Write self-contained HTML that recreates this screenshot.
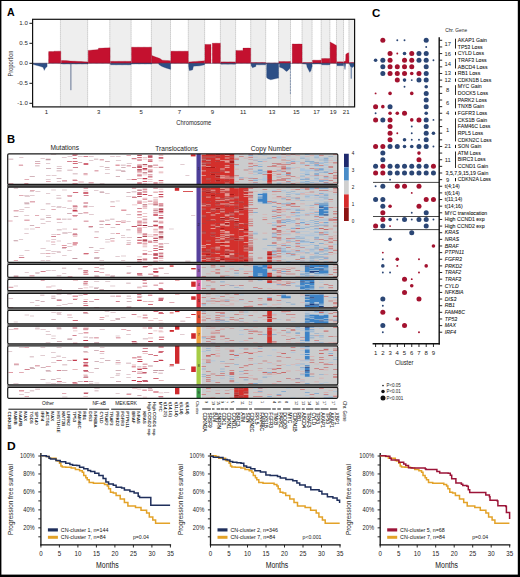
<!DOCTYPE html>
<html><head><meta charset="utf-8"><title>Figure</title>
<style>html,body{margin:0;padding:0;background:#fff;width:520px;height:577px;overflow:hidden}
svg{display:block;font-family:"Liberation Sans", sans-serif}</style></head>
<body><svg width="520" height="577" viewBox="0 0 520 577">
<rect width="520" height="577" fill="#fff"/>
<text x="7.0" y="16.2" font-size="10.6" font-weight="bold" font-family='"Liberation Sans", sans-serif'>A</text>
<rect x="60.45" y="19.3" width="27.18" height="87.7" fill="#eeeeee"/>
<rect x="109.77" y="19.3" width="21.36" height="87.7" fill="#eeeeee"/>
<rect x="151.38" y="19.3" width="19.13" height="87.7" fill="#eeeeee"/>
<rect x="188.29" y="19.3" width="16.33" height="87.7" fill="#eeeeee"/>
<rect x="220.39" y="19.3" width="15.21" height="87.7" fill="#eeeeee"/>
<rect x="250.70" y="19.3" width="14.99" height="87.7" fill="#eeeeee"/>
<rect x="278.55" y="19.3" width="11.97" height="87.7" fill="#eeeeee"/>
<rect x="302.03" y="19.3" width="10.07" height="87.7" fill="#eeeeee"/>
<rect x="321.16" y="19.3" width="8.72" height="87.7" fill="#eeeeee"/>
<rect x="336.48" y="19.3" width="7.05" height="87.7" fill="#eeeeee"/>
<rect x="348.90" y="19.3" width="5.70" height="87.7" fill="#eeeeee"/>
<line x1="60.45" y1="19.6" x2="60.45" y2="106.6" stroke="#8c8c8c" stroke-width="0.6" stroke-dasharray="1 1"/>
<line x1="87.63" y1="19.6" x2="87.63" y2="106.6" stroke="#8c8c8c" stroke-width="0.6" stroke-dasharray="1 1"/>
<line x1="109.77" y1="19.6" x2="109.77" y2="106.6" stroke="#8c8c8c" stroke-width="0.6" stroke-dasharray="1 1"/>
<line x1="131.13" y1="19.6" x2="131.13" y2="106.6" stroke="#8c8c8c" stroke-width="0.6" stroke-dasharray="1 1"/>
<line x1="151.38" y1="19.6" x2="151.38" y2="106.6" stroke="#8c8c8c" stroke-width="0.6" stroke-dasharray="1 1"/>
<line x1="170.50" y1="19.6" x2="170.50" y2="106.6" stroke="#8c8c8c" stroke-width="0.6" stroke-dasharray="1 1"/>
<line x1="188.29" y1="19.6" x2="188.29" y2="106.6" stroke="#8c8c8c" stroke-width="0.6" stroke-dasharray="1 1"/>
<line x1="204.62" y1="19.6" x2="204.62" y2="106.6" stroke="#8c8c8c" stroke-width="0.6" stroke-dasharray="1 1"/>
<line x1="220.39" y1="19.6" x2="220.39" y2="106.6" stroke="#8c8c8c" stroke-width="0.6" stroke-dasharray="1 1"/>
<line x1="235.60" y1="19.6" x2="235.60" y2="106.6" stroke="#8c8c8c" stroke-width="0.6" stroke-dasharray="1 1"/>
<line x1="250.70" y1="19.6" x2="250.70" y2="106.6" stroke="#8c8c8c" stroke-width="0.6" stroke-dasharray="1 1"/>
<line x1="265.68" y1="19.6" x2="265.68" y2="106.6" stroke="#8c8c8c" stroke-width="0.6" stroke-dasharray="1 1"/>
<line x1="278.55" y1="19.6" x2="278.55" y2="106.6" stroke="#8c8c8c" stroke-width="0.6" stroke-dasharray="1 1"/>
<line x1="290.51" y1="19.6" x2="290.51" y2="106.6" stroke="#8c8c8c" stroke-width="0.6" stroke-dasharray="1 1"/>
<line x1="302.03" y1="19.6" x2="302.03" y2="106.6" stroke="#8c8c8c" stroke-width="0.6" stroke-dasharray="1 1"/>
<line x1="312.10" y1="19.6" x2="312.10" y2="106.6" stroke="#8c8c8c" stroke-width="0.6" stroke-dasharray="1 1"/>
<line x1="321.16" y1="19.6" x2="321.16" y2="106.6" stroke="#8c8c8c" stroke-width="0.6" stroke-dasharray="1 1"/>
<line x1="329.88" y1="19.6" x2="329.88" y2="106.6" stroke="#8c8c8c" stroke-width="0.6" stroke-dasharray="1 1"/>
<line x1="336.48" y1="19.6" x2="336.48" y2="106.6" stroke="#8c8c8c" stroke-width="0.6" stroke-dasharray="1 1"/>
<line x1="343.53" y1="19.6" x2="343.53" y2="106.6" stroke="#8c8c8c" stroke-width="0.6" stroke-dasharray="1 1"/>
<line x1="348.90" y1="19.6" x2="348.90" y2="106.6" stroke="#8c8c8c" stroke-width="0.6" stroke-dasharray="1 1"/>
<path d="M48.60,63.30 L48.60,51.60 L54.00,51.60 L54.00,51.20 L60.80,51.20 L60.80,63.30 Z" fill="#c4112f" stroke="#8e0c26" stroke-width="0.45" stroke-dasharray="0.7 0.5"/>
<path d="M61.30,63.30 L61.30,60.50 L66.00,60.60 L70.00,61.00 L76.00,61.30 L82.00,61.60 L88.00,61.90 L88.00,63.30 Z" fill="#c4112f" stroke="#8e0c26" stroke-width="0.45" stroke-dasharray="0.7 0.5"/>
<path d="M88.20,63.30 L88.20,50.40 L93.00,50.00 L98.30,49.60 L98.40,48.30 L104.00,48.00 L110.10,47.80 L110.10,63.30 Z" fill="#c4112f" stroke="#8e0c26" stroke-width="0.45" stroke-dasharray="0.7 0.5"/>
<path d="M110.50,63.30 L110.50,61.30 L131.20,61.30 L131.20,63.30 Z" fill="#c4112f" stroke="#8e0c26" stroke-width="0.45" stroke-dasharray="0.7 0.5"/>
<path d="M131.50,63.30 L131.50,47.20 L151.60,47.20 L151.60,63.30 Z" fill="#c4112f" stroke="#8e0c26" stroke-width="0.45" stroke-dasharray="0.7 0.5"/>
<path d="M151.80,63.30 L151.80,55.60 L156.50,57.30 L160.00,58.60 L162.30,60.20 L170.60,60.80 L170.60,63.30 Z" fill="#c4112f" stroke="#8e0c26" stroke-width="0.45" stroke-dasharray="0.7 0.5"/>
<path d="M170.90,63.30 L170.90,51.20 L188.30,51.20 L188.30,63.30 Z" fill="#c4112f" stroke="#8e0c26" stroke-width="0.45" stroke-dasharray="0.7 0.5"/>
<path d="M188.60,63.30 L188.60,61.90 L196.00,61.40 L204.60,60.80 L204.60,63.30 Z" fill="#c4112f" stroke="#8e0c26" stroke-width="0.45" stroke-dasharray="0.7 0.5"/>
<path d="M204.90,63.30 L204.90,44.40 L211.00,44.40 L211.00,63.30 Z" fill="#c4112f" stroke="#8e0c26" stroke-width="0.45" stroke-dasharray="0.7 0.5"/>
<path d="M212.30,63.30 L212.30,43.20 L220.40,43.20 L220.40,63.30 Z" fill="#c4112f" stroke="#8e0c26" stroke-width="0.45" stroke-dasharray="0.7 0.5"/>
<path d="M220.80,63.30 L220.80,61.90 L235.60,61.90 L235.60,63.30 Z" fill="#c4112f" stroke="#8e0c26" stroke-width="0.45" stroke-dasharray="0.7 0.5"/>
<path d="M235.90,63.30 L235.90,50.40 L243.00,50.40 L243.00,48.10 L250.70,48.10 L250.70,63.30 Z" fill="#c4112f" stroke="#8e0c26" stroke-width="0.45" stroke-dasharray="0.7 0.5"/>
<path d="M251.10,63.30 L251.10,62.50 L265.70,62.50 L265.70,63.30 Z" fill="#c4112f" stroke="#8e0c26" stroke-width="0.45" stroke-dasharray="0.7 0.5"/>
<path d="M266.00,63.30 L266.00,63.00 L278.60,63.00 L278.60,63.30 Z" fill="#c4112f" stroke="#8e0c26" stroke-width="0.45" stroke-dasharray="0.7 0.5"/>
<path d="M278.90,63.30 L278.90,61.50 L290.50,61.50 L290.50,63.30 Z" fill="#c4112f" stroke="#8e0c26" stroke-width="0.45" stroke-dasharray="0.7 0.5"/>
<path d="M292.20,63.30 L292.20,44.00 L302.10,44.00 L302.10,63.30 Z" fill="#c4112f" stroke="#8e0c26" stroke-width="0.45" stroke-dasharray="0.7 0.5"/>
<path d="M302.50,63.30 L302.50,62.50 L312.10,62.50 L312.10,63.30 Z" fill="#c4112f" stroke="#8e0c26" stroke-width="0.45" stroke-dasharray="0.7 0.5"/>
<path d="M312.50,63.30 L312.50,60.20 L321.20,60.20 L321.20,63.30 Z" fill="#c4112f" stroke="#8e0c26" stroke-width="0.45" stroke-dasharray="0.7 0.5"/>
<path d="M321.60,63.30 L321.60,58.50 L329.90,58.50 L329.90,63.30 Z" fill="#c4112f" stroke="#8e0c26" stroke-width="0.45" stroke-dasharray="0.7 0.5"/>
<path d="M330.10,63.30 L330.10,42.00 L333.00,43.50 L336.50,45.60 L336.50,63.30 Z" fill="#c4112f" stroke="#8e0c26" stroke-width="0.45" stroke-dasharray="0.7 0.5"/>
<path d="M336.90,63.30 L336.90,61.80 L343.50,61.80 L343.50,63.30 Z" fill="#c4112f" stroke="#8e0c26" stroke-width="0.45" stroke-dasharray="0.7 0.5"/>
<path d="M344.00,63.30 L344.00,61.50 L345.60,61.00 L345.80,54.50 L347.00,53.30 L348.80,52.80 L349.00,62.00 L349.00,63.30 Z" fill="#c4112f" stroke="#8e0c26" stroke-width="0.45" stroke-dasharray="0.7 0.5"/>
<path d="M349.40,63.30 L349.40,62.50 L354.30,62.50 L354.30,63.30 Z" fill="#c4112f" stroke="#8e0c26" stroke-width="0.45" stroke-dasharray="0.7 0.5"/>
<path d="M33.00,63.30 L33.00,64.30 L36.00,65.30 L40.00,66.30 L43.00,67.30 L44.30,70.30 L45.50,68.00 L47.10,66.50 L47.10,63.30 Z" fill="#2d4f86" stroke="#1f3866" stroke-width="0.45" stroke-dasharray="0.7 0.5"/>
<path d="M61.30,63.30 L61.30,64.00 L88.00,64.00 L88.00,63.30 Z" fill="#2d4f86" stroke="#1f3866" stroke-width="0.45" stroke-dasharray="0.7 0.5"/>
<path d="M110.50,63.30 L110.50,64.80 L131.20,64.80 L131.20,63.30 Z" fill="#2d4f86" stroke="#1f3866" stroke-width="0.45" stroke-dasharray="0.7 0.5"/>
<path d="M131.50,63.30 L131.50,64.00 L151.60,64.00 L151.60,63.30 Z" fill="#2d4f86" stroke="#1f3866" stroke-width="0.45" stroke-dasharray="0.7 0.5"/>
<path d="M158.80,63.30 L158.80,64.50 L162.00,66.50 L166.00,68.00 L170.60,69.40 L170.60,63.30 Z" fill="#2d4f86" stroke="#1f3866" stroke-width="0.45" stroke-dasharray="0.7 0.5"/>
<path d="M188.60,63.30 L188.60,66.00 L189.30,70.60 L192.50,70.00 L193.50,66.20 L200.00,65.80 L204.60,64.80 L204.60,63.30 Z" fill="#2d4f86" stroke="#1f3866" stroke-width="0.45" stroke-dasharray="0.7 0.5"/>
<path d="M220.80,63.30 L220.80,64.20 L235.60,64.20 L235.60,63.30 Z" fill="#2d4f86" stroke="#1f3866" stroke-width="0.45" stroke-dasharray="0.7 0.5"/>
<path d="M251.10,63.30 L251.10,65.50 L252.50,67.70 L255.80,66.50 L256.00,64.80 L265.70,64.80 L265.70,63.30 Z" fill="#2d4f86" stroke="#1f3866" stroke-width="0.45" stroke-dasharray="0.7 0.5"/>
<path d="M266.60,63.30 L266.60,77.50 L268.00,78.80 L270.70,79.80 L274.00,79.00 L278.60,78.00 L278.60,63.30 Z" fill="#2d4f86" stroke="#1f3866" stroke-width="0.45" stroke-dasharray="0.7 0.5"/>
<path d="M279.50,63.30 L279.50,67.10 L283.00,68.50 L286.40,71.40 L288.00,70.50 L290.20,68.00 L290.20,63.30 Z" fill="#2d4f86" stroke="#1f3866" stroke-width="0.45" stroke-dasharray="0.7 0.5"/>
<path d="M302.50,63.30 L302.50,63.80 L306.50,64.20 L307.00,67.00 L309.80,72.30 L311.00,70.50 L312.10,66.50 L312.10,63.30 Z" fill="#2d4f86" stroke="#1f3866" stroke-width="0.45" stroke-dasharray="0.7 0.5"/>
<path d="M312.50,63.30 L312.50,64.00 L321.20,64.00 L321.20,63.30 Z" fill="#2d4f86" stroke="#1f3866" stroke-width="0.45" stroke-dasharray="0.7 0.5"/>
<path d="M321.60,63.30 L321.60,64.80 L329.90,64.80 L329.90,63.30 Z" fill="#2d4f86" stroke="#1f3866" stroke-width="0.45" stroke-dasharray="0.7 0.5"/>
<path d="M336.90,63.30 L336.90,65.70 L343.50,65.70 L343.50,63.30 Z" fill="#2d4f86" stroke="#1f3866" stroke-width="0.45" stroke-dasharray="0.7 0.5"/>
<path d="M344.20,63.30 L344.20,64.50 L345.00,69.50 L345.60,64.50 L345.60,63.30 Z" fill="#2d4f86" stroke="#1f3866" stroke-width="0.45" stroke-dasharray="0.7 0.5"/>
<path d="M349.60,63.30 L349.60,64.50 L350.50,66.50 L352.50,67.50 L354.30,66.00 L354.30,63.30 Z" fill="#2d4f86" stroke="#1f3866" stroke-width="0.45" stroke-dasharray="0.7 0.5"/>
<line x1="70.9" y1="63.3" x2="70.9" y2="90.2" stroke="#56678a" stroke-width="0.9"/>
<line x1="290.4" y1="63.3" x2="290.4" y2="94" stroke="#2d4f86" stroke-width="0.7" stroke-dasharray="0.8 0.7"/>
<line x1="351.2" y1="63.3" x2="351.2" y2="78.7" stroke="#2d4f86" stroke-width="0.8"/>
<line x1="32.6" y1="63.3" x2="354.6" y2="63.3" stroke="#3a3050" stroke-width="0.5"/>
<rect x="32.6" y="19.3" width="322.0" height="87.60000000000001" fill="none" stroke="#111" stroke-width="1.2"/>
<line x1="29.4" y1="23.30" x2="32.6" y2="23.30" stroke="#111" stroke-width="1"/>
<text x="27.8" y="25.40" font-size="6.1" text-anchor="end" fill="#262626" font-family='"Liberation Sans", sans-serif'>1.0</text>
<line x1="29.4" y1="43.30" x2="32.6" y2="43.30" stroke="#111" stroke-width="1"/>
<text x="27.8" y="45.40" font-size="6.1" text-anchor="end" fill="#262626" font-family='"Liberation Sans", sans-serif'>0.5</text>
<line x1="29.4" y1="63.30" x2="32.6" y2="63.30" stroke="#111" stroke-width="1"/>
<text x="27.8" y="65.40" font-size="6.1" text-anchor="end" fill="#262626" font-family='"Liberation Sans", sans-serif'>0.0</text>
<line x1="29.4" y1="83.30" x2="32.6" y2="83.30" stroke="#111" stroke-width="1"/>
<text x="27.8" y="85.40" font-size="6.1" text-anchor="end" fill="#262626" font-family='"Liberation Sans", sans-serif'>-0.5</text>
<line x1="29.4" y1="103.30" x2="32.6" y2="103.30" stroke="#111" stroke-width="1"/>
<text x="27.8" y="105.40" font-size="6.1" text-anchor="end" fill="#262626" font-family='"Liberation Sans", sans-serif'>-1.0</text>
<text transform="translate(12.7,63.5) rotate(-90)" font-size="6.8" text-anchor="middle" fill="#262626" font-family='"Liberation Sans", sans-serif' textLength="26" lengthAdjust="spacingAndGlyphs">Proportion</text>
<text x="46.52" y="114.1" font-size="6.0" text-anchor="middle" fill="#1e1e1e" font-family='"Liberation Sans", sans-serif'>1</text>
<text x="98.70" y="114.1" font-size="6.0" text-anchor="middle" fill="#1e1e1e" font-family='"Liberation Sans", sans-serif'>3</text>
<text x="141.26" y="114.1" font-size="6.0" text-anchor="middle" fill="#1e1e1e" font-family='"Liberation Sans", sans-serif'>5</text>
<text x="179.40" y="114.1" font-size="6.0" text-anchor="middle" fill="#1e1e1e" font-family='"Liberation Sans", sans-serif'>7</text>
<text x="212.50" y="114.1" font-size="6.0" text-anchor="middle" fill="#1e1e1e" font-family='"Liberation Sans", sans-serif'>9</text>
<text x="243.15" y="114.1" font-size="6.0" text-anchor="middle" fill="#1e1e1e" font-family='"Liberation Sans", sans-serif'>11</text>
<text x="272.11" y="114.1" font-size="6.0" text-anchor="middle" fill="#1e1e1e" font-family='"Liberation Sans", sans-serif'>13</text>
<text x="296.27" y="114.1" font-size="6.0" text-anchor="middle" fill="#1e1e1e" font-family='"Liberation Sans", sans-serif'>15</text>
<text x="316.63" y="114.1" font-size="6.0" text-anchor="middle" fill="#1e1e1e" font-family='"Liberation Sans", sans-serif'>17</text>
<text x="333.18" y="114.1" font-size="6.0" text-anchor="middle" fill="#1e1e1e" font-family='"Liberation Sans", sans-serif'>19</text>
<text x="346.21" y="114.1" font-size="6.0" text-anchor="middle" fill="#1e1e1e" font-family='"Liberation Sans", sans-serif'>21</text>
<text x="193.8" y="125.1" font-size="7.6" text-anchor="middle" fill="#1e1e1e" font-family='"Liberation Sans", sans-serif' textLength="35" lengthAdjust="spacingAndGlyphs">Chromosome</text>
<text transform="translate(6.9,142.6) scale(1.06,1)" font-size="10.6" font-weight="bold" font-family='"Liberation Sans", sans-serif'>B</text>
<text x="64.7" y="150.2" font-size="6.6" text-anchor="middle" fill="#222" font-family='"Liberation Sans", sans-serif'>Mutations</text>
<text x="176.6" y="150.6" font-size="6.6" text-anchor="middle" fill="#222" font-family='"Liberation Sans", sans-serif'>Translocations</text>
<text x="271.2" y="150.6" font-size="6.6" text-anchor="middle" fill="#222" font-family='"Liberation Sans", sans-serif'>Copy Number</text>
<rect x="7.1" y="184.40" width="331.29999999999995" height="2.80" fill="#555555"/>
<rect x="7.1" y="262.30" width="331.29999999999995" height="2.10" fill="#8a8a8a"/>
<rect x="7.1" y="277.30" width="331.29999999999995" height="2.10" fill="#8a8a8a"/>
<rect x="7.1" y="290.60" width="331.29999999999995" height="2.80" fill="#8a8a8a"/>
<rect x="7.1" y="307.80" width="331.29999999999995" height="2.60" fill="#8a8a8a"/>
<rect x="7.1" y="323.80" width="331.29999999999995" height="2.30" fill="#8a8a8a"/>
<rect x="7.1" y="343.80" width="331.29999999999995" height="2.20" fill="#8a8a8a"/>
<rect x="7.1" y="384.80" width="331.29999999999995" height="2.50" fill="#8a8a8a"/>
<rect x="7.699999999999999" y="153.79999999999998" width="330.10" height="30.60" fill="#ffffff"/>
<rect x="201.3" y="153.79999999999998" width="136.50" height="30.60" fill="#cbcccd"/>
<rect x="7.699999999999999" y="187.2" width="330.10" height="75.10" fill="#ffffff"/>
<rect x="201.3" y="187.2" width="136.50" height="75.10" fill="#cbcccd"/>
<rect x="7.699999999999999" y="264.40000000000003" width="330.10" height="12.90" fill="#ffffff"/>
<rect x="201.3" y="264.40000000000003" width="136.50" height="12.90" fill="#cbcccd"/>
<rect x="7.699999999999999" y="279.40000000000003" width="330.10" height="11.20" fill="#ffffff"/>
<rect x="201.3" y="279.40000000000003" width="136.50" height="11.20" fill="#cbcccd"/>
<rect x="7.699999999999999" y="293.40000000000003" width="330.10" height="14.40" fill="#ffffff"/>
<rect x="201.3" y="293.40000000000003" width="136.50" height="14.40" fill="#cbcccd"/>
<rect x="7.699999999999999" y="310.40000000000003" width="330.10" height="13.40" fill="#ffffff"/>
<rect x="201.3" y="310.40000000000003" width="136.50" height="13.40" fill="#cbcccd"/>
<rect x="7.699999999999999" y="326.1" width="330.10" height="17.70" fill="#ffffff"/>
<rect x="201.3" y="326.1" width="136.50" height="17.70" fill="#cbcccd"/>
<rect x="7.699999999999999" y="346.0" width="330.10" height="38.80" fill="#ffffff"/>
<rect x="201.3" y="346.0" width="136.50" height="38.80" fill="#cbcccd"/>
<rect x="7.699999999999999" y="387.3" width="330.10" height="11.00" fill="#ffffff"/>
<rect x="201.3" y="387.3" width="136.50" height="11.00" fill="#cbcccd"/>
<path fill="#e59a94" d="M201.3 154.1h4.7v0.9h-4.7zM224.8 155.0h4.7v0.8h-4.7zM224.8 157.6h4.7v1.0h-4.7zM215.4 158.6h4.7v1.0h-4.7zM201.3 159.6h4.7v0.7h-4.7zM206.0 160.3h4.7v0.7h-4.7zM220.1 160.3h4.7v0.7h-4.7zM224.8 160.3h4.7v0.7h-4.7zM224.8 161.0h4.7v0.8h-4.7zM224.8 161.8h4.7v0.7h-4.7zM201.3 163.4h4.7v0.8h-4.7zM201.3 165.2h4.7v1.0h-4.7zM224.8 165.2h4.7v1.0h-4.7zM206.0 166.2h4.7v0.9h-4.7zM224.8 167.1h4.7v0.8h-4.7zM220.1 168.6h4.7v0.9h-4.7zM201.3 170.5h4.7v0.8h-4.7zM224.8 171.3h4.7v1.0h-4.7zM224.8 172.3h4.7v0.8h-4.7zM267.2 173.1h4.7v1.0h-4.7zM201.3 175.0h4.7v0.7h-4.7zM220.1 175.0h4.7v0.7h-4.7zM224.8 175.7h4.7v0.8h-4.7zM220.1 176.5h4.7v0.9h-4.7zM220.1 177.4h4.7v1.0h-4.7zM224.8 177.4h4.7v1.0h-4.7zM229.5 177.4h4.7v1.0h-4.7zM224.8 182.7h4.7v0.9h-4.7zM267.2 182.7h4.7v0.9h-4.7zM220.1 187.5h4.7v0.7h-4.7zM234.2 187.5h4.7v0.7h-4.7zM220.1 188.2h4.7v0.8h-4.7zM224.8 188.2h4.7v0.8h-4.7zM224.8 189.0h4.7v0.8h-4.7zM210.7 189.8h4.7v1.0h-4.7zM220.1 189.8h4.7v1.0h-4.7zM224.8 189.8h4.7v1.0h-4.7zM243.7 190.8h4.7v0.9h-4.7zM220.1 191.7h4.7v0.7h-4.7zM224.8 193.2h4.7v0.9h-4.7zM224.8 194.1h4.7v0.8h-4.7zM243.7 194.1h4.7v0.8h-4.7zM224.8 194.9h4.7v1.0h-4.7zM243.7 195.9h4.7v0.8h-4.7zM206.0 196.7h4.7v0.9h-4.7zM224.8 196.7h4.7v0.9h-4.7zM234.2 196.7h4.7v0.9h-4.7zM215.4 197.6h4.7v0.8h-4.7zM229.5 198.4h4.7v0.9h-4.7zM224.8 199.3h4.7v0.9h-4.7zM215.4 200.2h4.7v0.7h-4.7zM220.1 200.2h4.7v0.7h-4.7zM229.5 201.7h4.7v1.0h-4.7zM220.1 203.5h4.7v0.9h-4.7zM224.8 203.5h4.7v0.9h-4.7zM206.0 204.4h4.7v0.9h-4.7zM229.5 204.4h4.7v0.9h-4.7zM201.3 205.3h4.7v0.9h-4.7zM243.7 207.0h4.7v0.8h-4.7zM210.7 208.7h4.7v0.8h-4.7zM220.1 208.7h4.7v0.8h-4.7zM220.1 211.2h4.7v1.0h-4.7zM234.2 211.2h4.7v1.0h-4.7zM206.0 212.2h4.7v0.8h-4.7zM215.4 213.0h4.7v0.8h-4.7zM229.5 213.8h4.7v0.7h-4.7zM239.0 213.8h4.7v0.7h-4.7zM210.7 214.5h4.7v0.9h-4.7zM224.8 214.5h4.7v0.9h-4.7zM224.8 215.4h4.7v0.8h-4.7zM220.1 217.2h4.7v0.9h-4.7zM229.5 217.2h4.7v0.9h-4.7zM234.2 218.1h4.7v0.7h-4.7zM229.5 218.8h4.7v0.8h-4.7zM210.7 219.6h4.7v0.7h-4.7zM224.8 220.3h4.7v0.8h-4.7zM234.2 220.3h4.7v0.8h-4.7zM224.8 222.0h4.7v1.0h-4.7zM239.0 223.0h4.7v0.8h-4.7zM220.1 223.8h4.7v0.9h-4.7zM210.7 224.7h4.7v0.8h-4.7zM220.1 224.7h4.7v0.8h-4.7zM224.8 224.7h4.7v0.8h-4.7zM224.8 225.5h4.7v0.8h-4.7zM215.4 226.3h4.7v0.9h-4.7zM210.7 227.9h4.7v1.0h-4.7zM239.0 228.9h4.7v1.0h-4.7zM220.1 229.9h4.7v1.0h-4.7zM224.8 230.9h4.7v0.8h-4.7zM220.1 231.7h4.7v0.9h-4.7zM224.8 231.7h4.7v0.9h-4.7zM243.7 231.7h4.7v0.9h-4.7zM224.8 232.6h4.7v0.9h-4.7zM220.1 234.3h4.7v1.0h-4.7zM224.8 234.3h4.7v1.0h-4.7zM229.5 234.3h4.7v1.0h-4.7zM224.8 235.3h4.7v1.0h-4.7zM243.7 235.3h4.7v1.0h-4.7zM220.1 236.3h4.7v0.7h-4.7zM239.0 236.3h4.7v0.7h-4.7zM215.4 237.0h4.7v0.7h-4.7zM224.8 237.0h4.7v0.7h-4.7zM220.1 237.7h4.7v1.0h-4.7zM239.0 237.7h4.7v1.0h-4.7zM220.1 238.7h4.7v0.8h-4.7zM215.4 239.5h4.7v0.9h-4.7zM224.8 241.3h4.7v0.7h-4.7zM215.4 242.0h4.7v1.0h-4.7zM220.1 242.0h4.7v1.0h-4.7zM224.8 242.0h4.7v1.0h-4.7zM243.7 242.0h4.7v1.0h-4.7zM206.0 243.9h4.7v1.0h-4.7zM201.3 244.9h4.7v0.9h-4.7zM220.1 244.9h4.7v0.9h-4.7zM224.8 244.9h4.7v0.9h-4.7zM224.8 245.8h4.7v0.9h-4.7zM201.3 246.7h4.7v1.0h-4.7zM215.4 246.7h4.7v1.0h-4.7zM243.7 247.7h4.7v0.7h-4.7zM215.4 248.4h4.7v1.0h-4.7zM224.8 249.4h4.7v1.0h-4.7zM229.5 250.4h4.7v0.9h-4.7zM243.7 250.4h4.7v0.9h-4.7zM215.4 253.3h4.7v0.8h-4.7zM229.5 253.3h4.7v0.8h-4.7zM229.5 254.1h4.7v0.8h-4.7zM201.3 254.9h4.7v0.7h-4.7zM220.1 254.9h4.7v0.7h-4.7zM224.8 254.9h4.7v0.7h-4.7zM224.8 255.6h4.7v0.9h-4.7zM267.2 255.6h4.7v0.9h-4.7zM224.8 256.5h4.7v1.0h-4.7zM215.4 257.5h4.7v0.8h-4.7zM206.0 258.3h4.7v0.9h-4.7zM201.3 259.2h4.7v0.7h-4.7zM215.4 259.2h4.7v0.7h-4.7zM267.2 259.2h4.7v0.7h-4.7zM206.0 259.9h4.7v0.7h-4.7zM220.1 259.9h4.7v0.7h-4.7zM220.1 261.3h4.7v0.7h-4.7zM267.2 265.4h4.7v1.0h-4.7zM267.2 318.2h4.7v0.7h-4.7zM267.2 327.3h4.7v0.8h-4.7zM243.7 393.8h4.7v1.0h-4.7z"/>
<path fill="#d3302c" d="M206.0 154.1h4.7v0.9h-4.7zM210.7 154.1h4.7v0.9h-4.7zM220.1 154.1h4.7v0.9h-4.7zM201.3 155.0h4.7v0.8h-4.7zM206.0 155.0h4.7v0.8h-4.7zM210.7 155.0h4.7v0.8h-4.7zM215.4 155.0h4.7v0.8h-4.7zM220.1 155.0h4.7v0.8h-4.7zM229.5 155.0h4.7v0.8h-4.7zM201.3 155.8h4.7v0.9h-4.7zM206.0 155.8h4.7v0.9h-4.7zM210.7 155.8h4.7v0.9h-4.7zM220.1 155.8h4.7v0.9h-4.7zM224.8 155.8h4.7v0.9h-4.7zM229.5 155.8h4.7v0.9h-4.7zM215.4 156.7h4.7v0.9h-4.7zM220.1 156.7h4.7v0.9h-4.7zM224.8 156.7h4.7v0.9h-4.7zM201.3 157.6h4.7v1.0h-4.7zM206.0 157.6h4.7v1.0h-4.7zM210.7 157.6h4.7v1.0h-4.7zM215.4 157.6h4.7v1.0h-4.7zM220.1 157.6h4.7v1.0h-4.7zM229.5 157.6h4.7v1.0h-4.7zM206.0 158.6h4.7v1.0h-4.7zM210.7 158.6h4.7v1.0h-4.7zM220.1 158.6h4.7v1.0h-4.7zM224.8 158.6h4.7v1.0h-4.7zM229.5 158.6h4.7v1.0h-4.7zM210.7 159.6h4.7v0.7h-4.7zM215.4 159.6h4.7v0.7h-4.7zM220.1 159.6h4.7v0.7h-4.7zM224.8 159.6h4.7v0.7h-4.7zM210.7 160.3h4.7v0.7h-4.7zM215.4 160.3h4.7v0.7h-4.7zM229.5 160.3h4.7v0.7h-4.7zM201.3 161.0h4.7v0.8h-4.7zM206.0 161.0h4.7v0.8h-4.7zM210.7 161.0h4.7v0.8h-4.7zM220.1 161.0h4.7v0.8h-4.7zM201.3 161.8h4.7v0.7h-4.7zM206.0 161.8h4.7v0.7h-4.7zM210.7 161.8h4.7v0.7h-4.7zM215.4 161.8h4.7v0.7h-4.7zM220.1 161.8h4.7v0.7h-4.7zM210.7 162.5h4.7v0.9h-4.7zM215.4 162.5h4.7v0.9h-4.7zM220.1 162.5h4.7v0.9h-4.7zM224.8 162.5h4.7v0.9h-4.7zM206.0 163.4h4.7v0.8h-4.7zM210.7 163.4h4.7v0.8h-4.7zM215.4 163.4h4.7v0.8h-4.7zM220.1 163.4h4.7v0.8h-4.7zM224.8 163.4h4.7v0.8h-4.7zM229.5 163.4h4.7v0.8h-4.7zM206.0 164.2h4.7v1.0h-4.7zM210.7 164.2h4.7v1.0h-4.7zM215.4 164.2h4.7v1.0h-4.7zM220.1 164.2h4.7v1.0h-4.7zM224.8 164.2h4.7v1.0h-4.7zM229.5 164.2h4.7v1.0h-4.7zM206.0 165.2h4.7v1.0h-4.7zM210.7 165.2h4.7v1.0h-4.7zM215.4 165.2h4.7v1.0h-4.7zM220.1 165.2h4.7v1.0h-4.7zM229.5 165.2h4.7v1.0h-4.7zM201.3 166.2h4.7v0.9h-4.7zM210.7 166.2h4.7v0.9h-4.7zM215.4 166.2h4.7v0.9h-4.7zM220.1 166.2h4.7v0.9h-4.7zM224.8 166.2h4.7v0.9h-4.7zM229.5 166.2h4.7v0.9h-4.7zM201.3 167.1h4.7v0.8h-4.7zM215.4 167.1h4.7v0.8h-4.7zM220.1 167.1h4.7v0.8h-4.7zM229.5 167.1h4.7v0.8h-4.7zM201.3 167.9h4.7v0.7h-4.7zM206.0 167.9h4.7v0.7h-4.7zM210.7 167.9h4.7v0.7h-4.7zM215.4 167.9h4.7v0.7h-4.7zM220.1 167.9h4.7v0.7h-4.7zM224.8 167.9h4.7v0.7h-4.7zM229.5 167.9h4.7v0.7h-4.7zM201.3 168.6h4.7v0.9h-4.7zM206.0 168.6h4.7v0.9h-4.7zM210.7 168.6h4.7v0.9h-4.7zM215.4 168.6h4.7v0.9h-4.7zM224.8 168.6h4.7v0.9h-4.7zM229.5 168.6h4.7v0.9h-4.7zM201.3 169.5h4.7v1.0h-4.7zM206.0 169.5h4.7v1.0h-4.7zM210.7 169.5h4.7v1.0h-4.7zM215.4 169.5h4.7v1.0h-4.7zM220.1 169.5h4.7v1.0h-4.7zM224.8 169.5h4.7v1.0h-4.7zM229.5 169.5h4.7v1.0h-4.7zM206.0 170.5h4.7v0.8h-4.7zM210.7 170.5h4.7v0.8h-4.7zM215.4 170.5h4.7v0.8h-4.7zM224.8 170.5h4.7v0.8h-4.7zM229.5 170.5h4.7v0.8h-4.7zM267.2 170.5h4.7v0.8h-4.7zM201.3 171.3h4.7v1.0h-4.7zM206.0 171.3h4.7v1.0h-4.7zM210.7 171.3h4.7v1.0h-4.7zM215.4 171.3h4.7v1.0h-4.7zM220.1 171.3h4.7v1.0h-4.7zM229.5 171.3h4.7v1.0h-4.7zM267.2 171.3h4.7v1.0h-4.7zM201.3 172.3h4.7v0.8h-4.7zM206.0 172.3h4.7v0.8h-4.7zM220.1 172.3h4.7v0.8h-4.7zM229.5 172.3h4.7v0.8h-4.7zM267.2 172.3h4.7v0.8h-4.7zM201.3 173.1h4.7v1.0h-4.7zM206.0 173.1h4.7v1.0h-4.7zM210.7 173.1h4.7v1.0h-4.7zM215.4 173.1h4.7v1.0h-4.7zM220.1 173.1h4.7v1.0h-4.7zM224.8 173.1h4.7v1.0h-4.7zM229.5 173.1h4.7v1.0h-4.7zM201.3 174.1h4.7v0.9h-4.7zM206.0 174.1h4.7v0.9h-4.7zM215.4 174.1h4.7v0.9h-4.7zM220.1 174.1h4.7v0.9h-4.7zM224.8 174.1h4.7v0.9h-4.7zM229.5 174.1h4.7v0.9h-4.7zM267.2 174.1h4.7v0.9h-4.7zM206.0 175.0h4.7v0.7h-4.7zM210.7 175.0h4.7v0.7h-4.7zM215.4 175.0h4.7v0.7h-4.7zM224.8 175.0h4.7v0.7h-4.7zM229.5 175.0h4.7v0.7h-4.7zM267.2 175.0h4.7v0.7h-4.7zM201.3 175.7h4.7v0.8h-4.7zM206.0 175.7h4.7v0.8h-4.7zM210.7 175.7h4.7v0.8h-4.7zM220.1 175.7h4.7v0.8h-4.7zM229.5 175.7h4.7v0.8h-4.7zM267.2 175.7h4.7v0.8h-4.7zM201.3 176.5h4.7v0.9h-4.7zM206.0 176.5h4.7v0.9h-4.7zM210.7 176.5h4.7v0.9h-4.7zM224.8 176.5h4.7v0.9h-4.7zM267.2 176.5h4.7v0.9h-4.7zM201.3 177.4h4.7v1.0h-4.7zM206.0 177.4h4.7v1.0h-4.7zM210.7 177.4h4.7v1.0h-4.7zM215.4 177.4h4.7v1.0h-4.7zM267.2 177.4h4.7v1.0h-4.7zM201.3 178.4h4.7v0.8h-4.7zM210.7 178.4h4.7v0.8h-4.7zM215.4 178.4h4.7v0.8h-4.7zM220.1 178.4h4.7v0.8h-4.7zM224.8 178.4h4.7v0.8h-4.7zM229.5 178.4h4.7v0.8h-4.7zM267.2 178.4h4.7v0.8h-4.7zM201.3 179.2h4.7v0.9h-4.7zM206.0 179.2h4.7v0.9h-4.7zM210.7 179.2h4.7v0.9h-4.7zM215.4 179.2h4.7v0.9h-4.7zM220.1 179.2h4.7v0.9h-4.7zM229.5 179.2h4.7v0.9h-4.7zM201.3 180.1h4.7v0.9h-4.7zM206.0 180.1h4.7v0.9h-4.7zM210.7 180.1h4.7v0.9h-4.7zM220.1 180.1h4.7v0.9h-4.7zM224.8 180.1h4.7v0.9h-4.7zM229.5 180.1h4.7v0.9h-4.7zM267.2 180.1h4.7v0.9h-4.7zM201.3 181.0h4.7v0.8h-4.7zM210.7 181.0h4.7v0.8h-4.7zM220.1 181.0h4.7v0.8h-4.7zM229.5 181.0h4.7v0.8h-4.7zM267.2 181.0h4.7v0.8h-4.7zM201.3 181.8h4.7v0.9h-4.7zM206.0 181.8h4.7v0.9h-4.7zM210.7 181.8h4.7v0.9h-4.7zM215.4 181.8h4.7v0.9h-4.7zM220.1 181.8h4.7v0.9h-4.7zM224.8 181.8h4.7v0.9h-4.7zM229.5 181.8h4.7v0.9h-4.7zM267.2 181.8h4.7v0.9h-4.7zM201.3 182.7h4.7v0.9h-4.7zM206.0 182.7h4.7v0.9h-4.7zM210.7 182.7h4.7v0.9h-4.7zM215.4 182.7h4.7v0.9h-4.7zM220.1 182.7h4.7v0.9h-4.7zM229.5 182.7h4.7v0.9h-4.7zM201.3 183.6h4.7v0.5h-4.7zM206.0 183.6h4.7v0.5h-4.7zM210.7 183.6h4.7v0.5h-4.7zM215.4 183.6h4.7v0.5h-4.7zM220.1 183.6h4.7v0.5h-4.7zM224.8 183.6h4.7v0.5h-4.7zM229.5 183.6h4.7v0.5h-4.7zM201.3 187.5h4.7v0.7h-4.7zM206.0 187.5h4.7v0.7h-4.7zM210.7 187.5h4.7v0.7h-4.7zM215.4 187.5h4.7v0.7h-4.7zM224.8 187.5h4.7v0.7h-4.7zM229.5 187.5h4.7v0.7h-4.7zM239.0 187.5h4.7v0.7h-4.7zM243.7 187.5h4.7v0.7h-4.7zM201.3 188.2h4.7v0.8h-4.7zM210.7 188.2h4.7v0.8h-4.7zM215.4 188.2h4.7v0.8h-4.7zM229.5 188.2h4.7v0.8h-4.7zM234.2 188.2h4.7v0.8h-4.7zM239.0 188.2h4.7v0.8h-4.7zM243.7 188.2h4.7v0.8h-4.7zM201.3 189.0h4.7v0.8h-4.7zM206.0 189.0h4.7v0.8h-4.7zM210.7 189.0h4.7v0.8h-4.7zM215.4 189.0h4.7v0.8h-4.7zM229.5 189.0h4.7v0.8h-4.7zM234.2 189.0h4.7v0.8h-4.7zM239.0 189.0h4.7v0.8h-4.7zM243.7 189.0h4.7v0.8h-4.7zM201.3 189.8h4.7v1.0h-4.7zM215.4 189.8h4.7v1.0h-4.7zM229.5 189.8h4.7v1.0h-4.7zM234.2 189.8h4.7v1.0h-4.7zM239.0 189.8h4.7v1.0h-4.7zM206.0 190.8h4.7v0.9h-4.7zM210.7 190.8h4.7v0.9h-4.7zM215.4 190.8h4.7v0.9h-4.7zM220.1 190.8h4.7v0.9h-4.7zM224.8 190.8h4.7v0.9h-4.7zM229.5 190.8h4.7v0.9h-4.7zM234.2 190.8h4.7v0.9h-4.7zM239.0 190.8h4.7v0.9h-4.7zM201.3 191.7h4.7v0.7h-4.7zM215.4 191.7h4.7v0.7h-4.7zM229.5 191.7h4.7v0.7h-4.7zM234.2 191.7h4.7v0.7h-4.7zM239.0 191.7h4.7v0.7h-4.7zM243.7 191.7h4.7v0.7h-4.7zM201.3 192.4h4.7v0.8h-4.7zM210.7 192.4h4.7v0.8h-4.7zM215.4 192.4h4.7v0.8h-4.7zM220.1 192.4h4.7v0.8h-4.7zM224.8 192.4h4.7v0.8h-4.7zM229.5 192.4h4.7v0.8h-4.7zM234.2 192.4h4.7v0.8h-4.7zM239.0 192.4h4.7v0.8h-4.7zM243.7 192.4h4.7v0.8h-4.7zM201.3 193.2h4.7v0.9h-4.7zM206.0 193.2h4.7v0.9h-4.7zM210.7 193.2h4.7v0.9h-4.7zM220.1 193.2h4.7v0.9h-4.7zM229.5 193.2h4.7v0.9h-4.7zM234.2 193.2h4.7v0.9h-4.7zM239.0 193.2h4.7v0.9h-4.7zM201.3 194.1h4.7v0.8h-4.7zM206.0 194.1h4.7v0.8h-4.7zM210.7 194.1h4.7v0.8h-4.7zM215.4 194.1h4.7v0.8h-4.7zM220.1 194.1h4.7v0.8h-4.7zM234.2 194.1h4.7v0.8h-4.7zM239.0 194.1h4.7v0.8h-4.7zM201.3 194.9h4.7v1.0h-4.7zM206.0 194.9h4.7v1.0h-4.7zM215.4 194.9h4.7v1.0h-4.7zM220.1 194.9h4.7v1.0h-4.7zM229.5 194.9h4.7v1.0h-4.7zM234.2 194.9h4.7v1.0h-4.7zM239.0 194.9h4.7v1.0h-4.7zM243.7 194.9h4.7v1.0h-4.7zM206.0 195.9h4.7v0.8h-4.7zM210.7 195.9h4.7v0.8h-4.7zM215.4 195.9h4.7v0.8h-4.7zM220.1 195.9h4.7v0.8h-4.7zM224.8 195.9h4.7v0.8h-4.7zM229.5 195.9h4.7v0.8h-4.7zM234.2 195.9h4.7v0.8h-4.7zM239.0 195.9h4.7v0.8h-4.7zM201.3 196.7h4.7v0.9h-4.7zM210.7 196.7h4.7v0.9h-4.7zM215.4 196.7h4.7v0.9h-4.7zM220.1 196.7h4.7v0.9h-4.7zM229.5 196.7h4.7v0.9h-4.7zM239.0 196.7h4.7v0.9h-4.7zM243.7 196.7h4.7v0.9h-4.7zM201.3 197.6h4.7v0.8h-4.7zM206.0 197.6h4.7v0.8h-4.7zM210.7 197.6h4.7v0.8h-4.7zM220.1 197.6h4.7v0.8h-4.7zM239.0 197.6h4.7v0.8h-4.7zM243.7 197.6h4.7v0.8h-4.7zM201.3 198.4h4.7v0.9h-4.7zM206.0 198.4h4.7v0.9h-4.7zM210.7 198.4h4.7v0.9h-4.7zM215.4 198.4h4.7v0.9h-4.7zM224.8 198.4h4.7v0.9h-4.7zM234.2 198.4h4.7v0.9h-4.7zM239.0 198.4h4.7v0.9h-4.7zM243.7 198.4h4.7v0.9h-4.7zM201.3 199.3h4.7v0.9h-4.7zM206.0 199.3h4.7v0.9h-4.7zM210.7 199.3h4.7v0.9h-4.7zM215.4 199.3h4.7v0.9h-4.7zM220.1 199.3h4.7v0.9h-4.7zM229.5 199.3h4.7v0.9h-4.7zM234.2 199.3h4.7v0.9h-4.7zM239.0 199.3h4.7v0.9h-4.7zM243.7 199.3h4.7v0.9h-4.7zM201.3 200.2h4.7v0.7h-4.7zM206.0 200.2h4.7v0.7h-4.7zM210.7 200.2h4.7v0.7h-4.7zM224.8 200.2h4.7v0.7h-4.7zM229.5 200.2h4.7v0.7h-4.7zM234.2 200.2h4.7v0.7h-4.7zM239.0 200.2h4.7v0.7h-4.7zM243.7 200.2h4.7v0.7h-4.7zM201.3 200.9h4.7v0.8h-4.7zM210.7 200.9h4.7v0.8h-4.7zM215.4 200.9h4.7v0.8h-4.7zM220.1 200.9h4.7v0.8h-4.7zM229.5 200.9h4.7v0.8h-4.7zM239.0 200.9h4.7v0.8h-4.7zM243.7 200.9h4.7v0.8h-4.7zM201.3 201.7h4.7v1.0h-4.7zM206.0 201.7h4.7v1.0h-4.7zM210.7 201.7h4.7v1.0h-4.7zM220.1 201.7h4.7v1.0h-4.7zM224.8 201.7h4.7v1.0h-4.7zM234.2 201.7h4.7v1.0h-4.7zM243.7 201.7h4.7v1.0h-4.7zM201.3 202.7h4.7v0.8h-4.7zM206.0 202.7h4.7v0.8h-4.7zM210.7 202.7h4.7v0.8h-4.7zM215.4 202.7h4.7v0.8h-4.7zM220.1 202.7h4.7v0.8h-4.7zM224.8 202.7h4.7v0.8h-4.7zM229.5 202.7h4.7v0.8h-4.7zM234.2 202.7h4.7v0.8h-4.7zM239.0 202.7h4.7v0.8h-4.7zM243.7 202.7h4.7v0.8h-4.7zM206.0 203.5h4.7v0.9h-4.7zM210.7 203.5h4.7v0.9h-4.7zM215.4 203.5h4.7v0.9h-4.7zM229.5 203.5h4.7v0.9h-4.7zM234.2 203.5h4.7v0.9h-4.7zM239.0 203.5h4.7v0.9h-4.7zM243.7 203.5h4.7v0.9h-4.7zM201.3 204.4h4.7v0.9h-4.7zM210.7 204.4h4.7v0.9h-4.7zM220.1 204.4h4.7v0.9h-4.7zM239.0 204.4h4.7v0.9h-4.7zM243.7 204.4h4.7v0.9h-4.7zM210.7 205.3h4.7v0.9h-4.7zM215.4 205.3h4.7v0.9h-4.7zM220.1 205.3h4.7v0.9h-4.7zM224.8 205.3h4.7v0.9h-4.7zM229.5 205.3h4.7v0.9h-4.7zM234.2 205.3h4.7v0.9h-4.7zM239.0 205.3h4.7v0.9h-4.7zM201.3 206.2h4.7v0.8h-4.7zM206.0 206.2h4.7v0.8h-4.7zM210.7 206.2h4.7v0.8h-4.7zM215.4 206.2h4.7v0.8h-4.7zM220.1 206.2h4.7v0.8h-4.7zM229.5 206.2h4.7v0.8h-4.7zM234.2 206.2h4.7v0.8h-4.7zM239.0 206.2h4.7v0.8h-4.7zM243.7 206.2h4.7v0.8h-4.7zM201.3 207.0h4.7v0.8h-4.7zM206.0 207.0h4.7v0.8h-4.7zM210.7 207.0h4.7v0.8h-4.7zM215.4 207.0h4.7v0.8h-4.7zM220.1 207.0h4.7v0.8h-4.7zM224.8 207.0h4.7v0.8h-4.7zM229.5 207.0h4.7v0.8h-4.7zM239.0 207.0h4.7v0.8h-4.7zM201.3 207.8h4.7v0.9h-4.7zM206.0 207.8h4.7v0.9h-4.7zM210.7 207.8h4.7v0.9h-4.7zM220.1 207.8h4.7v0.9h-4.7zM224.8 207.8h4.7v0.9h-4.7zM229.5 207.8h4.7v0.9h-4.7zM234.2 207.8h4.7v0.9h-4.7zM239.0 207.8h4.7v0.9h-4.7zM243.7 207.8h4.7v0.9h-4.7zM206.0 208.7h4.7v0.8h-4.7zM224.8 208.7h4.7v0.8h-4.7zM229.5 208.7h4.7v0.8h-4.7zM234.2 208.7h4.7v0.8h-4.7zM201.3 209.5h4.7v0.8h-4.7zM206.0 209.5h4.7v0.8h-4.7zM210.7 209.5h4.7v0.8h-4.7zM215.4 209.5h4.7v0.8h-4.7zM220.1 209.5h4.7v0.8h-4.7zM224.8 209.5h4.7v0.8h-4.7zM229.5 209.5h4.7v0.8h-4.7zM243.7 209.5h4.7v0.8h-4.7zM201.3 210.3h4.7v0.9h-4.7zM206.0 210.3h4.7v0.9h-4.7zM215.4 210.3h4.7v0.9h-4.7zM224.8 210.3h4.7v0.9h-4.7zM229.5 210.3h4.7v0.9h-4.7zM234.2 210.3h4.7v0.9h-4.7zM239.0 210.3h4.7v0.9h-4.7zM243.7 210.3h4.7v0.9h-4.7zM201.3 211.2h4.7v1.0h-4.7zM206.0 211.2h4.7v1.0h-4.7zM210.7 211.2h4.7v1.0h-4.7zM215.4 211.2h4.7v1.0h-4.7zM224.8 211.2h4.7v1.0h-4.7zM229.5 211.2h4.7v1.0h-4.7zM239.0 211.2h4.7v1.0h-4.7zM243.7 211.2h4.7v1.0h-4.7zM201.3 212.2h4.7v0.8h-4.7zM210.7 212.2h4.7v0.8h-4.7zM215.4 212.2h4.7v0.8h-4.7zM220.1 212.2h4.7v0.8h-4.7zM224.8 212.2h4.7v0.8h-4.7zM234.2 212.2h4.7v0.8h-4.7zM239.0 212.2h4.7v0.8h-4.7zM243.7 212.2h4.7v0.8h-4.7zM201.3 213.0h4.7v0.8h-4.7zM206.0 213.0h4.7v0.8h-4.7zM210.7 213.0h4.7v0.8h-4.7zM220.1 213.0h4.7v0.8h-4.7zM229.5 213.0h4.7v0.8h-4.7zM234.2 213.0h4.7v0.8h-4.7zM239.0 213.0h4.7v0.8h-4.7zM243.7 213.0h4.7v0.8h-4.7zM201.3 213.8h4.7v0.7h-4.7zM206.0 213.8h4.7v0.7h-4.7zM210.7 213.8h4.7v0.7h-4.7zM215.4 213.8h4.7v0.7h-4.7zM220.1 213.8h4.7v0.7h-4.7zM224.8 213.8h4.7v0.7h-4.7zM234.2 213.8h4.7v0.7h-4.7zM243.7 213.8h4.7v0.7h-4.7zM201.3 214.5h4.7v0.9h-4.7zM206.0 214.5h4.7v0.9h-4.7zM215.4 214.5h4.7v0.9h-4.7zM220.1 214.5h4.7v0.9h-4.7zM234.2 214.5h4.7v0.9h-4.7zM239.0 214.5h4.7v0.9h-4.7zM243.7 214.5h4.7v0.9h-4.7zM206.0 215.4h4.7v0.8h-4.7zM210.7 215.4h4.7v0.8h-4.7zM215.4 215.4h4.7v0.8h-4.7zM220.1 215.4h4.7v0.8h-4.7zM229.5 215.4h4.7v0.8h-4.7zM234.2 215.4h4.7v0.8h-4.7zM239.0 215.4h4.7v0.8h-4.7zM243.7 215.4h4.7v0.8h-4.7zM201.3 216.2h4.7v1.0h-4.7zM206.0 216.2h4.7v1.0h-4.7zM210.7 216.2h4.7v1.0h-4.7zM215.4 216.2h4.7v1.0h-4.7zM220.1 216.2h4.7v1.0h-4.7zM224.8 216.2h4.7v1.0h-4.7zM229.5 216.2h4.7v1.0h-4.7zM234.2 216.2h4.7v1.0h-4.7zM239.0 216.2h4.7v1.0h-4.7zM243.7 216.2h4.7v1.0h-4.7zM206.0 217.2h4.7v0.9h-4.7zM210.7 217.2h4.7v0.9h-4.7zM215.4 217.2h4.7v0.9h-4.7zM224.8 217.2h4.7v0.9h-4.7zM234.2 217.2h4.7v0.9h-4.7zM239.0 217.2h4.7v0.9h-4.7zM243.7 217.2h4.7v0.9h-4.7zM201.3 218.1h4.7v0.7h-4.7zM206.0 218.1h4.7v0.7h-4.7zM210.7 218.1h4.7v0.7h-4.7zM215.4 218.1h4.7v0.7h-4.7zM239.0 218.1h4.7v0.7h-4.7zM243.7 218.1h4.7v0.7h-4.7zM201.3 218.8h4.7v0.8h-4.7zM206.0 218.8h4.7v0.8h-4.7zM210.7 218.8h4.7v0.8h-4.7zM215.4 218.8h4.7v0.8h-4.7zM224.8 218.8h4.7v0.8h-4.7zM234.2 218.8h4.7v0.8h-4.7zM239.0 218.8h4.7v0.8h-4.7zM243.7 218.8h4.7v0.8h-4.7zM201.3 219.6h4.7v0.7h-4.7zM206.0 219.6h4.7v0.7h-4.7zM215.4 219.6h4.7v0.7h-4.7zM220.1 219.6h4.7v0.7h-4.7zM224.8 219.6h4.7v0.7h-4.7zM234.2 219.6h4.7v0.7h-4.7zM239.0 219.6h4.7v0.7h-4.7zM243.7 219.6h4.7v0.7h-4.7zM201.3 220.3h4.7v0.8h-4.7zM215.4 220.3h4.7v0.8h-4.7zM229.5 220.3h4.7v0.8h-4.7zM239.0 220.3h4.7v0.8h-4.7zM243.7 220.3h4.7v0.8h-4.7zM201.3 221.1h4.7v0.9h-4.7zM206.0 221.1h4.7v0.9h-4.7zM210.7 221.1h4.7v0.9h-4.7zM215.4 221.1h4.7v0.9h-4.7zM220.1 221.1h4.7v0.9h-4.7zM224.8 221.1h4.7v0.9h-4.7zM229.5 221.1h4.7v0.9h-4.7zM239.0 221.1h4.7v0.9h-4.7zM243.7 221.1h4.7v0.9h-4.7zM201.3 222.0h4.7v1.0h-4.7zM206.0 222.0h4.7v1.0h-4.7zM210.7 222.0h4.7v1.0h-4.7zM215.4 222.0h4.7v1.0h-4.7zM220.1 222.0h4.7v1.0h-4.7zM229.5 222.0h4.7v1.0h-4.7zM234.2 222.0h4.7v1.0h-4.7zM239.0 222.0h4.7v1.0h-4.7zM243.7 222.0h4.7v1.0h-4.7zM206.0 223.0h4.7v0.8h-4.7zM210.7 223.0h4.7v0.8h-4.7zM220.1 223.0h4.7v0.8h-4.7zM229.5 223.0h4.7v0.8h-4.7zM243.7 223.0h4.7v0.8h-4.7zM201.3 223.8h4.7v0.9h-4.7zM206.0 223.8h4.7v0.9h-4.7zM210.7 223.8h4.7v0.9h-4.7zM215.4 223.8h4.7v0.9h-4.7zM229.5 223.8h4.7v0.9h-4.7zM234.2 223.8h4.7v0.9h-4.7zM239.0 223.8h4.7v0.9h-4.7zM201.3 224.7h4.7v0.8h-4.7zM206.0 224.7h4.7v0.8h-4.7zM215.4 224.7h4.7v0.8h-4.7zM229.5 224.7h4.7v0.8h-4.7zM239.0 224.7h4.7v0.8h-4.7zM243.7 224.7h4.7v0.8h-4.7zM201.3 225.5h4.7v0.8h-4.7zM206.0 225.5h4.7v0.8h-4.7zM210.7 225.5h4.7v0.8h-4.7zM215.4 225.5h4.7v0.8h-4.7zM220.1 225.5h4.7v0.8h-4.7zM229.5 225.5h4.7v0.8h-4.7zM234.2 225.5h4.7v0.8h-4.7zM239.0 225.5h4.7v0.8h-4.7zM243.7 225.5h4.7v0.8h-4.7zM201.3 226.3h4.7v0.9h-4.7zM206.0 226.3h4.7v0.9h-4.7zM210.7 226.3h4.7v0.9h-4.7zM220.1 226.3h4.7v0.9h-4.7zM224.8 226.3h4.7v0.9h-4.7zM229.5 226.3h4.7v0.9h-4.7zM234.2 226.3h4.7v0.9h-4.7zM239.0 226.3h4.7v0.9h-4.7zM243.7 226.3h4.7v0.9h-4.7zM201.3 227.2h4.7v0.7h-4.7zM206.0 227.2h4.7v0.7h-4.7zM210.7 227.2h4.7v0.7h-4.7zM220.1 227.2h4.7v0.7h-4.7zM224.8 227.2h4.7v0.7h-4.7zM229.5 227.2h4.7v0.7h-4.7zM243.7 227.2h4.7v0.7h-4.7zM201.3 227.9h4.7v1.0h-4.7zM206.0 227.9h4.7v1.0h-4.7zM215.4 227.9h4.7v1.0h-4.7zM224.8 227.9h4.7v1.0h-4.7zM229.5 227.9h4.7v1.0h-4.7zM234.2 227.9h4.7v1.0h-4.7zM239.0 227.9h4.7v1.0h-4.7zM243.7 227.9h4.7v1.0h-4.7zM201.3 228.9h4.7v1.0h-4.7zM206.0 228.9h4.7v1.0h-4.7zM210.7 228.9h4.7v1.0h-4.7zM215.4 228.9h4.7v1.0h-4.7zM220.1 228.9h4.7v1.0h-4.7zM224.8 228.9h4.7v1.0h-4.7zM229.5 228.9h4.7v1.0h-4.7zM234.2 228.9h4.7v1.0h-4.7zM201.3 229.9h4.7v1.0h-4.7zM206.0 229.9h4.7v1.0h-4.7zM210.7 229.9h4.7v1.0h-4.7zM215.4 229.9h4.7v1.0h-4.7zM224.8 229.9h4.7v1.0h-4.7zM229.5 229.9h4.7v1.0h-4.7zM234.2 229.9h4.7v1.0h-4.7zM239.0 229.9h4.7v1.0h-4.7zM243.7 229.9h4.7v1.0h-4.7zM206.0 230.9h4.7v0.8h-4.7zM210.7 230.9h4.7v0.8h-4.7zM215.4 230.9h4.7v0.8h-4.7zM220.1 230.9h4.7v0.8h-4.7zM229.5 230.9h4.7v0.8h-4.7zM234.2 230.9h4.7v0.8h-4.7zM243.7 230.9h4.7v0.8h-4.7zM201.3 231.7h4.7v0.9h-4.7zM206.0 231.7h4.7v0.9h-4.7zM210.7 231.7h4.7v0.9h-4.7zM215.4 231.7h4.7v0.9h-4.7zM229.5 231.7h4.7v0.9h-4.7zM234.2 231.7h4.7v0.9h-4.7zM239.0 231.7h4.7v0.9h-4.7zM206.0 232.6h4.7v0.9h-4.7zM215.4 232.6h4.7v0.9h-4.7zM220.1 232.6h4.7v0.9h-4.7zM229.5 232.6h4.7v0.9h-4.7zM234.2 232.6h4.7v0.9h-4.7zM239.0 232.6h4.7v0.9h-4.7zM243.7 232.6h4.7v0.9h-4.7zM201.3 233.5h4.7v0.8h-4.7zM206.0 233.5h4.7v0.8h-4.7zM210.7 233.5h4.7v0.8h-4.7zM215.4 233.5h4.7v0.8h-4.7zM220.1 233.5h4.7v0.8h-4.7zM229.5 233.5h4.7v0.8h-4.7zM234.2 233.5h4.7v0.8h-4.7zM239.0 233.5h4.7v0.8h-4.7zM243.7 233.5h4.7v0.8h-4.7zM201.3 234.3h4.7v1.0h-4.7zM206.0 234.3h4.7v1.0h-4.7zM210.7 234.3h4.7v1.0h-4.7zM215.4 234.3h4.7v1.0h-4.7zM234.2 234.3h4.7v1.0h-4.7zM239.0 234.3h4.7v1.0h-4.7zM243.7 234.3h4.7v1.0h-4.7zM201.3 235.3h4.7v1.0h-4.7zM206.0 235.3h4.7v1.0h-4.7zM215.4 235.3h4.7v1.0h-4.7zM220.1 235.3h4.7v1.0h-4.7zM229.5 235.3h4.7v1.0h-4.7zM234.2 235.3h4.7v1.0h-4.7zM239.0 235.3h4.7v1.0h-4.7zM201.3 236.3h4.7v0.7h-4.7zM206.0 236.3h4.7v0.7h-4.7zM210.7 236.3h4.7v0.7h-4.7zM215.4 236.3h4.7v0.7h-4.7zM229.5 236.3h4.7v0.7h-4.7zM234.2 236.3h4.7v0.7h-4.7zM243.7 236.3h4.7v0.7h-4.7zM201.3 237.0h4.7v0.7h-4.7zM206.0 237.0h4.7v0.7h-4.7zM210.7 237.0h4.7v0.7h-4.7zM220.1 237.0h4.7v0.7h-4.7zM234.2 237.0h4.7v0.7h-4.7zM239.0 237.0h4.7v0.7h-4.7zM243.7 237.0h4.7v0.7h-4.7zM201.3 237.7h4.7v1.0h-4.7zM206.0 237.7h4.7v1.0h-4.7zM210.7 237.7h4.7v1.0h-4.7zM215.4 237.7h4.7v1.0h-4.7zM224.8 237.7h4.7v1.0h-4.7zM229.5 237.7h4.7v1.0h-4.7zM234.2 237.7h4.7v1.0h-4.7zM243.7 237.7h4.7v1.0h-4.7zM201.3 238.7h4.7v0.8h-4.7zM206.0 238.7h4.7v0.8h-4.7zM210.7 238.7h4.7v0.8h-4.7zM215.4 238.7h4.7v0.8h-4.7zM224.8 238.7h4.7v0.8h-4.7zM239.0 238.7h4.7v0.8h-4.7zM243.7 238.7h4.7v0.8h-4.7zM201.3 239.5h4.7v0.9h-4.7zM206.0 239.5h4.7v0.9h-4.7zM210.7 239.5h4.7v0.9h-4.7zM220.1 239.5h4.7v0.9h-4.7zM229.5 239.5h4.7v0.9h-4.7zM243.7 239.5h4.7v0.9h-4.7zM201.3 240.4h4.7v0.9h-4.7zM210.7 240.4h4.7v0.9h-4.7zM220.1 240.4h4.7v0.9h-4.7zM224.8 240.4h4.7v0.9h-4.7zM229.5 240.4h4.7v0.9h-4.7zM234.2 240.4h4.7v0.9h-4.7zM239.0 240.4h4.7v0.9h-4.7zM243.7 240.4h4.7v0.9h-4.7zM201.3 241.3h4.7v0.7h-4.7zM206.0 241.3h4.7v0.7h-4.7zM210.7 241.3h4.7v0.7h-4.7zM215.4 241.3h4.7v0.7h-4.7zM220.1 241.3h4.7v0.7h-4.7zM229.5 241.3h4.7v0.7h-4.7zM234.2 241.3h4.7v0.7h-4.7zM239.0 241.3h4.7v0.7h-4.7zM243.7 241.3h4.7v0.7h-4.7zM201.3 242.0h4.7v1.0h-4.7zM206.0 242.0h4.7v1.0h-4.7zM210.7 242.0h4.7v1.0h-4.7zM229.5 242.0h4.7v1.0h-4.7zM234.2 242.0h4.7v1.0h-4.7zM239.0 242.0h4.7v1.0h-4.7zM201.3 243.0h4.7v0.9h-4.7zM206.0 243.0h4.7v0.9h-4.7zM210.7 243.0h4.7v0.9h-4.7zM215.4 243.0h4.7v0.9h-4.7zM224.8 243.0h4.7v0.9h-4.7zM229.5 243.0h4.7v0.9h-4.7zM234.2 243.0h4.7v0.9h-4.7zM239.0 243.0h4.7v0.9h-4.7zM243.7 243.0h4.7v0.9h-4.7zM201.3 243.9h4.7v1.0h-4.7zM210.7 243.9h4.7v1.0h-4.7zM215.4 243.9h4.7v1.0h-4.7zM220.1 243.9h4.7v1.0h-4.7zM224.8 243.9h4.7v1.0h-4.7zM229.5 243.9h4.7v1.0h-4.7zM234.2 243.9h4.7v1.0h-4.7zM239.0 243.9h4.7v1.0h-4.7zM243.7 243.9h4.7v1.0h-4.7zM206.0 244.9h4.7v0.9h-4.7zM210.7 244.9h4.7v0.9h-4.7zM215.4 244.9h4.7v0.9h-4.7zM229.5 244.9h4.7v0.9h-4.7zM234.2 244.9h4.7v0.9h-4.7zM239.0 244.9h4.7v0.9h-4.7zM243.7 244.9h4.7v0.9h-4.7zM201.3 245.8h4.7v0.9h-4.7zM206.0 245.8h4.7v0.9h-4.7zM210.7 245.8h4.7v0.9h-4.7zM215.4 245.8h4.7v0.9h-4.7zM220.1 245.8h4.7v0.9h-4.7zM229.5 245.8h4.7v0.9h-4.7zM234.2 245.8h4.7v0.9h-4.7zM239.0 245.8h4.7v0.9h-4.7zM206.0 246.7h4.7v1.0h-4.7zM210.7 246.7h4.7v1.0h-4.7zM220.1 246.7h4.7v1.0h-4.7zM224.8 246.7h4.7v1.0h-4.7zM229.5 246.7h4.7v1.0h-4.7zM234.2 246.7h4.7v1.0h-4.7zM239.0 246.7h4.7v1.0h-4.7zM243.7 246.7h4.7v1.0h-4.7zM201.3 247.7h4.7v0.7h-4.7zM206.0 247.7h4.7v0.7h-4.7zM215.4 247.7h4.7v0.7h-4.7zM220.1 247.7h4.7v0.7h-4.7zM224.8 247.7h4.7v0.7h-4.7zM229.5 247.7h4.7v0.7h-4.7zM234.2 247.7h4.7v0.7h-4.7zM239.0 247.7h4.7v0.7h-4.7zM201.3 248.4h4.7v1.0h-4.7zM206.0 248.4h4.7v1.0h-4.7zM210.7 248.4h4.7v1.0h-4.7zM220.1 248.4h4.7v1.0h-4.7zM224.8 248.4h4.7v1.0h-4.7zM229.5 248.4h4.7v1.0h-4.7zM234.2 248.4h4.7v1.0h-4.7zM239.0 248.4h4.7v1.0h-4.7zM243.7 248.4h4.7v1.0h-4.7zM201.3 249.4h4.7v1.0h-4.7zM210.7 249.4h4.7v1.0h-4.7zM220.1 249.4h4.7v1.0h-4.7zM229.5 249.4h4.7v1.0h-4.7zM234.2 249.4h4.7v1.0h-4.7zM239.0 249.4h4.7v1.0h-4.7zM201.3 250.4h4.7v0.9h-4.7zM206.0 250.4h4.7v0.9h-4.7zM210.7 250.4h4.7v0.9h-4.7zM215.4 250.4h4.7v0.9h-4.7zM220.1 250.4h4.7v0.9h-4.7zM224.8 250.4h4.7v0.9h-4.7zM234.2 250.4h4.7v0.9h-4.7zM239.0 250.4h4.7v0.9h-4.7zM210.7 251.3h4.7v1.0h-4.7zM215.4 251.3h4.7v1.0h-4.7zM220.1 251.3h4.7v1.0h-4.7zM229.5 251.3h4.7v1.0h-4.7zM234.2 251.3h4.7v1.0h-4.7zM239.0 251.3h4.7v1.0h-4.7zM243.7 251.3h4.7v1.0h-4.7zM267.2 251.3h4.7v1.0h-4.7zM201.3 252.3h4.7v1.0h-4.7zM206.0 252.3h4.7v1.0h-4.7zM215.4 252.3h4.7v1.0h-4.7zM220.1 252.3h4.7v1.0h-4.7zM224.8 252.3h4.7v1.0h-4.7zM229.5 252.3h4.7v1.0h-4.7zM234.2 252.3h4.7v1.0h-4.7zM239.0 252.3h4.7v1.0h-4.7zM243.7 252.3h4.7v1.0h-4.7zM267.2 252.3h4.7v1.0h-4.7zM201.3 253.3h4.7v0.8h-4.7zM206.0 253.3h4.7v0.8h-4.7zM210.7 253.3h4.7v0.8h-4.7zM220.1 253.3h4.7v0.8h-4.7zM239.0 253.3h4.7v0.8h-4.7zM243.7 253.3h4.7v0.8h-4.7zM201.3 254.1h4.7v0.8h-4.7zM210.7 254.1h4.7v0.8h-4.7zM215.4 254.1h4.7v0.8h-4.7zM220.1 254.1h4.7v0.8h-4.7zM234.2 254.1h4.7v0.8h-4.7zM239.0 254.1h4.7v0.8h-4.7zM243.7 254.1h4.7v0.8h-4.7zM210.7 254.9h4.7v0.7h-4.7zM215.4 254.9h4.7v0.7h-4.7zM229.5 254.9h4.7v0.7h-4.7zM234.2 254.9h4.7v0.7h-4.7zM239.0 254.9h4.7v0.7h-4.7zM243.7 254.9h4.7v0.7h-4.7zM267.2 254.9h4.7v0.7h-4.7zM201.3 255.6h4.7v0.9h-4.7zM206.0 255.6h4.7v0.9h-4.7zM210.7 255.6h4.7v0.9h-4.7zM215.4 255.6h4.7v0.9h-4.7zM220.1 255.6h4.7v0.9h-4.7zM234.2 255.6h4.7v0.9h-4.7zM243.7 255.6h4.7v0.9h-4.7zM206.0 256.5h4.7v1.0h-4.7zM210.7 256.5h4.7v1.0h-4.7zM215.4 256.5h4.7v1.0h-4.7zM220.1 256.5h4.7v1.0h-4.7zM229.5 256.5h4.7v1.0h-4.7zM234.2 256.5h4.7v1.0h-4.7zM239.0 256.5h4.7v1.0h-4.7zM243.7 256.5h4.7v1.0h-4.7zM267.2 256.5h4.7v1.0h-4.7zM201.3 257.5h4.7v0.8h-4.7zM220.1 257.5h4.7v0.8h-4.7zM224.8 257.5h4.7v0.8h-4.7zM239.0 257.5h4.7v0.8h-4.7zM267.2 257.5h4.7v0.8h-4.7zM201.3 258.3h4.7v0.9h-4.7zM210.7 258.3h4.7v0.9h-4.7zM215.4 258.3h4.7v0.9h-4.7zM224.8 258.3h4.7v0.9h-4.7zM229.5 258.3h4.7v0.9h-4.7zM234.2 258.3h4.7v0.9h-4.7zM243.7 258.3h4.7v0.9h-4.7zM267.2 258.3h4.7v0.9h-4.7zM206.0 259.2h4.7v0.7h-4.7zM210.7 259.2h4.7v0.7h-4.7zM224.8 259.2h4.7v0.7h-4.7zM229.5 259.2h4.7v0.7h-4.7zM234.2 259.2h4.7v0.7h-4.7zM239.0 259.2h4.7v0.7h-4.7zM243.7 259.2h4.7v0.7h-4.7zM201.3 259.9h4.7v0.7h-4.7zM210.7 259.9h4.7v0.7h-4.7zM215.4 259.9h4.7v0.7h-4.7zM224.8 259.9h4.7v0.7h-4.7zM234.2 259.9h4.7v0.7h-4.7zM239.0 259.9h4.7v0.7h-4.7zM201.3 260.6h4.7v0.7h-4.7zM206.0 260.6h4.7v0.7h-4.7zM215.4 260.6h4.7v0.7h-4.7zM220.1 260.6h4.7v0.7h-4.7zM229.5 260.6h4.7v0.7h-4.7zM234.2 260.6h4.7v0.7h-4.7zM239.0 260.6h4.7v0.7h-4.7zM267.2 260.6h4.7v0.7h-4.7zM201.3 261.3h4.7v0.7h-4.7zM206.0 261.3h4.7v0.7h-4.7zM210.7 261.3h4.7v0.7h-4.7zM224.8 261.3h4.7v0.7h-4.7zM229.5 261.3h4.7v0.7h-4.7zM234.2 261.3h4.7v0.7h-4.7zM243.7 261.3h4.7v0.7h-4.7zM267.2 261.3h4.7v0.7h-4.7zM267.2 264.7h4.7v0.7h-4.7zM267.2 266.4h4.7v0.7h-4.7zM267.2 267.1h4.7v0.7h-4.7zM267.2 267.8h4.7v0.7h-4.7zM267.2 272.7h4.7v0.8h-4.7zM267.2 273.5h4.7v0.9h-4.7zM267.2 275.3h4.7v0.7h-4.7zM267.2 276.0h4.7v0.7h-4.7zM267.2 276.7h4.7v0.3h-4.7zM267.2 280.5h4.7v1.0h-4.7zM267.2 281.5h4.7v0.8h-4.7zM267.2 282.3h4.7v0.7h-4.7zM267.2 298.2h4.7v0.7h-4.7zM267.2 298.9h4.7v0.8h-4.7zM267.2 310.7h4.7v1.0h-4.7zM267.2 311.7h4.7v0.7h-4.7zM267.2 312.4h4.7v0.8h-4.7zM267.2 313.2h4.7v0.7h-4.7zM267.2 313.9h4.7v0.9h-4.7zM267.2 314.8h4.7v0.8h-4.7zM267.2 315.6h4.7v0.8h-4.7zM267.2 318.9h4.7v0.7h-4.7zM267.2 319.6h4.7v0.9h-4.7zM267.2 320.5h4.7v0.8h-4.7zM267.2 321.3h4.7v0.7h-4.7zM267.2 328.1h4.7v0.7h-4.7zM267.2 328.8h4.7v1.0h-4.7zM267.2 330.6h4.7v1.0h-4.7zM267.2 331.6h4.7v0.9h-4.7zM267.2 332.5h4.7v0.9h-4.7zM267.2 333.4h4.7v0.8h-4.7zM267.2 334.2h4.7v0.9h-4.7zM267.2 335.1h4.7v0.7h-4.7zM267.2 336.6h4.7v0.7h-4.7zM267.2 337.3h4.7v1.0h-4.7zM267.2 338.3h4.7v1.0h-4.7zM267.2 339.3h4.7v0.9h-4.7zM267.2 340.2h4.7v1.0h-4.7zM267.2 341.2h4.7v0.7h-4.7zM267.2 341.9h4.7v0.8h-4.7zM267.2 343.4h4.7v0.1h-4.7zM234.2 387.6h4.7v0.7h-4.7zM239.0 387.6h4.7v0.7h-4.7zM243.7 387.6h4.7v0.7h-4.7zM243.7 388.3h4.7v0.9h-4.7zM234.2 389.2h4.7v0.9h-4.7zM239.0 389.2h4.7v0.9h-4.7zM243.7 389.2h4.7v0.9h-4.7zM234.2 390.1h4.7v0.7h-4.7zM239.0 390.1h4.7v0.7h-4.7zM243.7 390.1h4.7v0.7h-4.7zM234.2 390.8h4.7v1.0h-4.7zM239.0 390.8h4.7v1.0h-4.7zM243.7 390.8h4.7v1.0h-4.7zM234.2 391.8h4.7v1.0h-4.7zM239.0 391.8h4.7v1.0h-4.7zM239.0 392.8h4.7v1.0h-4.7zM243.7 392.8h4.7v1.0h-4.7zM234.2 393.8h4.7v1.0h-4.7zM239.0 393.8h4.7v1.0h-4.7zM239.0 394.8h4.7v1.0h-4.7zM243.7 394.8h4.7v1.0h-4.7zM243.7 395.8h4.7v1.0h-4.7zM234.2 396.8h4.7v0.7h-4.7zM239.0 396.8h4.7v0.7h-4.7zM243.7 396.8h4.7v0.7h-4.7zM234.2 397.5h4.7v0.5h-4.7zM239.0 397.5h4.7v0.5h-4.7zM243.7 397.5h4.7v0.5h-4.7z"/>
<path fill="#ad1a1a" d="M215.4 154.1h4.7v0.9h-4.7zM224.8 154.1h4.7v0.9h-4.7zM229.5 154.1h4.7v0.9h-4.7zM215.4 155.8h4.7v0.9h-4.7zM201.3 156.7h4.7v0.9h-4.7zM206.0 156.7h4.7v0.9h-4.7zM210.7 156.7h4.7v0.9h-4.7zM229.5 156.7h4.7v0.9h-4.7zM201.3 158.6h4.7v1.0h-4.7zM206.0 159.6h4.7v0.7h-4.7zM229.5 159.6h4.7v0.7h-4.7zM201.3 160.3h4.7v0.7h-4.7zM215.4 161.0h4.7v0.8h-4.7zM229.5 161.0h4.7v0.8h-4.7zM229.5 161.8h4.7v0.7h-4.7zM201.3 162.5h4.7v0.9h-4.7zM206.0 162.5h4.7v0.9h-4.7zM229.5 162.5h4.7v0.9h-4.7zM201.3 164.2h4.7v1.0h-4.7zM206.0 167.1h4.7v0.8h-4.7zM210.7 167.1h4.7v0.8h-4.7zM220.1 170.5h4.7v0.8h-4.7zM210.7 172.3h4.7v0.8h-4.7zM215.4 172.3h4.7v0.8h-4.7zM210.7 174.1h4.7v0.9h-4.7zM215.4 175.7h4.7v0.8h-4.7zM215.4 176.5h4.7v0.9h-4.7zM229.5 176.5h4.7v0.9h-4.7zM206.0 178.4h4.7v0.8h-4.7zM224.8 179.2h4.7v0.9h-4.7zM267.2 179.2h4.7v0.9h-4.7zM215.4 180.1h4.7v0.9h-4.7zM206.0 181.0h4.7v0.8h-4.7zM215.4 181.0h4.7v0.8h-4.7zM224.8 181.0h4.7v0.8h-4.7zM267.2 183.6h4.7v0.5h-4.7zM206.0 188.2h4.7v0.8h-4.7zM220.1 189.0h4.7v0.8h-4.7zM206.0 189.8h4.7v1.0h-4.7zM243.7 189.8h4.7v1.0h-4.7zM201.3 190.8h4.7v0.9h-4.7zM206.0 191.7h4.7v0.7h-4.7zM210.7 191.7h4.7v0.7h-4.7zM224.8 191.7h4.7v0.7h-4.7zM206.0 192.4h4.7v0.8h-4.7zM215.4 193.2h4.7v0.9h-4.7zM243.7 193.2h4.7v0.9h-4.7zM229.5 194.1h4.7v0.8h-4.7zM210.7 194.9h4.7v1.0h-4.7zM201.3 195.9h4.7v0.8h-4.7zM224.8 197.6h4.7v0.8h-4.7zM229.5 197.6h4.7v0.8h-4.7zM234.2 197.6h4.7v0.8h-4.7zM220.1 198.4h4.7v0.9h-4.7zM206.0 200.9h4.7v0.8h-4.7zM224.8 200.9h4.7v0.8h-4.7zM234.2 200.9h4.7v0.8h-4.7zM215.4 201.7h4.7v1.0h-4.7zM239.0 201.7h4.7v1.0h-4.7zM201.3 203.5h4.7v0.9h-4.7zM215.4 204.4h4.7v0.9h-4.7zM224.8 204.4h4.7v0.9h-4.7zM234.2 204.4h4.7v0.9h-4.7zM206.0 205.3h4.7v0.9h-4.7zM243.7 205.3h4.7v0.9h-4.7zM224.8 206.2h4.7v0.8h-4.7zM234.2 207.0h4.7v0.8h-4.7zM215.4 207.8h4.7v0.9h-4.7zM201.3 208.7h4.7v0.8h-4.7zM215.4 208.7h4.7v0.8h-4.7zM239.0 208.7h4.7v0.8h-4.7zM243.7 208.7h4.7v0.8h-4.7zM234.2 209.5h4.7v0.8h-4.7zM239.0 209.5h4.7v0.8h-4.7zM210.7 210.3h4.7v0.9h-4.7zM220.1 210.3h4.7v0.9h-4.7zM229.5 212.2h4.7v0.8h-4.7zM224.8 213.0h4.7v0.8h-4.7zM229.5 214.5h4.7v0.9h-4.7zM201.3 215.4h4.7v0.8h-4.7zM201.3 217.2h4.7v0.9h-4.7zM220.1 218.1h4.7v0.7h-4.7zM224.8 218.1h4.7v0.7h-4.7zM229.5 218.1h4.7v0.7h-4.7zM220.1 218.8h4.7v0.8h-4.7zM229.5 219.6h4.7v0.7h-4.7zM206.0 220.3h4.7v0.8h-4.7zM210.7 220.3h4.7v0.8h-4.7zM220.1 220.3h4.7v0.8h-4.7zM234.2 221.1h4.7v0.9h-4.7zM201.3 223.0h4.7v0.8h-4.7zM215.4 223.0h4.7v0.8h-4.7zM224.8 223.0h4.7v0.8h-4.7zM234.2 223.0h4.7v0.8h-4.7zM224.8 223.8h4.7v0.9h-4.7zM243.7 223.8h4.7v0.9h-4.7zM234.2 224.7h4.7v0.8h-4.7zM215.4 227.2h4.7v0.7h-4.7zM234.2 227.2h4.7v0.7h-4.7zM239.0 227.2h4.7v0.7h-4.7zM220.1 227.9h4.7v1.0h-4.7zM243.7 228.9h4.7v1.0h-4.7zM201.3 230.9h4.7v0.8h-4.7zM239.0 230.9h4.7v0.8h-4.7zM201.3 232.6h4.7v0.9h-4.7zM210.7 232.6h4.7v0.9h-4.7zM224.8 233.5h4.7v0.8h-4.7zM210.7 235.3h4.7v1.0h-4.7zM224.8 236.3h4.7v0.7h-4.7zM229.5 237.0h4.7v0.7h-4.7zM229.5 238.7h4.7v0.8h-4.7zM234.2 238.7h4.7v0.8h-4.7zM224.8 239.5h4.7v0.9h-4.7zM234.2 239.5h4.7v0.9h-4.7zM239.0 239.5h4.7v0.9h-4.7zM206.0 240.4h4.7v0.9h-4.7zM215.4 240.4h4.7v0.9h-4.7zM220.1 243.0h4.7v0.9h-4.7zM243.7 245.8h4.7v0.9h-4.7zM210.7 247.7h4.7v0.7h-4.7zM206.0 249.4h4.7v1.0h-4.7zM215.4 249.4h4.7v1.0h-4.7zM243.7 249.4h4.7v1.0h-4.7zM201.3 251.3h4.7v1.0h-4.7zM206.0 251.3h4.7v1.0h-4.7zM224.8 251.3h4.7v1.0h-4.7zM210.7 252.3h4.7v1.0h-4.7zM224.8 253.3h4.7v0.8h-4.7zM234.2 253.3h4.7v0.8h-4.7zM267.2 253.3h4.7v0.8h-4.7zM206.0 254.1h4.7v0.8h-4.7zM224.8 254.1h4.7v0.8h-4.7zM267.2 254.1h4.7v0.8h-4.7zM206.0 254.9h4.7v0.7h-4.7zM229.5 255.6h4.7v0.9h-4.7zM239.0 255.6h4.7v0.9h-4.7zM201.3 256.5h4.7v1.0h-4.7zM206.0 257.5h4.7v0.8h-4.7zM210.7 257.5h4.7v0.8h-4.7zM229.5 257.5h4.7v0.8h-4.7zM234.2 257.5h4.7v0.8h-4.7zM243.7 257.5h4.7v0.8h-4.7zM220.1 258.3h4.7v0.9h-4.7zM239.0 258.3h4.7v0.9h-4.7zM220.1 259.2h4.7v0.7h-4.7zM229.5 259.9h4.7v0.7h-4.7zM243.7 259.9h4.7v0.7h-4.7zM267.2 259.9h4.7v0.7h-4.7zM210.7 260.6h4.7v0.7h-4.7zM224.8 260.6h4.7v0.7h-4.7zM243.7 260.6h4.7v0.7h-4.7zM215.4 261.3h4.7v0.7h-4.7zM239.0 261.3h4.7v0.7h-4.7zM267.2 274.4h4.7v0.9h-4.7zM267.2 299.7h4.7v0.9h-4.7zM267.2 316.4h4.7v0.8h-4.7zM267.2 317.2h4.7v1.0h-4.7zM267.2 326.4h4.7v0.9h-4.7zM267.2 329.8h4.7v0.8h-4.7zM267.2 335.8h4.7v0.8h-4.7zM267.2 342.7h4.7v0.7h-4.7zM234.2 388.3h4.7v0.9h-4.7zM239.0 388.3h4.7v0.9h-4.7zM243.7 391.8h4.7v1.0h-4.7zM234.2 392.8h4.7v1.0h-4.7zM234.2 394.8h4.7v1.0h-4.7zM234.2 395.8h4.7v1.0h-4.7zM239.0 395.8h4.7v1.0h-4.7z"/>
<path fill="#dcaaaa" d="M239.0 154.2h4.7v0.7h-4.7zM286.0 155.1h4.7v0.6h-4.7zM295.4 155.1h4.7v0.6h-4.7zM309.6 155.1h4.7v0.6h-4.7zM248.4 155.9h4.7v0.7h-4.7zM304.9 155.9h4.7v0.7h-4.7zM281.3 156.8h4.7v0.7h-4.7zM234.2 157.7h4.7v0.8h-4.7zM243.7 157.7h4.7v0.8h-4.7zM271.9 157.7h4.7v0.8h-4.7zM290.7 158.7h4.7v0.8h-4.7zM253.1 160.4h4.7v0.5h-4.7zM328.4 160.4h4.7v0.5h-4.7zM262.5 161.1h4.7v0.6h-4.7zM290.7 161.9h4.7v0.5h-4.7zM328.4 161.9h4.7v0.5h-4.7zM248.4 162.6h4.7v0.7h-4.7zM281.3 162.6h4.7v0.7h-4.7zM290.7 162.6h4.7v0.7h-4.7zM253.1 163.5h4.7v0.6h-4.7zM248.4 164.3h4.7v0.8h-4.7zM281.3 165.3h4.7v0.8h-4.7zM276.6 166.3h4.7v0.7h-4.7zM276.6 167.2h4.7v0.6h-4.7zM295.4 167.2h4.7v0.6h-4.7zM290.7 168.0h4.7v0.5h-4.7zM234.2 168.7h4.7v0.7h-4.7zM314.3 168.7h4.7v0.7h-4.7zM276.6 169.6h4.7v0.8h-4.7zM281.3 169.6h4.7v0.8h-4.7zM333.1 170.6h4.7v0.6h-4.7zM248.4 171.4h4.7v0.8h-4.7zM276.6 171.4h4.7v0.8h-4.7zM248.4 173.2h4.7v0.8h-4.7zM271.9 173.2h4.7v0.8h-4.7zM276.6 173.2h4.7v0.8h-4.7zM271.9 175.1h4.7v0.5h-4.7zM309.6 175.1h4.7v0.5h-4.7zM319.0 175.1h4.7v0.5h-4.7zM281.3 175.8h4.7v0.6h-4.7zM234.2 176.6h4.7v0.7h-4.7zM286.0 176.6h4.7v0.7h-4.7zM243.7 177.5h4.7v0.8h-4.7zM295.4 177.5h4.7v0.8h-4.7zM304.9 177.5h4.7v0.8h-4.7zM328.4 177.5h4.7v0.8h-4.7zM333.1 177.5h4.7v0.8h-4.7zM239.0 178.5h4.7v0.6h-4.7zM319.0 179.3h4.7v0.7h-4.7zM323.7 179.3h4.7v0.7h-4.7zM234.2 181.1h4.7v0.6h-4.7zM271.9 181.1h4.7v0.6h-4.7zM248.4 181.9h4.7v0.7h-4.7zM281.3 181.9h4.7v0.7h-4.7zM295.4 181.9h4.7v0.7h-4.7zM314.3 182.8h4.7v0.7h-4.7zM257.8 187.6h4.7v0.5h-4.7zM290.7 187.6h4.7v0.5h-4.7zM300.1 188.3h4.7v0.6h-4.7zM276.6 189.1h4.7v0.6h-4.7zM290.7 189.1h4.7v0.6h-4.7zM333.1 189.1h4.7v0.6h-4.7zM333.1 189.9h4.7v0.8h-4.7zM248.4 190.9h4.7v0.7h-4.7zM253.1 190.9h4.7v0.7h-4.7zM328.4 190.9h4.7v0.7h-4.7zM333.1 190.9h4.7v0.7h-4.7zM271.9 191.8h4.7v0.5h-4.7zM304.9 192.5h4.7v0.6h-4.7zM248.4 193.3h4.7v0.7h-4.7zM300.1 193.3h4.7v0.7h-4.7zM248.4 194.2h4.7v0.6h-4.7zM271.9 194.2h4.7v0.6h-4.7zM300.1 194.2h4.7v0.6h-4.7zM304.9 194.2h4.7v0.6h-4.7zM314.3 194.2h4.7v0.6h-4.7zM319.0 194.2h4.7v0.6h-4.7zM276.6 196.8h4.7v0.7h-4.7zM281.3 196.8h4.7v0.7h-4.7zM286.0 196.8h4.7v0.7h-4.7zM248.4 197.7h4.7v0.6h-4.7zM271.9 197.7h4.7v0.6h-4.7zM276.6 197.7h4.7v0.6h-4.7zM281.3 197.7h4.7v0.6h-4.7zM314.3 197.7h4.7v0.6h-4.7zM248.4 198.5h4.7v0.7h-4.7zM248.4 199.4h4.7v0.7h-4.7zM286.0 200.3h4.7v0.5h-4.7zM295.4 200.3h4.7v0.5h-4.7zM328.4 201.0h4.7v0.6h-4.7zM267.2 201.8h4.7v0.8h-4.7zM276.6 203.6h4.7v0.7h-4.7zM300.1 203.6h4.7v0.7h-4.7zM281.3 204.5h4.7v0.7h-4.7zM290.7 204.5h4.7v0.7h-4.7zM248.4 205.4h4.7v0.7h-4.7zM309.6 207.1h4.7v0.6h-4.7zM333.1 207.1h4.7v0.6h-4.7zM248.4 208.8h4.7v0.6h-4.7zM281.3 208.8h4.7v0.6h-4.7zM300.1 208.8h4.7v0.6h-4.7zM271.9 209.6h4.7v0.6h-4.7zM281.3 209.6h4.7v0.6h-4.7zM309.6 209.6h4.7v0.6h-4.7zM248.4 211.3h4.7v0.8h-4.7zM276.6 211.3h4.7v0.8h-4.7zM281.3 211.3h4.7v0.8h-4.7zM314.3 211.3h4.7v0.8h-4.7zM309.6 213.1h4.7v0.6h-4.7zM262.5 213.9h4.7v0.5h-4.7zM271.9 213.9h4.7v0.5h-4.7zM281.3 213.9h4.7v0.5h-4.7zM248.4 214.6h4.7v0.7h-4.7zM290.7 214.6h4.7v0.7h-4.7zM281.3 215.5h4.7v0.6h-4.7zM286.0 216.3h4.7v0.8h-4.7zM262.5 217.3h4.7v0.7h-4.7zM286.0 217.3h4.7v0.7h-4.7zM248.4 218.2h4.7v0.5h-4.7zM276.6 218.2h4.7v0.5h-4.7zM262.5 219.7h4.7v0.5h-4.7zM328.4 219.7h4.7v0.5h-4.7zM248.4 220.4h4.7v0.6h-4.7zM319.0 222.1h4.7v0.8h-4.7zM333.1 222.1h4.7v0.8h-4.7zM267.2 223.1h4.7v0.6h-4.7zM276.6 223.1h4.7v0.6h-4.7zM248.4 223.9h4.7v0.7h-4.7zM295.4 224.8h4.7v0.6h-4.7zM248.4 225.6h4.7v0.6h-4.7zM248.4 226.4h4.7v0.7h-4.7zM314.3 226.4h4.7v0.7h-4.7zM276.6 227.3h4.7v0.5h-4.7zM328.4 228.0h4.7v0.8h-4.7zM286.0 229.0h4.7v0.8h-4.7zM328.4 229.0h4.7v0.8h-4.7zM290.7 230.0h4.7v0.8h-4.7zM281.3 231.0h4.7v0.6h-4.7zM248.4 231.8h4.7v0.7h-4.7zM290.7 231.8h4.7v0.7h-4.7zM333.1 231.8h4.7v0.7h-4.7zM262.5 232.7h4.7v0.7h-4.7zM281.3 233.6h4.7v0.6h-4.7zM286.0 233.6h4.7v0.6h-4.7zM295.4 233.6h4.7v0.6h-4.7zM248.4 234.4h4.7v0.8h-4.7zM276.6 235.4h4.7v0.8h-4.7zM333.1 235.4h4.7v0.8h-4.7zM328.4 237.1h4.7v0.5h-4.7zM333.1 237.8h4.7v0.8h-4.7zM253.1 238.8h4.7v0.6h-4.7zM286.0 238.8h4.7v0.6h-4.7zM328.4 238.8h4.7v0.6h-4.7zM328.4 239.6h4.7v0.7h-4.7zM286.0 241.4h4.7v0.5h-4.7zM295.4 241.4h4.7v0.5h-4.7zM286.0 242.1h4.7v0.8h-4.7zM281.3 243.1h4.7v0.7h-4.7zM248.4 244.0h4.7v0.8h-4.7zM276.6 244.0h4.7v0.8h-4.7zM323.7 244.0h4.7v0.8h-4.7zM295.4 245.0h4.7v0.7h-4.7zM328.4 245.0h4.7v0.7h-4.7zM276.6 246.8h4.7v0.8h-4.7zM328.4 246.8h4.7v0.8h-4.7zM295.4 247.8h4.7v0.5h-4.7zM319.0 247.8h4.7v0.5h-4.7zM328.4 247.8h4.7v0.5h-4.7zM290.7 249.5h4.7v0.8h-4.7zM304.9 249.5h4.7v0.8h-4.7zM333.1 249.5h4.7v0.8h-4.7zM290.7 251.4h4.7v0.8h-4.7zM248.4 252.4h4.7v0.8h-4.7zM300.1 252.4h4.7v0.8h-4.7zM333.1 253.4h4.7v0.6h-4.7zM295.4 254.2h4.7v0.6h-4.7zM309.6 254.2h4.7v0.6h-4.7zM328.4 254.2h4.7v0.6h-4.7zM248.4 255.7h4.7v0.7h-4.7zM323.7 256.6h4.7v0.8h-4.7zM271.9 257.6h4.7v0.6h-4.7zM276.6 258.4h4.7v0.7h-4.7zM323.7 259.3h4.7v0.5h-4.7zM300.1 260.0h4.7v0.5h-4.7zM314.3 260.0h4.7v0.5h-4.7zM248.4 260.7h4.7v0.5h-4.7zM271.9 264.8h4.7v0.5h-4.7zM248.4 265.5h4.7v0.8h-4.7zM286.0 267.2h4.7v0.5h-4.7zM290.7 267.2h4.7v0.5h-4.7zM229.5 268.6h4.7v0.8h-4.7zM215.4 270.3h4.7v0.6h-4.7zM333.1 270.3h4.7v0.6h-4.7zM210.7 271.1h4.7v0.8h-4.7zM224.8 271.1h4.7v0.8h-4.7zM243.7 271.1h4.7v0.8h-4.7zM248.4 271.1h4.7v0.8h-4.7zM276.6 271.1h4.7v0.8h-4.7zM276.6 272.8h4.7v0.6h-4.7zM206.0 273.6h4.7v0.7h-4.7zM271.9 274.5h4.7v0.7h-4.7zM276.6 274.5h4.7v0.7h-4.7zM229.5 276.1h4.7v0.5h-4.7zM243.7 276.1h4.7v0.5h-4.7zM271.9 276.1h4.7v0.5h-4.7zM220.1 276.7h4.7v0.2h-4.7zM206.0 280.6h4.7v0.8h-4.7zM276.6 280.6h4.7v0.8h-4.7zM281.3 281.6h4.7v0.6h-4.7zM276.6 282.4h4.7v0.5h-4.7zM276.6 283.1h4.7v0.8h-4.7zM224.8 284.1h4.7v0.6h-4.7zM234.2 284.9h4.7v0.5h-4.7zM276.6 284.9h4.7v0.5h-4.7zM319.0 286.3h4.7v0.5h-4.7zM267.2 288.6h4.7v0.5h-4.7zM328.4 288.6h4.7v0.5h-4.7zM271.9 289.3h4.7v0.5h-4.7zM276.6 289.3h4.7v0.5h-4.7zM220.1 289.9h4.7v0.3h-4.7zM333.1 289.9h4.7v0.3h-4.7zM333.1 293.8h4.7v0.5h-4.7zM267.2 294.5h4.7v0.7h-4.7zM300.1 294.5h4.7v0.7h-4.7zM206.0 296.4h4.7v0.7h-4.7zM229.5 297.3h4.7v0.8h-4.7zM215.4 298.3h4.7v0.5h-4.7zM220.1 299.0h4.7v0.6h-4.7zM224.8 299.0h4.7v0.6h-4.7zM229.5 299.8h4.7v0.7h-4.7zM257.8 299.8h4.7v0.7h-4.7zM271.9 299.8h4.7v0.7h-4.7zM333.1 299.8h4.7v0.7h-4.7zM215.4 300.7h4.7v0.6h-4.7zM234.2 300.7h4.7v0.6h-4.7zM300.1 302.2h4.7v0.6h-4.7zM210.7 303.0h4.7v0.6h-4.7zM229.5 303.0h4.7v0.6h-4.7zM243.7 303.0h4.7v0.6h-4.7zM276.6 303.8h4.7v0.6h-4.7zM333.1 303.8h4.7v0.6h-4.7zM220.1 304.6h4.7v0.6h-4.7zM229.5 304.6h4.7v0.6h-4.7zM271.9 304.6h4.7v0.6h-4.7zM224.8 305.4h4.7v0.6h-4.7zM248.4 305.4h4.7v0.6h-4.7zM257.8 305.4h4.7v0.6h-4.7zM267.2 306.2h4.7v0.6h-4.7zM243.7 307.0h4.7v0.5h-4.7zM201.3 311.8h4.7v0.5h-4.7zM253.1 311.8h4.7v0.5h-4.7zM281.3 312.5h4.7v0.6h-4.7zM239.0 314.0h4.7v0.7h-4.7zM271.9 314.0h4.7v0.7h-4.7zM206.0 314.9h4.7v0.6h-4.7zM271.9 314.9h4.7v0.6h-4.7zM201.3 316.5h4.7v0.6h-4.7zM201.3 317.3h4.7v0.8h-4.7zM257.8 317.3h4.7v0.8h-4.7zM290.7 317.3h4.7v0.8h-4.7zM215.4 318.3h4.7v0.5h-4.7zM262.5 319.0h4.7v0.5h-4.7zM271.9 319.0h4.7v0.5h-4.7zM210.7 319.7h4.7v0.7h-4.7zM201.3 320.6h4.7v0.6h-4.7zM253.1 321.4h4.7v0.5h-4.7zM243.7 322.1h4.7v0.5h-4.7zM333.1 322.1h4.7v0.5h-4.7zM290.7 326.5h4.7v0.7h-4.7zM210.7 327.4h4.7v0.6h-4.7zM224.8 327.4h4.7v0.6h-4.7zM253.1 327.4h4.7v0.6h-4.7zM206.0 328.2h4.7v0.5h-4.7zM210.7 328.2h4.7v0.5h-4.7zM220.1 328.2h4.7v0.5h-4.7zM220.1 328.9h4.7v0.8h-4.7zM248.4 328.9h4.7v0.8h-4.7zM271.9 328.9h4.7v0.8h-4.7zM271.9 329.9h4.7v0.6h-4.7zM323.7 329.9h4.7v0.6h-4.7zM210.7 330.7h4.7v0.8h-4.7zM215.4 331.7h4.7v0.7h-4.7zM253.1 331.7h4.7v0.7h-4.7zM276.6 332.6h4.7v0.7h-4.7zM210.7 333.5h4.7v0.6h-4.7zM286.0 333.5h4.7v0.6h-4.7zM210.7 335.2h4.7v0.5h-4.7zM206.0 335.9h4.7v0.6h-4.7zM286.0 335.9h4.7v0.6h-4.7zM206.0 336.7h4.7v0.5h-4.7zM220.1 336.7h4.7v0.5h-4.7zM248.4 337.4h4.7v0.8h-4.7zM220.1 339.4h4.7v0.7h-4.7zM300.1 339.4h4.7v0.7h-4.7zM243.7 340.3h4.7v0.8h-4.7zM224.8 341.3h4.7v0.5h-4.7zM286.0 341.3h4.7v0.5h-4.7zM253.1 342.0h4.7v0.6h-4.7zM271.9 342.0h4.7v0.6h-4.7zM295.4 342.0h4.7v0.6h-4.7zM314.3 342.0h4.7v0.6h-4.7zM328.4 342.0h4.7v0.6h-4.7zM224.8 342.8h4.7v0.5h-4.7zM286.0 342.8h4.7v0.5h-4.7zM323.7 342.8h4.7v0.5h-4.7zM328.4 342.8h4.7v0.5h-4.7zM206.0 343.4h4.7v0.1h-4.7zM210.7 343.4h4.7v0.1h-4.7zM215.4 343.4h4.7v0.1h-4.7zM206.0 346.4h4.7v0.6h-4.7zM229.5 346.4h4.7v0.6h-4.7zM281.3 346.4h4.7v0.6h-4.7zM333.1 346.4h4.7v0.6h-4.7zM215.4 348.1h4.7v0.5h-4.7zM253.1 348.1h4.7v0.5h-4.7zM300.1 348.1h4.7v0.5h-4.7zM224.8 348.8h4.7v0.5h-4.7zM229.5 349.5h4.7v0.8h-4.7zM215.4 350.5h4.7v0.6h-4.7zM248.4 352.2h4.7v0.8h-4.7zM253.1 352.2h4.7v0.8h-4.7zM276.6 352.2h4.7v0.8h-4.7zM215.4 353.2h4.7v0.8h-4.7zM239.0 353.2h4.7v0.8h-4.7zM215.4 355.2h4.7v0.8h-4.7zM215.4 356.2h4.7v0.7h-4.7zM309.6 356.2h4.7v0.7h-4.7zM281.3 357.1h4.7v0.6h-4.7zM201.3 358.9h4.7v0.6h-4.7zM295.4 358.9h4.7v0.6h-4.7zM323.7 358.9h4.7v0.6h-4.7zM248.4 359.7h4.7v0.7h-4.7zM300.1 359.7h4.7v0.7h-4.7zM206.0 360.6h4.7v0.6h-4.7zM267.2 362.1h4.7v0.6h-4.7zM220.1 362.9h4.7v0.6h-4.7zM295.4 362.9h4.7v0.6h-4.7zM271.9 363.7h4.7v0.5h-4.7zM314.3 363.7h4.7v0.5h-4.7zM281.3 364.4h4.7v0.7h-4.7zM290.7 364.4h4.7v0.7h-4.7zM333.1 364.4h4.7v0.7h-4.7zM243.7 366.1h4.7v0.6h-4.7zM314.3 368.7h4.7v0.5h-4.7zM323.7 369.4h4.7v0.8h-4.7zM248.4 370.4h4.7v0.7h-4.7zM257.8 370.4h4.7v0.7h-4.7zM286.0 370.4h4.7v0.7h-4.7zM295.4 370.4h4.7v0.7h-4.7zM286.0 371.3h4.7v0.5h-4.7zM300.1 371.3h4.7v0.5h-4.7zM300.1 373.0h4.7v0.5h-4.7zM239.0 373.7h4.7v0.7h-4.7zM262.5 373.7h4.7v0.7h-4.7zM271.9 373.7h4.7v0.7h-4.7zM323.7 374.6h4.7v0.5h-4.7zM248.4 375.3h4.7v0.5h-4.7zM248.4 377.8h4.7v0.6h-4.7zM319.0 377.8h4.7v0.6h-4.7zM290.7 379.5h4.7v0.8h-4.7zM300.1 379.5h4.7v0.8h-4.7zM300.1 381.4h4.7v0.8h-4.7zM314.3 381.4h4.7v0.8h-4.7zM229.5 382.4h4.7v0.7h-4.7zM271.9 383.3h4.7v0.8h-4.7zM201.3 384.2h4.7v0.2h-4.7zM210.7 384.2h4.7v0.2h-4.7zM262.5 387.7h4.7v0.5h-4.7zM333.1 387.7h4.7v0.5h-4.7zM248.4 388.4h4.7v0.7h-4.7zM229.5 389.3h4.7v0.7h-4.7zM215.4 390.2h4.7v0.5h-4.7zM257.8 390.2h4.7v0.5h-4.7zM328.4 390.2h4.7v0.5h-4.7zM206.0 390.9h4.7v0.8h-4.7zM253.1 391.9h4.7v0.8h-4.7zM257.8 391.9h4.7v0.8h-4.7zM323.7 391.9h4.7v0.8h-4.7zM267.2 393.9h4.7v0.8h-4.7zM333.1 394.9h4.7v0.8h-4.7zM206.0 397.6h4.7v0.4h-4.7z"/>
<path fill="#c94848" d="M248.4 154.3h4.7v0.5h-4.7zM281.3 154.3h4.7v0.5h-4.7zM290.7 154.3h4.7v0.5h-4.7zM333.1 154.3h4.7v0.5h-4.7zM319.0 155.2h4.7v0.5h-4.7zM239.0 156.0h4.7v0.5h-4.7zM248.4 156.9h4.7v0.5h-4.7zM271.9 156.9h4.7v0.5h-4.7zM234.2 158.8h4.7v0.6h-4.7zM248.4 159.7h4.7v0.4h-4.7zM281.3 159.7h4.7v0.4h-4.7zM281.3 160.4h4.7v0.4h-4.7zM286.0 160.4h4.7v0.4h-4.7zM333.1 161.9h4.7v0.4h-4.7zM300.1 162.7h4.7v0.5h-4.7zM314.3 162.7h4.7v0.5h-4.7zM333.1 162.7h4.7v0.5h-4.7zM248.4 163.6h4.7v0.5h-4.7zM271.9 163.6h4.7v0.5h-4.7zM276.6 163.6h4.7v0.5h-4.7zM290.7 163.6h4.7v0.5h-4.7zM234.2 164.4h4.7v0.6h-4.7zM276.6 164.4h4.7v0.6h-4.7zM281.3 164.4h4.7v0.6h-4.7zM286.0 164.4h4.7v0.6h-4.7zM253.1 165.4h4.7v0.6h-4.7zM271.9 165.4h4.7v0.6h-4.7zM304.9 165.4h4.7v0.6h-4.7zM319.0 165.4h4.7v0.6h-4.7zM248.4 166.4h4.7v0.5h-4.7zM267.2 166.4h4.7v0.5h-4.7zM271.9 166.4h4.7v0.5h-4.7zM281.3 166.4h4.7v0.5h-4.7zM328.4 166.4h4.7v0.5h-4.7zM281.3 167.3h4.7v0.5h-4.7zM328.4 167.3h4.7v0.5h-4.7zM281.3 168.0h4.7v0.4h-4.7zM309.6 168.0h4.7v0.4h-4.7zM248.4 168.8h4.7v0.5h-4.7zM281.3 168.8h4.7v0.5h-4.7zM286.0 168.8h4.7v0.5h-4.7zM243.7 169.7h4.7v0.6h-4.7zM314.3 169.7h4.7v0.6h-4.7zM271.9 171.5h4.7v0.6h-4.7zM281.3 171.5h4.7v0.6h-4.7zM286.0 172.5h4.7v0.5h-4.7zM333.1 172.5h4.7v0.5h-4.7zM286.0 173.3h4.7v0.6h-4.7zM328.4 173.3h4.7v0.6h-4.7zM262.5 174.3h4.7v0.5h-4.7zM276.6 174.3h4.7v0.5h-4.7zM234.2 175.1h4.7v0.4h-4.7zM286.0 175.1h4.7v0.4h-4.7zM314.3 175.1h4.7v0.4h-4.7zM333.1 175.1h4.7v0.4h-4.7zM290.7 175.9h4.7v0.5h-4.7zM323.7 175.9h4.7v0.5h-4.7zM276.6 176.7h4.7v0.5h-4.7zM333.1 176.7h4.7v0.5h-4.7zM248.4 178.6h4.7v0.5h-4.7zM253.1 178.6h4.7v0.5h-4.7zM281.3 178.6h4.7v0.5h-4.7zM286.0 178.6h4.7v0.5h-4.7zM333.1 178.6h4.7v0.5h-4.7zM239.0 179.4h4.7v0.5h-4.7zM276.6 179.4h4.7v0.5h-4.7zM281.3 179.4h4.7v0.5h-4.7zM248.4 180.3h4.7v0.5h-4.7zM271.9 180.3h4.7v0.5h-4.7zM276.6 180.3h4.7v0.5h-4.7zM281.3 180.3h4.7v0.5h-4.7zM328.4 180.3h4.7v0.5h-4.7zM286.0 181.2h4.7v0.5h-4.7zM253.1 182.0h4.7v0.5h-4.7zM323.7 182.0h4.7v0.5h-4.7zM333.1 182.0h4.7v0.5h-4.7zM290.7 182.9h4.7v0.5h-4.7zM328.4 183.7h4.7v0.3h-4.7zM248.4 187.6h4.7v0.4h-4.7zM253.1 187.6h4.7v0.4h-4.7zM300.1 187.6h4.7v0.4h-4.7zM304.9 187.6h4.7v0.4h-4.7zM248.4 188.4h4.7v0.5h-4.7zM304.9 188.4h4.7v0.5h-4.7zM314.3 188.4h4.7v0.5h-4.7zM333.1 188.4h4.7v0.5h-4.7zM262.5 189.2h4.7v0.5h-4.7zM295.4 189.2h4.7v0.5h-4.7zM304.9 189.2h4.7v0.5h-4.7zM319.0 190.0h4.7v0.6h-4.7zM323.7 190.0h4.7v0.6h-4.7zM271.9 191.0h4.7v0.5h-4.7zM276.6 191.0h4.7v0.5h-4.7zM248.4 191.8h4.7v0.4h-4.7zM309.6 191.8h4.7v0.4h-4.7zM248.4 192.6h4.7v0.5h-4.7zM333.1 192.6h4.7v0.5h-4.7zM248.4 195.1h4.7v0.6h-4.7zM248.4 196.1h4.7v0.5h-4.7zM276.6 196.1h4.7v0.5h-4.7zM248.4 196.9h4.7v0.5h-4.7zM295.4 197.8h4.7v0.5h-4.7zM286.0 199.5h4.7v0.5h-4.7zM328.4 199.5h4.7v0.5h-4.7zM248.4 200.3h4.7v0.4h-4.7zM267.2 201.1h4.7v0.5h-4.7zM248.4 201.9h4.7v0.6h-4.7zM271.9 201.9h4.7v0.6h-4.7zM276.6 202.9h4.7v0.5h-4.7zM290.7 202.9h4.7v0.5h-4.7zM290.7 203.7h4.7v0.5h-4.7zM248.4 204.6h4.7v0.5h-4.7zM286.0 204.6h4.7v0.5h-4.7zM314.3 204.6h4.7v0.5h-4.7zM286.0 205.5h4.7v0.5h-4.7zM290.7 206.4h4.7v0.5h-4.7zM295.4 206.4h4.7v0.5h-4.7zM276.6 207.2h4.7v0.5h-4.7zM328.4 207.2h4.7v0.5h-4.7zM248.4 208.0h4.7v0.5h-4.7zM253.1 208.0h4.7v0.5h-4.7zM276.6 208.9h4.7v0.5h-4.7zM286.0 208.9h4.7v0.5h-4.7zM276.6 209.7h4.7v0.5h-4.7zM248.4 210.5h4.7v0.5h-4.7zM271.9 211.4h4.7v0.6h-4.7zM333.1 211.4h4.7v0.6h-4.7zM248.4 212.4h4.7v0.5h-4.7zM276.6 212.4h4.7v0.5h-4.7zM290.7 212.4h4.7v0.5h-4.7zM333.1 213.2h4.7v0.5h-4.7zM333.1 213.9h4.7v0.4h-4.7zM304.9 214.7h4.7v0.5h-4.7zM276.6 215.6h4.7v0.5h-4.7zM271.9 216.4h4.7v0.6h-4.7zM314.3 216.4h4.7v0.6h-4.7zM319.0 217.4h4.7v0.5h-4.7zM333.1 217.4h4.7v0.5h-4.7zM295.4 218.2h4.7v0.4h-4.7zM328.4 218.2h4.7v0.4h-4.7zM262.5 219.0h4.7v0.5h-4.7zM328.4 219.0h4.7v0.5h-4.7zM333.1 219.0h4.7v0.5h-4.7zM248.4 219.7h4.7v0.4h-4.7zM281.3 219.7h4.7v0.4h-4.7zM295.4 219.7h4.7v0.4h-4.7zM314.3 219.7h4.7v0.4h-4.7zM333.1 219.7h4.7v0.4h-4.7zM276.6 220.5h4.7v0.5h-4.7zM328.4 220.5h4.7v0.5h-4.7zM333.1 220.5h4.7v0.5h-4.7zM248.4 221.3h4.7v0.5h-4.7zM276.6 221.3h4.7v0.5h-4.7zM276.6 222.2h4.7v0.6h-4.7zM248.4 223.2h4.7v0.5h-4.7zM295.4 223.2h4.7v0.5h-4.7zM304.9 224.0h4.7v0.5h-4.7zM248.4 224.9h4.7v0.5h-4.7zM281.3 224.9h4.7v0.5h-4.7zM276.6 225.7h4.7v0.5h-4.7zM323.7 225.7h4.7v0.5h-4.7zM333.1 225.7h4.7v0.5h-4.7zM276.6 226.5h4.7v0.5h-4.7zM271.9 228.1h4.7v0.6h-4.7zM295.4 228.1h4.7v0.6h-4.7zM319.0 228.1h4.7v0.6h-4.7zM271.9 229.1h4.7v0.6h-4.7zM323.7 229.1h4.7v0.6h-4.7zM276.6 230.1h4.7v0.6h-4.7zM248.4 231.1h4.7v0.5h-4.7zM276.6 231.1h4.7v0.5h-4.7zM290.7 231.1h4.7v0.5h-4.7zM276.6 231.9h4.7v0.5h-4.7zM319.0 231.9h4.7v0.5h-4.7zM271.9 232.8h4.7v0.5h-4.7zM248.4 233.7h4.7v0.5h-4.7zM319.0 233.7h4.7v0.5h-4.7zM276.6 234.5h4.7v0.6h-4.7zM323.7 234.5h4.7v0.6h-4.7zM248.4 235.5h4.7v0.6h-4.7zM248.4 236.4h4.7v0.4h-4.7zM328.4 236.4h4.7v0.4h-4.7zM248.4 237.1h4.7v0.4h-4.7zM271.9 237.1h4.7v0.4h-4.7zM276.6 237.1h4.7v0.4h-4.7zM248.4 237.9h4.7v0.6h-4.7zM276.6 237.9h4.7v0.6h-4.7zM286.0 237.9h4.7v0.6h-4.7zM290.7 237.9h4.7v0.6h-4.7zM328.4 237.9h4.7v0.6h-4.7zM314.3 238.9h4.7v0.5h-4.7zM319.0 238.9h4.7v0.5h-4.7zM276.6 239.7h4.7v0.5h-4.7zM248.4 240.6h4.7v0.5h-4.7zM295.4 240.6h4.7v0.5h-4.7zM323.7 240.6h4.7v0.5h-4.7zM333.1 240.6h4.7v0.5h-4.7zM248.4 241.4h4.7v0.4h-4.7zM328.4 241.4h4.7v0.4h-4.7zM248.4 242.2h4.7v0.6h-4.7zM271.9 242.2h4.7v0.6h-4.7zM328.4 242.2h4.7v0.6h-4.7zM248.4 243.2h4.7v0.5h-4.7zM271.9 243.2h4.7v0.5h-4.7zM295.4 243.2h4.7v0.5h-4.7zM248.4 245.1h4.7v0.5h-4.7zM281.3 245.1h4.7v0.5h-4.7zM248.4 246.0h4.7v0.5h-4.7zM295.4 246.0h4.7v0.5h-4.7zM328.4 246.0h4.7v0.5h-4.7zM248.4 246.9h4.7v0.6h-4.7zM286.0 246.9h4.7v0.6h-4.7zM300.1 246.9h4.7v0.6h-4.7zM248.4 247.8h4.7v0.4h-4.7zM248.4 248.6h4.7v0.6h-4.7zM276.6 248.6h4.7v0.6h-4.7zM328.4 248.6h4.7v0.6h-4.7zM248.4 249.6h4.7v0.6h-4.7zM319.0 249.6h4.7v0.6h-4.7zM248.4 250.6h4.7v0.5h-4.7zM276.6 250.6h4.7v0.5h-4.7zM295.4 250.6h4.7v0.5h-4.7zM333.1 250.6h4.7v0.5h-4.7zM271.9 251.5h4.7v0.6h-4.7zM276.6 251.5h4.7v0.6h-4.7zM328.4 252.5h4.7v0.6h-4.7zM248.4 253.5h4.7v0.5h-4.7zM276.6 253.5h4.7v0.5h-4.7zM286.0 253.5h4.7v0.5h-4.7zM271.9 254.3h4.7v0.5h-4.7zM290.7 254.3h4.7v0.5h-4.7zM276.6 255.8h4.7v0.5h-4.7zM248.4 256.7h4.7v0.6h-4.7zM271.9 256.7h4.7v0.6h-4.7zM276.6 256.7h4.7v0.6h-4.7zM257.8 257.7h4.7v0.5h-4.7zM248.4 258.5h4.7v0.5h-4.7zM300.1 258.5h4.7v0.5h-4.7zM248.4 259.3h4.7v0.4h-4.7zM295.4 259.3h4.7v0.4h-4.7zM248.4 260.0h4.7v0.4h-4.7zM276.6 260.0h4.7v0.4h-4.7zM271.9 260.7h4.7v0.4h-4.7zM248.4 261.4h4.7v0.4h-4.7zM276.6 261.4h4.7v0.4h-4.7zM328.4 261.4h4.7v0.4h-4.7zM220.1 264.8h4.7v0.4h-4.7zM243.7 264.8h4.7v0.4h-4.7zM333.1 264.8h4.7v0.4h-4.7zM210.7 265.6h4.7v0.6h-4.7zM220.1 266.5h4.7v0.4h-4.7zM201.3 267.2h4.7v0.4h-4.7zM210.7 267.2h4.7v0.4h-4.7zM333.1 267.2h4.7v0.4h-4.7zM276.6 267.9h4.7v0.4h-4.7zM290.7 267.9h4.7v0.4h-4.7zM271.9 268.7h4.7v0.6h-4.7zM281.3 268.7h4.7v0.6h-4.7zM215.4 269.6h4.7v0.4h-4.7zM286.0 269.6h4.7v0.4h-4.7zM333.1 269.6h4.7v0.4h-4.7zM234.2 270.4h4.7v0.5h-4.7zM276.6 270.4h4.7v0.5h-4.7zM295.4 270.4h4.7v0.5h-4.7zM286.0 271.2h4.7v0.6h-4.7zM215.4 272.1h4.7v0.4h-4.7zM276.6 272.1h4.7v0.4h-4.7zM333.1 272.1h4.7v0.4h-4.7zM215.4 272.9h4.7v0.5h-4.7zM243.7 272.9h4.7v0.5h-4.7zM281.3 272.9h4.7v0.5h-4.7zM286.0 273.7h4.7v0.5h-4.7zM290.7 273.7h4.7v0.5h-4.7zM328.4 274.6h4.7v0.5h-4.7zM220.1 275.4h4.7v0.4h-4.7zM224.8 275.4h4.7v0.4h-4.7zM276.6 275.4h4.7v0.4h-4.7zM201.3 276.1h4.7v0.4h-4.7zM220.1 276.1h4.7v0.4h-4.7zM248.4 276.1h4.7v0.4h-4.7zM276.6 276.1h4.7v0.4h-4.7zM333.1 276.1h4.7v0.4h-4.7zM248.4 276.8h4.7v0.2h-4.7zM276.6 276.8h4.7v0.2h-4.7zM295.4 276.8h4.7v0.2h-4.7zM309.6 276.8h4.7v0.2h-4.7zM206.0 279.9h4.7v0.5h-4.7zM267.2 279.9h4.7v0.5h-4.7zM276.6 279.9h4.7v0.5h-4.7zM248.4 280.7h4.7v0.6h-4.7zM210.7 281.7h4.7v0.5h-4.7zM271.9 281.7h4.7v0.5h-4.7zM286.0 281.7h4.7v0.5h-4.7zM290.7 282.4h4.7v0.4h-4.7zM286.0 283.2h4.7v0.6h-4.7zM281.3 284.2h4.7v0.5h-4.7zM323.7 284.2h4.7v0.5h-4.7zM206.0 284.9h4.7v0.4h-4.7zM229.5 284.9h4.7v0.4h-4.7zM281.3 284.9h4.7v0.4h-4.7zM220.1 285.6h4.7v0.4h-4.7zM239.0 285.6h4.7v0.4h-4.7zM286.0 285.6h4.7v0.4h-4.7zM328.4 285.6h4.7v0.4h-4.7zM253.1 287.1h4.7v0.5h-4.7zM328.4 287.1h4.7v0.5h-4.7zM201.3 287.9h4.7v0.5h-4.7zM210.7 287.9h4.7v0.5h-4.7zM257.8 287.9h4.7v0.5h-4.7zM210.7 289.3h4.7v0.4h-4.7zM234.2 290.0h4.7v0.2h-4.7zM328.4 290.0h4.7v0.2h-4.7zM206.0 293.8h4.7v0.4h-4.7zM224.8 293.8h4.7v0.4h-4.7zM319.0 293.8h4.7v0.4h-4.7zM234.2 294.6h4.7v0.5h-4.7zM276.6 295.5h4.7v0.6h-4.7zM220.1 296.5h4.7v0.5h-4.7zM323.7 296.5h4.7v0.5h-4.7zM201.3 297.4h4.7v0.6h-4.7zM210.7 298.3h4.7v0.4h-4.7zM257.8 298.3h4.7v0.4h-4.7zM239.0 299.1h4.7v0.5h-4.7zM276.6 299.9h4.7v0.5h-4.7zM206.0 300.8h4.7v0.5h-4.7zM210.7 300.8h4.7v0.5h-4.7zM220.1 300.8h4.7v0.5h-4.7zM328.4 300.8h4.7v0.5h-4.7zM215.4 301.5h4.7v0.4h-4.7zM224.8 301.5h4.7v0.4h-4.7zM248.4 301.5h4.7v0.4h-4.7zM333.1 302.3h4.7v0.5h-4.7zM201.3 303.1h4.7v0.5h-4.7zM333.1 303.1h4.7v0.5h-4.7zM257.8 303.9h4.7v0.5h-4.7zM243.7 306.3h4.7v0.5h-4.7zM248.4 306.3h4.7v0.5h-4.7zM333.1 306.3h4.7v0.5h-4.7zM276.6 307.0h4.7v0.4h-4.7zM323.7 307.0h4.7v0.4h-4.7zM328.4 307.0h4.7v0.4h-4.7zM281.3 310.9h4.7v0.6h-4.7zM286.0 310.9h4.7v0.6h-4.7zM239.0 311.8h4.7v0.4h-4.7zM319.0 311.8h4.7v0.4h-4.7zM215.4 312.6h4.7v0.5h-4.7zM220.1 312.6h4.7v0.5h-4.7zM319.0 312.6h4.7v0.5h-4.7zM333.1 312.6h4.7v0.5h-4.7zM201.3 313.3h4.7v0.4h-4.7zM220.1 313.3h4.7v0.4h-4.7zM328.4 313.3h4.7v0.4h-4.7zM234.2 314.1h4.7v0.5h-4.7zM286.0 314.1h4.7v0.5h-4.7zM290.7 314.1h4.7v0.5h-4.7zM215.4 315.0h4.7v0.5h-4.7zM248.4 315.0h4.7v0.5h-4.7zM262.5 315.0h4.7v0.5h-4.7zM220.1 315.8h4.7v0.5h-4.7zM262.5 315.8h4.7v0.5h-4.7zM333.1 315.8h4.7v0.5h-4.7zM333.1 316.6h4.7v0.5h-4.7zM215.4 317.4h4.7v0.6h-4.7zM229.5 317.4h4.7v0.6h-4.7zM206.0 318.3h4.7v0.4h-4.7zM239.0 318.3h4.7v0.4h-4.7zM271.9 318.3h4.7v0.4h-4.7zM215.4 319.0h4.7v0.4h-4.7zM229.5 319.0h4.7v0.4h-4.7zM201.3 319.8h4.7v0.5h-4.7zM220.1 319.8h4.7v0.5h-4.7zM234.2 319.8h4.7v0.5h-4.7zM286.0 319.8h4.7v0.5h-4.7zM328.4 319.8h4.7v0.5h-4.7zM333.1 320.7h4.7v0.5h-4.7zM215.4 321.4h4.7v0.4h-4.7zM239.0 321.4h4.7v0.4h-4.7zM206.0 326.6h4.7v0.5h-4.7zM333.1 327.5h4.7v0.5h-4.7zM229.5 328.2h4.7v0.4h-4.7zM286.0 328.2h4.7v0.4h-4.7zM243.7 329.0h4.7v0.6h-4.7zM290.7 329.0h4.7v0.6h-4.7zM215.4 330.0h4.7v0.5h-4.7zM281.3 330.0h4.7v0.5h-4.7zM290.7 330.0h4.7v0.5h-4.7zM248.4 330.8h4.7v0.6h-4.7zM253.1 330.8h4.7v0.6h-4.7zM323.7 330.8h4.7v0.6h-4.7zM257.8 331.8h4.7v0.5h-4.7zM210.7 332.7h4.7v0.5h-4.7zM215.4 332.7h4.7v0.5h-4.7zM248.4 333.6h4.7v0.5h-4.7zM257.8 334.4h4.7v0.5h-4.7zM220.1 335.2h4.7v0.4h-4.7zM281.3 335.2h4.7v0.4h-4.7zM295.4 335.2h4.7v0.4h-4.7zM314.3 335.2h4.7v0.4h-4.7zM210.7 336.0h4.7v0.5h-4.7zM220.1 336.0h4.7v0.5h-4.7zM328.4 336.0h4.7v0.5h-4.7zM201.3 336.7h4.7v0.4h-4.7zM333.1 336.7h4.7v0.4h-4.7zM210.7 337.5h4.7v0.6h-4.7zM300.1 337.5h4.7v0.6h-4.7zM206.0 338.5h4.7v0.6h-4.7zM224.8 338.5h4.7v0.6h-4.7zM248.4 338.5h4.7v0.6h-4.7zM290.7 338.5h4.7v0.6h-4.7zM210.7 339.5h4.7v0.5h-4.7zM286.0 339.5h4.7v0.5h-4.7zM229.5 340.4h4.7v0.6h-4.7zM314.3 340.4h4.7v0.6h-4.7zM206.0 341.3h4.7v0.4h-4.7zM271.9 341.3h4.7v0.4h-4.7zM210.7 342.8h4.7v0.4h-4.7zM271.9 342.8h4.7v0.4h-4.7zM333.1 342.8h4.7v0.4h-4.7zM229.5 343.4h4.7v0.1h-4.7zM215.4 346.5h4.7v0.5h-4.7zM257.8 346.5h4.7v0.5h-4.7zM290.7 347.3h4.7v0.5h-4.7zM243.7 348.8h4.7v0.4h-4.7zM323.7 348.8h4.7v0.4h-4.7zM333.1 348.8h4.7v0.4h-4.7zM323.7 349.6h4.7v0.6h-4.7zM229.5 350.6h4.7v0.5h-4.7zM290.7 350.6h4.7v0.5h-4.7zM319.0 350.6h4.7v0.5h-4.7zM333.1 350.6h4.7v0.5h-4.7zM229.5 351.4h4.7v0.5h-4.7zM257.8 351.4h4.7v0.5h-4.7zM243.7 352.3h4.7v0.6h-4.7zM248.4 353.3h4.7v0.6h-4.7zM281.3 353.3h4.7v0.6h-4.7zM319.0 353.3h4.7v0.6h-4.7zM210.7 354.3h4.7v0.6h-4.7zM229.5 354.3h4.7v0.6h-4.7zM206.0 355.3h4.7v0.6h-4.7zM234.2 355.3h4.7v0.6h-4.7zM328.4 355.3h4.7v0.6h-4.7zM206.0 356.3h4.7v0.5h-4.7zM276.6 356.3h4.7v0.5h-4.7zM286.0 357.2h4.7v0.5h-4.7zM319.0 357.2h4.7v0.5h-4.7zM248.4 358.0h4.7v0.6h-4.7zM229.5 359.0h4.7v0.5h-4.7zM319.0 359.0h4.7v0.5h-4.7zM206.0 359.8h4.7v0.5h-4.7zM309.6 359.8h4.7v0.5h-4.7zM262.5 360.7h4.7v0.5h-4.7zM276.6 360.7h4.7v0.5h-4.7zM206.0 361.4h4.7v0.4h-4.7zM206.0 362.2h4.7v0.5h-4.7zM309.6 362.2h4.7v0.5h-4.7zM319.0 362.2h4.7v0.5h-4.7zM224.8 363.7h4.7v0.4h-4.7zM229.5 363.7h4.7v0.4h-4.7zM257.8 363.7h4.7v0.4h-4.7zM323.7 363.7h4.7v0.4h-4.7zM248.4 364.5h4.7v0.5h-4.7zM323.7 364.5h4.7v0.5h-4.7zM328.4 364.5h4.7v0.5h-4.7zM243.7 365.4h4.7v0.5h-4.7zM276.6 365.4h4.7v0.5h-4.7zM201.3 366.2h4.7v0.5h-4.7zM224.8 366.2h4.7v0.5h-4.7zM239.0 367.0h4.7v0.6h-4.7zM323.7 367.0h4.7v0.6h-4.7zM276.6 368.0h4.7v0.5h-4.7zM314.3 368.0h4.7v0.5h-4.7zM257.8 368.7h4.7v0.4h-4.7zM267.2 368.7h4.7v0.4h-4.7zM271.9 368.7h4.7v0.4h-4.7zM276.6 368.7h4.7v0.4h-4.7zM271.9 369.5h4.7v0.6h-4.7zM319.0 369.5h4.7v0.6h-4.7zM333.1 369.5h4.7v0.6h-4.7zM229.5 370.5h4.7v0.5h-4.7zM243.7 370.5h4.7v0.5h-4.7zM206.0 371.3h4.7v0.4h-4.7zM229.5 372.1h4.7v0.6h-4.7zM262.5 372.1h4.7v0.6h-4.7zM271.9 372.1h4.7v0.6h-4.7zM281.3 372.1h4.7v0.6h-4.7zM220.1 373.0h4.7v0.4h-4.7zM229.5 373.0h4.7v0.4h-4.7zM243.7 373.0h4.7v0.4h-4.7zM276.6 373.0h4.7v0.4h-4.7zM210.7 373.8h4.7v0.5h-4.7zM229.5 373.8h4.7v0.5h-4.7zM267.2 373.8h4.7v0.5h-4.7zM309.6 373.8h4.7v0.5h-4.7zM229.5 374.6h4.7v0.4h-4.7zM333.1 374.6h4.7v0.4h-4.7zM206.0 375.3h4.7v0.4h-4.7zM215.4 375.3h4.7v0.4h-4.7zM220.1 375.3h4.7v0.4h-4.7zM333.1 376.1h4.7v0.5h-4.7zM206.0 376.9h4.7v0.6h-4.7zM239.0 376.9h4.7v0.6h-4.7zM243.7 376.9h4.7v0.6h-4.7zM333.1 376.9h4.7v0.6h-4.7zM286.0 377.9h4.7v0.5h-4.7zM295.4 377.9h4.7v0.5h-4.7zM253.1 378.7h4.7v0.5h-4.7zM206.0 379.6h4.7v0.6h-4.7zM229.5 380.6h4.7v0.5h-4.7zM206.0 381.5h4.7v0.6h-4.7zM229.5 381.5h4.7v0.6h-4.7zM276.6 381.5h4.7v0.6h-4.7zM215.4 382.5h4.7v0.5h-4.7zM295.4 382.5h4.7v0.5h-4.7zM248.4 383.4h4.7v0.6h-4.7zM239.0 384.3h4.7v0.2h-4.7zM290.7 384.3h4.7v0.2h-4.7zM220.1 387.7h4.7v0.4h-4.7zM206.0 388.5h4.7v0.5h-4.7zM257.8 388.5h4.7v0.5h-4.7zM319.0 388.5h4.7v0.5h-4.7zM300.1 389.4h4.7v0.5h-4.7zM224.8 390.2h4.7v0.4h-4.7zM215.4 393.0h4.7v0.6h-4.7zM224.8 393.0h4.7v0.6h-4.7zM201.3 394.0h4.7v0.6h-4.7zM309.6 394.0h4.7v0.6h-4.7zM323.7 394.0h4.7v0.6h-4.7zM276.6 395.0h4.7v0.6h-4.7zM253.1 396.0h4.7v0.6h-4.7zM257.8 396.0h4.7v0.6h-4.7zM333.1 396.0h4.7v0.6h-4.7zM210.7 396.9h4.7v0.4h-4.7zM229.5 396.9h4.7v0.4h-4.7zM309.6 396.9h4.7v0.4h-4.7z"/>
<path fill="#79a4d0" d="M257.8 154.2h4.7v0.7h-4.7zM304.9 154.2h4.7v0.7h-4.7zM248.4 155.1h4.7v0.6h-4.7zM328.4 155.9h4.7v0.7h-4.7zM314.3 156.8h4.7v0.7h-4.7zM267.2 157.7h4.7v0.8h-4.7zM300.1 157.7h4.7v0.8h-4.7zM323.7 157.7h4.7v0.8h-4.7zM323.7 158.7h4.7v0.8h-4.7zM253.1 159.7h4.7v0.5h-4.7zM304.9 159.7h4.7v0.5h-4.7zM319.0 159.7h4.7v0.5h-4.7zM323.7 160.4h4.7v0.5h-4.7zM257.8 161.1h4.7v0.6h-4.7zM290.7 161.1h4.7v0.6h-4.7zM304.9 161.1h4.7v0.6h-4.7zM309.6 161.1h4.7v0.6h-4.7zM309.6 161.9h4.7v0.5h-4.7zM314.3 161.9h4.7v0.5h-4.7zM323.7 161.9h4.7v0.5h-4.7zM286.0 162.6h4.7v0.7h-4.7zM309.6 163.5h4.7v0.6h-4.7zM319.0 163.5h4.7v0.6h-4.7zM314.3 164.3h4.7v0.8h-4.7zM314.3 165.3h4.7v0.8h-4.7zM257.8 166.3h4.7v0.7h-4.7zM286.0 167.2h4.7v0.6h-4.7zM286.0 168.0h4.7v0.5h-4.7zM314.3 168.0h4.7v0.5h-4.7zM319.0 168.0h4.7v0.5h-4.7zM319.0 168.7h4.7v0.7h-4.7zM257.8 169.6h4.7v0.8h-4.7zM319.0 169.6h4.7v0.8h-4.7zM257.8 170.6h4.7v0.6h-4.7zM276.6 170.6h4.7v0.6h-4.7zM314.3 170.6h4.7v0.6h-4.7zM253.1 171.4h4.7v0.8h-4.7zM262.5 171.4h4.7v0.8h-4.7zM323.7 171.4h4.7v0.8h-4.7zM257.8 172.4h4.7v0.6h-4.7zM319.0 172.4h4.7v0.6h-4.7zM323.7 172.4h4.7v0.6h-4.7zM257.8 173.2h4.7v0.8h-4.7zM314.3 173.2h4.7v0.8h-4.7zM286.0 174.2h4.7v0.7h-4.7zM304.9 174.2h4.7v0.7h-4.7zM314.3 174.2h4.7v0.7h-4.7zM300.1 175.8h4.7v0.6h-4.7zM239.0 177.5h4.7v0.8h-4.7zM323.7 177.5h4.7v0.8h-4.7zM304.9 178.5h4.7v0.6h-4.7zM314.3 178.5h4.7v0.6h-4.7zM300.1 179.3h4.7v0.7h-4.7zM304.9 179.3h4.7v0.7h-4.7zM253.1 180.2h4.7v0.7h-4.7zM319.0 180.2h4.7v0.7h-4.7zM323.7 180.2h4.7v0.7h-4.7zM304.9 181.1h4.7v0.6h-4.7zM319.0 181.1h4.7v0.6h-4.7zM286.0 181.9h4.7v0.7h-4.7zM300.1 181.9h4.7v0.7h-4.7zM309.6 181.9h4.7v0.7h-4.7zM276.6 182.8h4.7v0.7h-4.7zM304.9 182.8h4.7v0.7h-4.7zM323.7 182.8h4.7v0.7h-4.7zM262.5 183.7h4.7v0.4h-4.7zM286.0 187.6h4.7v0.5h-4.7zM314.3 187.6h4.7v0.5h-4.7zM323.7 187.6h4.7v0.5h-4.7zM309.6 188.3h4.7v0.6h-4.7zM319.0 188.3h4.7v0.6h-4.7zM323.7 188.3h4.7v0.6h-4.7zM290.7 190.9h4.7v0.7h-4.7zM262.5 191.8h4.7v0.5h-4.7zM286.0 192.5h4.7v0.6h-4.7zM319.0 193.3h4.7v0.7h-4.7zM286.0 194.2h4.7v0.6h-4.7zM295.4 194.2h4.7v0.6h-4.7zM323.7 194.2h4.7v0.6h-4.7zM314.3 195.0h4.7v0.8h-4.7zM323.7 195.0h4.7v0.8h-4.7zM286.0 196.0h4.7v0.6h-4.7zM304.9 196.0h4.7v0.6h-4.7zM319.0 196.8h4.7v0.7h-4.7zM323.7 196.8h4.7v0.7h-4.7zM290.7 197.7h4.7v0.6h-4.7zM281.3 198.5h4.7v0.7h-4.7zM295.4 198.5h4.7v0.7h-4.7zM323.7 198.5h4.7v0.7h-4.7zM300.1 200.3h4.7v0.5h-4.7zM271.9 201.0h4.7v0.6h-4.7zM323.7 201.8h4.7v0.8h-4.7zM267.2 202.8h4.7v0.6h-4.7zM286.0 202.8h4.7v0.6h-4.7zM314.3 202.8h4.7v0.6h-4.7zM281.3 203.6h4.7v0.7h-4.7zM309.6 205.4h4.7v0.7h-4.7zM271.9 206.3h4.7v0.6h-4.7zM295.4 209.6h4.7v0.6h-4.7zM271.9 210.4h4.7v0.7h-4.7zM295.4 210.4h4.7v0.7h-4.7zM300.1 210.4h4.7v0.7h-4.7zM253.1 212.3h4.7v0.6h-4.7zM295.4 212.3h4.7v0.6h-4.7zM314.3 212.3h4.7v0.6h-4.7zM314.3 214.6h4.7v0.7h-4.7zM295.4 215.5h4.7v0.6h-4.7zM276.6 217.3h4.7v0.7h-4.7zM271.9 218.2h4.7v0.5h-4.7zM286.0 218.9h4.7v0.6h-4.7zM286.0 219.7h4.7v0.5h-4.7zM319.0 219.7h4.7v0.5h-4.7zM323.7 219.7h4.7v0.5h-4.7zM281.3 220.4h4.7v0.6h-4.7zM290.7 220.4h4.7v0.6h-4.7zM309.6 220.4h4.7v0.6h-4.7zM286.0 221.2h4.7v0.7h-4.7zM314.3 221.2h4.7v0.7h-4.7zM281.3 222.1h4.7v0.8h-4.7zM300.1 222.1h4.7v0.8h-4.7zM323.7 222.1h4.7v0.8h-4.7zM314.3 223.1h4.7v0.6h-4.7zM271.9 224.8h4.7v0.6h-4.7zM319.0 224.8h4.7v0.6h-4.7zM323.7 224.8h4.7v0.6h-4.7zM295.4 225.6h4.7v0.6h-4.7zM314.3 225.6h4.7v0.6h-4.7zM309.6 226.4h4.7v0.7h-4.7zM304.9 227.3h4.7v0.5h-4.7zM290.7 228.0h4.7v0.8h-4.7zM300.1 228.0h4.7v0.8h-4.7zM314.3 228.0h4.7v0.8h-4.7zM295.4 231.8h4.7v0.7h-4.7zM314.3 231.8h4.7v0.7h-4.7zM323.7 231.8h4.7v0.7h-4.7zM253.1 233.6h4.7v0.6h-4.7zM271.9 233.6h4.7v0.6h-4.7zM319.0 234.4h4.7v0.8h-4.7zM271.9 236.4h4.7v0.5h-4.7zM295.4 236.4h4.7v0.5h-4.7zM314.3 237.1h4.7v0.5h-4.7zM295.4 237.8h4.7v0.8h-4.7zM300.1 237.8h4.7v0.8h-4.7zM314.3 237.8h4.7v0.8h-4.7zM262.5 238.8h4.7v0.6h-4.7zM286.0 240.5h4.7v0.7h-4.7zM300.1 240.5h4.7v0.7h-4.7zM290.7 241.4h4.7v0.5h-4.7zM300.1 241.4h4.7v0.5h-4.7zM304.9 241.4h4.7v0.5h-4.7zM309.6 242.1h4.7v0.8h-4.7zM319.0 243.1h4.7v0.7h-4.7zM267.2 245.0h4.7v0.7h-4.7zM271.9 245.0h4.7v0.7h-4.7zM286.0 245.0h4.7v0.7h-4.7zM314.3 245.0h4.7v0.7h-4.7zM314.3 246.8h4.7v0.8h-4.7zM276.6 247.8h4.7v0.5h-4.7zM323.7 247.8h4.7v0.5h-4.7zM281.3 248.5h4.7v0.8h-4.7zM314.3 248.5h4.7v0.8h-4.7zM323.7 248.5h4.7v0.8h-4.7zM309.6 249.5h4.7v0.8h-4.7zM271.9 250.5h4.7v0.7h-4.7zM281.3 250.5h4.7v0.7h-4.7zM323.7 250.5h4.7v0.7h-4.7zM281.3 251.4h4.7v0.8h-4.7zM286.0 251.4h4.7v0.8h-4.7zM295.4 251.4h4.7v0.8h-4.7zM319.0 251.4h4.7v0.8h-4.7zM271.9 252.4h4.7v0.8h-4.7zM304.9 252.4h4.7v0.8h-4.7zM314.3 252.4h4.7v0.8h-4.7zM290.7 253.4h4.7v0.6h-4.7zM314.3 253.4h4.7v0.6h-4.7zM323.7 253.4h4.7v0.6h-4.7zM319.0 254.2h4.7v0.6h-4.7zM323.7 254.2h4.7v0.6h-4.7zM271.9 255.0h4.7v0.5h-4.7zM290.7 255.0h4.7v0.5h-4.7zM314.3 255.7h4.7v0.7h-4.7zM300.1 256.6h4.7v0.8h-4.7zM309.6 256.6h4.7v0.8h-4.7zM319.0 256.6h4.7v0.8h-4.7zM314.3 257.6h4.7v0.6h-4.7zM323.7 257.6h4.7v0.6h-4.7zM309.6 258.4h4.7v0.7h-4.7zM323.7 258.4h4.7v0.7h-4.7zM319.0 259.3h4.7v0.5h-4.7zM309.6 260.0h4.7v0.5h-4.7zM300.1 260.7h4.7v0.5h-4.7zM286.0 261.4h4.7v0.5h-4.7zM309.6 261.4h4.7v0.5h-4.7zM314.3 261.4h4.7v0.5h-4.7zM323.7 261.4h4.7v0.5h-4.7zM300.1 264.8h4.7v0.5h-4.7zM271.9 270.3h4.7v0.6h-4.7zM281.3 271.1h4.7v0.8h-4.7zM234.2 272.8h4.7v0.6h-4.7zM300.1 273.6h4.7v0.7h-4.7zM314.3 273.6h4.7v0.7h-4.7zM319.0 273.6h4.7v0.7h-4.7zM300.1 274.5h4.7v0.7h-4.7zM304.9 274.5h4.7v0.7h-4.7zM323.7 274.5h4.7v0.7h-4.7zM304.9 275.4h4.7v0.5h-4.7zM309.6 275.4h4.7v0.5h-4.7zM314.3 275.4h4.7v0.5h-4.7zM300.1 276.1h4.7v0.5h-4.7zM304.9 276.1h4.7v0.5h-4.7zM224.8 276.7h4.7v0.2h-4.7zM257.8 279.8h4.7v0.6h-4.7zM220.1 281.6h4.7v0.6h-4.7zM276.6 284.1h4.7v0.6h-4.7zM286.0 284.9h4.7v0.5h-4.7zM295.4 284.9h4.7v0.5h-4.7zM229.5 285.6h4.7v0.5h-4.7zM295.4 286.3h4.7v0.5h-4.7zM234.2 287.0h4.7v0.6h-4.7zM319.0 287.0h4.7v0.6h-4.7zM309.6 293.8h4.7v0.5h-4.7zM281.3 294.5h4.7v0.7h-4.7zM267.2 297.3h4.7v0.8h-4.7zM333.1 297.3h4.7v0.8h-4.7zM224.8 299.8h4.7v0.7h-4.7zM286.0 302.2h4.7v0.6h-4.7zM262.5 303.8h4.7v0.6h-4.7zM290.7 303.8h4.7v0.6h-4.7zM201.3 304.6h4.7v0.6h-4.7zM201.3 310.8h4.7v0.8h-4.7zM314.3 310.8h4.7v0.8h-4.7zM319.0 310.8h4.7v0.8h-4.7zM243.7 311.8h4.7v0.5h-4.7zM314.3 311.8h4.7v0.5h-4.7zM323.7 311.8h4.7v0.5h-4.7zM304.9 313.3h4.7v0.5h-4.7zM319.0 313.3h4.7v0.5h-4.7zM215.4 319.7h4.7v0.7h-4.7zM333.1 319.7h4.7v0.7h-4.7zM220.1 320.6h4.7v0.6h-4.7zM224.8 321.4h4.7v0.5h-4.7zM309.6 326.5h4.7v0.7h-4.7zM295.4 327.4h4.7v0.6h-4.7zM309.6 327.4h4.7v0.6h-4.7zM309.6 328.9h4.7v0.8h-4.7zM309.6 330.7h4.7v0.8h-4.7zM286.0 331.7h4.7v0.7h-4.7zM295.4 332.6h4.7v0.7h-4.7zM295.4 333.5h4.7v0.6h-4.7zM314.3 333.5h4.7v0.6h-4.7zM262.5 334.3h4.7v0.7h-4.7zM271.9 334.3h4.7v0.7h-4.7zM309.6 335.2h4.7v0.5h-4.7zM319.0 335.2h4.7v0.5h-4.7zM319.0 336.7h4.7v0.5h-4.7zM201.3 337.4h4.7v0.8h-4.7zM309.6 337.4h4.7v0.8h-4.7zM300.1 340.3h4.7v0.8h-4.7zM300.1 342.0h4.7v0.6h-4.7zM319.0 342.0h4.7v0.6h-4.7zM206.0 348.1h4.7v0.5h-4.7zM257.8 348.1h4.7v0.5h-4.7zM206.0 350.5h4.7v0.6h-4.7zM328.4 353.2h4.7v0.8h-4.7zM333.1 358.9h4.7v0.6h-4.7zM220.1 361.4h4.7v0.5h-4.7zM300.1 363.7h4.7v0.5h-4.7zM234.2 364.4h4.7v0.7h-4.7zM300.1 366.9h4.7v0.8h-4.7zM201.3 368.7h4.7v0.5h-4.7zM220.1 368.7h4.7v0.5h-4.7zM220.1 371.3h4.7v0.5h-4.7zM239.0 371.3h4.7v0.5h-4.7zM267.2 372.0h4.7v0.8h-4.7zM300.1 373.7h4.7v0.7h-4.7zM201.3 374.6h4.7v0.5h-4.7zM319.0 374.6h4.7v0.5h-4.7zM201.3 376.0h4.7v0.6h-4.7zM229.5 376.0h4.7v0.6h-4.7zM309.6 376.0h4.7v0.6h-4.7zM262.5 376.8h4.7v0.8h-4.7zM229.5 378.6h4.7v0.7h-4.7zM295.4 378.6h4.7v0.7h-4.7zM243.7 379.5h4.7v0.8h-4.7zM253.1 383.3h4.7v0.8h-4.7zM304.9 383.3h4.7v0.8h-4.7zM314.3 384.2h4.7v0.2h-4.7zM257.8 387.7h4.7v0.5h-4.7zM257.8 390.9h4.7v0.8h-4.7zM281.3 390.9h4.7v0.8h-4.7zM304.9 391.9h4.7v0.8h-4.7zM314.3 392.9h4.7v0.8h-4.7zM276.6 393.9h4.7v0.8h-4.7zM267.2 395.9h4.7v0.8h-4.7zM323.7 397.6h4.7v0.4h-4.7zM328.4 397.6h4.7v0.4h-4.7z"/>
<path fill="#aac4dd" d="M262.5 155.1h4.7v0.6h-4.7zM314.3 155.1h4.7v0.6h-4.7zM276.6 155.9h4.7v0.7h-4.7zM286.0 155.9h4.7v0.7h-4.7zM300.1 155.9h4.7v0.7h-4.7zM314.3 155.9h4.7v0.7h-4.7zM253.1 156.8h4.7v0.7h-4.7zM276.6 156.8h4.7v0.7h-4.7zM276.6 157.7h4.7v0.8h-4.7zM304.9 157.7h4.7v0.8h-4.7zM314.3 157.7h4.7v0.8h-4.7zM319.0 157.7h4.7v0.8h-4.7zM257.8 158.7h4.7v0.8h-4.7zM262.5 158.7h4.7v0.8h-4.7zM286.0 158.7h4.7v0.8h-4.7zM262.5 159.7h4.7v0.5h-4.7zM290.7 159.7h4.7v0.5h-4.7zM234.2 160.4h4.7v0.5h-4.7zM333.1 160.4h4.7v0.5h-4.7zM295.4 161.1h4.7v0.6h-4.7zM323.7 161.1h4.7v0.6h-4.7zM319.0 161.9h4.7v0.5h-4.7zM319.0 162.6h4.7v0.7h-4.7zM257.8 164.3h4.7v0.8h-4.7zM300.1 164.3h4.7v0.8h-4.7zM304.9 164.3h4.7v0.8h-4.7zM323.7 164.3h4.7v0.8h-4.7zM234.2 165.3h4.7v0.8h-4.7zM309.6 165.3h4.7v0.8h-4.7zM323.7 165.3h4.7v0.8h-4.7zM253.1 166.3h4.7v0.7h-4.7zM314.3 166.3h4.7v0.7h-4.7zM319.0 166.3h4.7v0.7h-4.7zM290.7 167.2h4.7v0.6h-4.7zM323.7 167.2h4.7v0.6h-4.7zM248.4 168.0h4.7v0.5h-4.7zM300.1 168.0h4.7v0.5h-4.7zM300.1 168.7h4.7v0.7h-4.7zM323.7 168.7h4.7v0.7h-4.7zM286.0 169.6h4.7v0.8h-4.7zM300.1 169.6h4.7v0.8h-4.7zM304.9 169.6h4.7v0.8h-4.7zM309.6 169.6h4.7v0.8h-4.7zM328.4 169.6h4.7v0.8h-4.7zM253.1 170.6h4.7v0.6h-4.7zM300.1 170.6h4.7v0.6h-4.7zM304.9 170.6h4.7v0.6h-4.7zM309.6 170.6h4.7v0.6h-4.7zM257.8 171.4h4.7v0.8h-4.7zM304.9 171.4h4.7v0.8h-4.7zM314.3 171.4h4.7v0.8h-4.7zM319.0 171.4h4.7v0.8h-4.7zM328.4 171.4h4.7v0.8h-4.7zM281.3 172.4h4.7v0.6h-4.7zM304.9 172.4h4.7v0.6h-4.7zM262.5 173.2h4.7v0.8h-4.7zM300.1 173.2h4.7v0.8h-4.7zM304.9 173.2h4.7v0.8h-4.7zM253.1 174.2h4.7v0.7h-4.7zM281.3 174.2h4.7v0.7h-4.7zM304.9 175.1h4.7v0.5h-4.7zM323.7 175.1h4.7v0.5h-4.7zM262.5 175.8h4.7v0.6h-4.7zM276.6 175.8h4.7v0.6h-4.7zM309.6 175.8h4.7v0.6h-4.7zM314.3 175.8h4.7v0.6h-4.7zM300.1 176.6h4.7v0.7h-4.7zM248.4 177.5h4.7v0.8h-4.7zM262.5 177.5h4.7v0.8h-4.7zM314.3 177.5h4.7v0.8h-4.7zM262.5 178.5h4.7v0.6h-4.7zM300.1 178.5h4.7v0.6h-4.7zM253.1 179.3h4.7v0.7h-4.7zM257.8 179.3h4.7v0.7h-4.7zM262.5 179.3h4.7v0.7h-4.7zM286.0 179.3h4.7v0.7h-4.7zM314.3 179.3h4.7v0.7h-4.7zM262.5 180.2h4.7v0.7h-4.7zM290.7 180.2h4.7v0.7h-4.7zM309.6 180.2h4.7v0.7h-4.7zM314.3 180.2h4.7v0.7h-4.7zM300.1 181.1h4.7v0.6h-4.7zM304.9 181.9h4.7v0.7h-4.7zM314.3 181.9h4.7v0.7h-4.7zM253.1 182.8h4.7v0.7h-4.7zM253.1 183.7h4.7v0.4h-4.7zM314.3 183.7h4.7v0.4h-4.7zM319.0 183.7h4.7v0.4h-4.7zM323.7 183.7h4.7v0.4h-4.7zM309.6 187.6h4.7v0.5h-4.7zM319.0 187.6h4.7v0.5h-4.7zM300.1 189.1h4.7v0.6h-4.7zM309.6 189.1h4.7v0.6h-4.7zM271.9 189.9h4.7v0.8h-4.7zM281.3 189.9h4.7v0.8h-4.7zM267.2 190.9h4.7v0.7h-4.7zM323.7 190.9h4.7v0.7h-4.7zM281.3 191.8h4.7v0.5h-4.7zM286.0 191.8h4.7v0.5h-4.7zM314.3 191.8h4.7v0.5h-4.7zM319.0 191.8h4.7v0.5h-4.7zM300.1 192.5h4.7v0.6h-4.7zM257.8 193.2h4.7v0.9h-4.7zM290.7 193.3h4.7v0.7h-4.7zM295.4 193.3h4.7v0.7h-4.7zM323.7 193.3h4.7v0.7h-4.7zM309.6 194.2h4.7v0.6h-4.7zM333.1 194.2h4.7v0.6h-4.7zM257.8 194.9h4.7v1.0h-4.7zM304.9 195.0h4.7v0.8h-4.7zM309.6 195.0h4.7v0.8h-4.7zM319.0 195.0h4.7v0.8h-4.7zM257.8 195.9h4.7v0.8h-4.7zM304.9 196.8h4.7v0.7h-4.7zM314.3 196.8h4.7v0.7h-4.7zM257.8 197.6h4.7v0.8h-4.7zM304.9 197.7h4.7v0.6h-4.7zM309.6 197.7h4.7v0.6h-4.7zM319.0 197.7h4.7v0.6h-4.7zM323.7 197.7h4.7v0.6h-4.7zM314.3 199.4h4.7v0.7h-4.7zM319.0 199.4h4.7v0.7h-4.7zM290.7 200.3h4.7v0.5h-4.7zM304.9 200.3h4.7v0.5h-4.7zM309.6 200.3h4.7v0.5h-4.7zM319.0 200.3h4.7v0.5h-4.7zM257.8 201.7h4.7v1.0h-4.7zM319.0 201.8h4.7v0.8h-4.7zM257.8 202.7h4.7v0.8h-4.7zM319.0 204.4h4.7v0.9h-4.7zM323.7 204.4h4.7v0.9h-4.7zM290.7 205.4h4.7v0.7h-4.7zM304.9 205.4h4.7v0.7h-4.7zM314.3 205.4h4.7v0.7h-4.7zM281.3 206.3h4.7v0.6h-4.7zM323.7 206.2h4.7v0.8h-4.7zM286.0 207.9h4.7v0.7h-4.7zM290.7 207.9h4.7v0.7h-4.7zM295.4 207.9h4.7v0.7h-4.7zM319.0 207.8h4.7v0.9h-4.7zM309.6 208.8h4.7v0.6h-4.7zM314.3 208.8h4.7v0.6h-4.7zM286.0 209.6h4.7v0.6h-4.7zM290.7 209.6h4.7v0.6h-4.7zM323.7 210.3h4.7v0.9h-4.7zM309.6 212.3h4.7v0.6h-4.7zM290.7 213.1h4.7v0.6h-4.7zM295.4 213.1h4.7v0.6h-4.7zM304.9 213.1h4.7v0.6h-4.7zM323.7 213.0h4.7v0.8h-4.7zM300.1 213.9h4.7v0.5h-4.7zM271.9 214.6h4.7v0.7h-4.7zM281.3 214.6h4.7v0.7h-4.7zM309.6 214.6h4.7v0.7h-4.7zM300.1 215.5h4.7v0.6h-4.7zM304.9 215.5h4.7v0.6h-4.7zM319.0 215.4h4.7v0.8h-4.7zM323.7 215.4h4.7v0.8h-4.7zM290.7 216.3h4.7v0.8h-4.7zM295.4 216.3h4.7v0.8h-4.7zM314.3 217.3h4.7v0.7h-4.7zM323.7 218.2h4.7v0.5h-4.7zM333.1 218.2h4.7v0.5h-4.7zM300.1 218.9h4.7v0.6h-4.7zM323.7 218.9h4.7v0.6h-4.7zM300.1 219.7h4.7v0.5h-4.7zM286.0 220.4h4.7v0.6h-4.7zM300.1 220.4h4.7v0.6h-4.7zM319.0 220.4h4.7v0.6h-4.7zM323.7 220.4h4.7v0.6h-4.7zM281.3 221.2h4.7v0.7h-4.7zM290.7 221.2h4.7v0.7h-4.7zM304.9 221.2h4.7v0.7h-4.7zM271.9 222.1h4.7v0.8h-4.7zM290.7 222.1h4.7v0.8h-4.7zM309.6 222.1h4.7v0.8h-4.7zM286.0 223.1h4.7v0.6h-4.7zM300.1 223.1h4.7v0.6h-4.7zM304.9 223.1h4.7v0.6h-4.7zM323.7 223.1h4.7v0.6h-4.7zM309.6 223.9h4.7v0.7h-4.7zM319.0 223.9h4.7v0.7h-4.7zM300.1 226.4h4.7v0.7h-4.7zM304.9 226.4h4.7v0.7h-4.7zM281.3 227.3h4.7v0.5h-4.7zM290.7 227.3h4.7v0.5h-4.7zM300.1 227.3h4.7v0.5h-4.7zM309.6 229.0h4.7v0.8h-4.7zM314.3 229.0h4.7v0.8h-4.7zM286.0 231.0h4.7v0.6h-4.7zM300.1 231.0h4.7v0.6h-4.7zM304.9 231.0h4.7v0.6h-4.7zM314.3 231.0h4.7v0.6h-4.7zM253.1 231.8h4.7v0.7h-4.7zM309.6 232.7h4.7v0.7h-4.7zM323.7 232.7h4.7v0.7h-4.7zM271.9 234.4h4.7v0.8h-4.7zM281.3 234.4h4.7v0.8h-4.7zM286.0 234.4h4.7v0.8h-4.7zM300.1 234.4h4.7v0.8h-4.7zM304.9 234.4h4.7v0.8h-4.7zM309.6 234.4h4.7v0.8h-4.7zM314.3 234.4h4.7v0.8h-4.7zM271.9 235.4h4.7v0.8h-4.7zM304.9 235.4h4.7v0.8h-4.7zM309.6 235.4h4.7v0.8h-4.7zM300.1 236.4h4.7v0.5h-4.7zM314.3 236.4h4.7v0.5h-4.7zM323.7 236.4h4.7v0.5h-4.7zM290.7 237.1h4.7v0.5h-4.7zM295.4 237.1h4.7v0.5h-4.7zM300.1 237.1h4.7v0.5h-4.7zM323.7 237.8h4.7v0.8h-4.7zM281.3 238.8h4.7v0.6h-4.7zM290.7 238.8h4.7v0.6h-4.7zM304.9 239.6h4.7v0.7h-4.7zM314.3 239.6h4.7v0.7h-4.7zM271.9 240.5h4.7v0.7h-4.7zM314.3 241.4h4.7v0.5h-4.7zM323.7 241.4h4.7v0.5h-4.7zM295.4 242.1h4.7v0.8h-4.7zM300.1 242.1h4.7v0.8h-4.7zM304.9 242.1h4.7v0.8h-4.7zM281.3 244.0h4.7v0.8h-4.7zM295.4 244.0h4.7v0.8h-4.7zM309.6 244.0h4.7v0.8h-4.7zM333.1 244.0h4.7v0.8h-4.7zM300.1 245.0h4.7v0.7h-4.7zM304.9 245.0h4.7v0.7h-4.7zM281.3 245.9h4.7v0.7h-4.7zM290.7 245.9h4.7v0.7h-4.7zM271.9 246.8h4.7v0.8h-4.7zM319.0 246.8h4.7v0.8h-4.7zM281.3 247.8h4.7v0.5h-4.7zM300.1 247.8h4.7v0.5h-4.7zM262.5 248.5h4.7v0.8h-4.7zM295.4 248.5h4.7v0.8h-4.7zM304.9 248.5h4.7v0.8h-4.7zM309.6 248.5h4.7v0.8h-4.7zM281.3 249.5h4.7v0.8h-4.7zM328.4 249.5h4.7v0.8h-4.7zM286.0 250.5h4.7v0.7h-4.7zM290.7 250.5h4.7v0.7h-4.7zM300.1 250.5h4.7v0.7h-4.7zM309.6 250.5h4.7v0.7h-4.7zM300.1 251.4h4.7v0.8h-4.7zM309.6 251.4h4.7v0.8h-4.7zM314.3 251.4h4.7v0.8h-4.7zM281.3 252.4h4.7v0.8h-4.7zM281.3 254.2h4.7v0.6h-4.7zM286.0 254.2h4.7v0.6h-4.7zM314.3 254.2h4.7v0.6h-4.7zM286.0 255.7h4.7v0.7h-4.7zM300.1 255.7h4.7v0.7h-4.7zM304.9 258.4h4.7v0.7h-4.7zM271.9 259.3h4.7v0.5h-4.7zM281.3 259.3h4.7v0.5h-4.7zM309.6 259.3h4.7v0.5h-4.7zM295.4 260.0h4.7v0.5h-4.7zM290.7 260.7h4.7v0.5h-4.7zM304.9 260.7h4.7v0.5h-4.7zM333.1 261.4h4.7v0.5h-4.7zM253.1 264.7h4.7v0.7h-4.7zM304.9 264.7h4.7v0.7h-4.7zM257.8 265.4h4.7v1.0h-4.7zM229.5 266.5h4.7v0.5h-4.7zM300.1 266.5h4.7v0.5h-4.7zM314.3 267.1h4.7v0.7h-4.7zM319.0 267.1h4.7v0.7h-4.7zM262.5 267.8h4.7v0.7h-4.7zM271.9 267.9h4.7v0.5h-4.7zM309.6 267.8h4.7v0.7h-4.7zM323.7 267.8h4.7v0.7h-4.7zM239.0 268.6h4.7v0.8h-4.7zM323.7 269.5h4.7v0.7h-4.7zM309.6 270.2h4.7v0.8h-4.7zM314.3 270.2h4.7v0.8h-4.7zM300.1 271.1h4.7v0.8h-4.7zM304.9 272.0h4.7v0.7h-4.7zM314.3 272.0h4.7v0.7h-4.7zM309.6 272.7h4.7v0.8h-4.7zM257.8 273.5h4.7v0.9h-4.7zM281.3 273.6h4.7v0.7h-4.7zM319.0 274.5h4.7v0.7h-4.7zM234.2 275.4h4.7v0.5h-4.7zM257.8 275.3h4.7v0.7h-4.7zM319.0 275.4h4.7v0.5h-4.7zM323.7 275.4h4.7v0.5h-4.7zM314.3 276.7h4.7v0.2h-4.7zM319.0 279.8h4.7v0.6h-4.7zM295.4 281.6h4.7v0.6h-4.7zM304.9 281.5h4.7v0.8h-4.7zM319.0 282.4h4.7v0.5h-4.7zM267.2 283.1h4.7v0.8h-4.7zM290.7 283.1h4.7v0.8h-4.7zM304.9 284.0h4.7v0.8h-4.7zM295.4 285.6h4.7v0.5h-4.7zM300.1 285.5h4.7v0.7h-4.7zM309.6 285.5h4.7v0.7h-4.7zM206.0 286.3h4.7v0.5h-4.7zM239.0 287.8h4.7v0.6h-4.7zM309.6 287.7h4.7v0.8h-4.7zM319.0 287.8h4.7v0.6h-4.7zM253.1 288.6h4.7v0.5h-4.7zM304.9 288.5h4.7v0.7h-4.7zM300.1 289.2h4.7v0.7h-4.7zM309.6 289.2h4.7v0.7h-4.7zM314.3 293.8h4.7v0.5h-4.7zM239.0 294.5h4.7v0.7h-4.7zM215.4 295.4h4.7v0.8h-4.7zM286.0 295.3h4.7v1.0h-4.7zM300.1 296.4h4.7v0.7h-4.7zM304.9 296.3h4.7v0.9h-4.7zM328.4 297.3h4.7v0.8h-4.7zM304.9 298.9h4.7v0.8h-4.7zM206.0 299.8h4.7v0.7h-4.7zM239.0 299.8h4.7v0.7h-4.7zM281.3 300.7h4.7v0.6h-4.7zM276.6 302.2h4.7v0.6h-4.7zM304.9 302.1h4.7v0.8h-4.7zM314.3 302.1h4.7v0.8h-4.7zM206.0 303.0h4.7v0.6h-4.7zM304.9 302.9h4.7v0.8h-4.7zM314.3 302.9h4.7v0.8h-4.7zM319.0 303.7h4.7v0.8h-4.7zM304.9 304.5h4.7v0.8h-4.7zM319.0 305.3h4.7v0.8h-4.7zM314.3 306.9h4.7v0.6h-4.7zM229.5 310.8h4.7v0.8h-4.7zM304.9 310.8h4.7v0.8h-4.7zM309.6 311.8h4.7v0.5h-4.7zM304.9 312.5h4.7v0.6h-4.7zM314.3 312.5h4.7v0.6h-4.7zM271.9 313.3h4.7v0.5h-4.7zM281.3 313.3h4.7v0.5h-4.7zM323.7 313.3h4.7v0.5h-4.7zM220.1 314.0h4.7v0.7h-4.7zM309.6 314.0h4.7v0.7h-4.7zM243.7 314.9h4.7v0.6h-4.7zM319.0 314.8h4.7v0.8h-4.7zM304.9 315.6h4.7v0.8h-4.7zM309.6 316.4h4.7v0.8h-4.7zM224.8 317.3h4.7v0.8h-4.7zM304.9 317.2h4.7v1.0h-4.7zM309.6 318.2h4.7v0.7h-4.7zM323.7 318.2h4.7v0.7h-4.7zM276.6 319.0h4.7v0.5h-4.7zM314.3 318.9h4.7v0.7h-4.7zM319.0 319.6h4.7v0.9h-4.7zM210.7 320.6h4.7v0.6h-4.7zM239.0 320.6h4.7v0.6h-4.7zM253.1 320.6h4.7v0.6h-4.7zM304.9 320.5h4.7v0.8h-4.7zM323.7 320.5h4.7v0.8h-4.7zM290.7 321.4h4.7v0.5h-4.7zM220.1 322.1h4.7v0.5h-4.7zM267.2 322.1h4.7v0.5h-4.7zM300.1 322.1h4.7v0.5h-4.7zM309.6 322.0h4.7v0.7h-4.7zM304.9 322.7h4.7v0.8h-4.7zM239.0 326.5h4.7v0.7h-4.7zM248.4 326.5h4.7v0.7h-4.7zM314.3 327.4h4.7v0.6h-4.7zM319.0 327.4h4.7v0.6h-4.7zM295.4 328.2h4.7v0.5h-4.7zM300.1 328.2h4.7v0.5h-4.7zM319.0 328.2h4.7v0.5h-4.7zM295.4 328.9h4.7v0.8h-4.7zM239.0 329.9h4.7v0.6h-4.7zM248.4 329.9h4.7v0.6h-4.7zM300.1 329.9h4.7v0.6h-4.7zM309.6 329.9h4.7v0.6h-4.7zM304.9 330.6h4.7v1.0h-4.7zM309.6 331.7h4.7v0.7h-4.7zM319.0 333.5h4.7v0.6h-4.7zM239.0 334.3h4.7v0.7h-4.7zM309.6 335.9h4.7v0.6h-4.7zM314.3 335.9h4.7v0.6h-4.7zM319.0 335.9h4.7v0.6h-4.7zM300.1 336.7h4.7v0.5h-4.7zM295.4 337.4h4.7v0.8h-4.7zM319.0 339.4h4.7v0.7h-4.7zM239.0 341.3h4.7v0.5h-4.7zM304.9 341.2h4.7v0.7h-4.7zM314.3 341.3h4.7v0.5h-4.7zM210.7 342.0h4.7v0.6h-4.7zM224.8 342.0h4.7v0.6h-4.7zM304.9 342.0h4.7v0.6h-4.7zM201.3 342.8h4.7v0.5h-4.7zM300.1 342.8h4.7v0.5h-4.7zM314.3 342.8h4.7v0.5h-4.7zM300.1 343.4h4.7v0.1h-4.7zM309.6 343.4h4.7v0.1h-4.7zM300.1 346.4h4.7v0.6h-4.7zM300.1 347.2h4.7v0.7h-4.7zM304.9 347.1h4.7v0.9h-4.7zM239.0 348.1h4.7v0.5h-4.7zM304.9 348.0h4.7v0.7h-4.7zM323.7 348.1h4.7v0.5h-4.7zM304.9 348.7h4.7v0.7h-4.7zM271.9 349.5h4.7v0.8h-4.7zM300.1 350.5h4.7v0.6h-4.7zM201.3 351.3h4.7v0.7h-4.7zM328.4 351.3h4.7v0.7h-4.7zM290.7 352.2h4.7v0.8h-4.7zM304.9 353.1h4.7v1.0h-4.7zM234.2 354.2h4.7v0.8h-4.7zM300.1 354.2h4.7v0.8h-4.7zM267.2 355.2h4.7v0.8h-4.7zM304.9 355.1h4.7v1.0h-4.7zM257.8 356.2h4.7v0.7h-4.7zM234.2 357.1h4.7v0.6h-4.7zM333.1 357.1h4.7v0.6h-4.7zM304.9 359.7h4.7v0.7h-4.7zM210.7 360.6h4.7v0.6h-4.7zM300.1 360.6h4.7v0.6h-4.7zM304.9 360.6h4.7v0.6h-4.7zM328.4 362.1h4.7v0.6h-4.7zM201.3 362.9h4.7v0.6h-4.7zM206.0 362.9h4.7v0.6h-4.7zM253.1 362.9h4.7v0.6h-4.7zM267.2 362.9h4.7v0.6h-4.7zM300.1 362.9h4.7v0.6h-4.7zM304.9 363.7h4.7v0.5h-4.7zM295.4 364.4h4.7v0.7h-4.7zM286.0 365.3h4.7v0.6h-4.7zM295.4 365.3h4.7v0.6h-4.7zM304.9 366.0h4.7v0.8h-4.7zM267.2 367.9h4.7v0.6h-4.7zM300.1 367.9h4.7v0.6h-4.7zM300.1 368.7h4.7v0.5h-4.7zM300.1 369.4h4.7v0.8h-4.7zM262.5 371.3h4.7v0.5h-4.7zM304.9 372.9h4.7v0.7h-4.7zM239.0 374.6h4.7v0.5h-4.7zM224.8 375.3h4.7v0.5h-4.7zM300.1 375.3h4.7v0.5h-4.7zM267.2 376.0h4.7v0.6h-4.7zM220.1 377.8h4.7v0.6h-4.7zM210.7 380.5h4.7v0.7h-4.7zM257.8 380.5h4.7v0.7h-4.7zM300.1 380.5h4.7v0.7h-4.7zM234.2 382.4h4.7v0.7h-4.7zM257.8 382.4h4.7v0.7h-4.7zM323.7 382.4h4.7v0.7h-4.7zM319.0 383.3h4.7v0.8h-4.7zM295.4 384.2h4.7v0.2h-4.7zM253.1 388.4h4.7v0.7h-4.7zM286.0 388.4h4.7v0.7h-4.7zM333.1 390.9h4.7v0.8h-4.7zM304.9 394.9h4.7v0.8h-4.7zM323.7 394.9h4.7v0.8h-4.7zM328.4 395.9h4.7v0.8h-4.7zM220.1 396.9h4.7v0.5h-4.7zM290.7 396.9h4.7v0.5h-4.7z"/>
<path fill="#3d83c6" d="M262.5 193.2h4.7v0.9h-4.7zM257.8 194.1h4.7v0.8h-4.7zM262.5 194.1h4.7v0.8h-4.7zM262.5 194.9h4.7v1.0h-4.7zM262.5 195.9h4.7v0.8h-4.7zM257.8 196.7h4.7v0.9h-4.7zM262.5 196.7h4.7v0.9h-4.7zM262.5 197.6h4.7v0.8h-4.7zM257.8 198.4h4.7v0.9h-4.7zM262.5 198.4h4.7v0.9h-4.7zM257.8 199.3h4.7v0.9h-4.7zM262.5 199.3h4.7v0.9h-4.7zM257.8 200.2h4.7v0.7h-4.7zM262.5 200.2h4.7v0.7h-4.7zM257.8 200.9h4.7v0.8h-4.7zM262.5 200.9h4.7v0.8h-4.7zM262.5 201.7h4.7v1.0h-4.7zM262.5 202.7h4.7v0.8h-4.7zM319.0 203.5h4.7v0.9h-4.7zM323.7 203.5h4.7v0.9h-4.7zM319.0 205.3h4.7v0.9h-4.7zM323.7 205.3h4.7v0.9h-4.7zM319.0 206.2h4.7v0.8h-4.7zM323.7 207.0h4.7v0.8h-4.7zM323.7 207.8h4.7v0.9h-4.7zM319.0 208.7h4.7v0.8h-4.7zM323.7 208.7h4.7v0.8h-4.7zM319.0 209.5h4.7v0.8h-4.7zM323.7 209.5h4.7v0.8h-4.7zM319.0 210.3h4.7v0.9h-4.7zM319.0 211.2h4.7v1.0h-4.7zM323.7 211.2h4.7v1.0h-4.7zM319.0 212.2h4.7v0.8h-4.7zM323.7 212.2h4.7v0.8h-4.7zM319.0 213.0h4.7v0.8h-4.7zM319.0 213.8h4.7v0.7h-4.7zM323.7 213.8h4.7v0.7h-4.7zM319.0 214.5h4.7v0.9h-4.7zM257.8 264.7h4.7v0.7h-4.7zM262.5 264.7h4.7v0.7h-4.7zM309.6 264.7h4.7v0.7h-4.7zM314.3 264.7h4.7v0.7h-4.7zM319.0 264.7h4.7v0.7h-4.7zM323.7 264.7h4.7v0.7h-4.7zM253.1 265.4h4.7v1.0h-4.7zM262.5 265.4h4.7v1.0h-4.7zM309.6 265.4h4.7v1.0h-4.7zM314.3 265.4h4.7v1.0h-4.7zM319.0 265.4h4.7v1.0h-4.7zM323.7 265.4h4.7v1.0h-4.7zM253.1 266.4h4.7v0.7h-4.7zM257.8 266.4h4.7v0.7h-4.7zM262.5 266.4h4.7v0.7h-4.7zM304.9 266.4h4.7v0.7h-4.7zM309.6 266.4h4.7v0.7h-4.7zM314.3 266.4h4.7v0.7h-4.7zM323.7 266.4h4.7v0.7h-4.7zM253.1 267.1h4.7v0.7h-4.7zM257.8 267.1h4.7v0.7h-4.7zM262.5 267.1h4.7v0.7h-4.7zM304.9 267.1h4.7v0.7h-4.7zM323.7 267.1h4.7v0.7h-4.7zM253.1 267.8h4.7v0.7h-4.7zM257.8 267.8h4.7v0.7h-4.7zM304.9 267.8h4.7v0.7h-4.7zM314.3 267.8h4.7v0.7h-4.7zM319.0 267.8h4.7v0.7h-4.7zM253.1 268.5h4.7v1.0h-4.7zM257.8 268.5h4.7v1.0h-4.7zM262.5 268.5h4.7v1.0h-4.7zM304.9 268.5h4.7v1.0h-4.7zM309.6 268.5h4.7v1.0h-4.7zM314.3 268.5h4.7v1.0h-4.7zM319.0 268.5h4.7v1.0h-4.7zM323.7 268.5h4.7v1.0h-4.7zM253.1 269.5h4.7v0.7h-4.7zM257.8 269.5h4.7v0.7h-4.7zM262.5 269.5h4.7v0.7h-4.7zM304.9 269.5h4.7v0.7h-4.7zM309.6 269.5h4.7v0.7h-4.7zM314.3 269.5h4.7v0.7h-4.7zM253.1 270.2h4.7v0.8h-4.7zM257.8 270.2h4.7v0.8h-4.7zM262.5 270.2h4.7v0.8h-4.7zM304.9 270.2h4.7v0.8h-4.7zM319.0 270.2h4.7v0.8h-4.7zM323.7 270.2h4.7v0.8h-4.7zM253.1 271.0h4.7v1.0h-4.7zM257.8 271.0h4.7v1.0h-4.7zM262.5 271.0h4.7v1.0h-4.7zM304.9 271.0h4.7v1.0h-4.7zM319.0 271.0h4.7v1.0h-4.7zM323.7 271.0h4.7v1.0h-4.7zM253.1 272.0h4.7v0.7h-4.7zM257.8 272.0h4.7v0.7h-4.7zM262.5 272.0h4.7v0.7h-4.7zM319.0 272.0h4.7v0.7h-4.7zM323.7 272.0h4.7v0.7h-4.7zM253.1 272.7h4.7v0.8h-4.7zM257.8 272.7h4.7v0.8h-4.7zM262.5 272.7h4.7v0.8h-4.7zM304.9 272.7h4.7v0.8h-4.7zM314.3 272.7h4.7v0.8h-4.7zM319.0 272.7h4.7v0.8h-4.7zM323.7 272.7h4.7v0.8h-4.7zM253.1 273.5h4.7v0.9h-4.7zM262.5 273.5h4.7v0.9h-4.7zM253.1 274.4h4.7v0.9h-4.7zM257.8 274.4h4.7v0.9h-4.7zM262.5 274.4h4.7v0.9h-4.7zM253.1 275.3h4.7v0.7h-4.7zM262.5 275.3h4.7v0.7h-4.7zM253.1 276.0h4.7v0.7h-4.7zM257.8 276.0h4.7v0.7h-4.7zM262.5 276.0h4.7v0.7h-4.7zM253.1 276.7h4.7v0.3h-4.7zM257.8 276.7h4.7v0.3h-4.7zM262.5 276.7h4.7v0.3h-4.7zM300.1 279.7h4.7v0.8h-4.7zM304.9 279.7h4.7v0.8h-4.7zM309.6 279.7h4.7v0.8h-4.7zM300.1 280.5h4.7v1.0h-4.7zM304.9 280.5h4.7v1.0h-4.7zM309.6 280.5h4.7v1.0h-4.7zM309.6 281.5h4.7v0.8h-4.7zM300.1 282.3h4.7v0.7h-4.7zM304.9 282.3h4.7v0.7h-4.7zM300.1 283.0h4.7v1.0h-4.7zM304.9 283.0h4.7v1.0h-4.7zM309.6 283.0h4.7v1.0h-4.7zM300.1 284.0h4.7v0.8h-4.7zM309.6 284.0h4.7v0.8h-4.7zM300.1 284.8h4.7v0.7h-4.7zM304.9 284.8h4.7v0.7h-4.7zM309.6 284.8h4.7v0.7h-4.7zM304.9 285.5h4.7v0.7h-4.7zM300.1 286.2h4.7v0.7h-4.7zM304.9 286.2h4.7v0.7h-4.7zM309.6 286.2h4.7v0.7h-4.7zM300.1 286.9h4.7v0.8h-4.7zM304.9 286.9h4.7v0.8h-4.7zM309.6 286.9h4.7v0.8h-4.7zM300.1 287.7h4.7v0.8h-4.7zM304.9 287.7h4.7v0.8h-4.7zM300.1 288.5h4.7v0.7h-4.7zM309.6 288.5h4.7v0.7h-4.7zM304.9 289.2h4.7v0.7h-4.7zM300.1 289.9h4.7v0.4h-4.7zM304.9 289.9h4.7v0.4h-4.7zM309.6 289.9h4.7v0.4h-4.7zM304.9 294.4h4.7v0.9h-4.7zM309.6 294.4h4.7v0.9h-4.7zM314.3 294.4h4.7v0.9h-4.7zM319.0 294.4h4.7v0.9h-4.7zM281.3 295.3h4.7v1.0h-4.7zM309.6 295.3h4.7v1.0h-4.7zM314.3 295.3h4.7v1.0h-4.7zM319.0 295.3h4.7v1.0h-4.7zM281.3 296.3h4.7v0.9h-4.7zM286.0 296.3h4.7v0.9h-4.7zM309.6 296.3h4.7v0.9h-4.7zM314.3 296.3h4.7v0.9h-4.7zM319.0 296.3h4.7v0.9h-4.7zM281.3 297.2h4.7v1.0h-4.7zM286.0 297.2h4.7v1.0h-4.7zM304.9 297.2h4.7v1.0h-4.7zM314.3 297.2h4.7v1.0h-4.7zM319.0 297.2h4.7v1.0h-4.7zM304.9 298.2h4.7v0.7h-4.7zM309.6 298.2h4.7v0.7h-4.7zM314.3 298.2h4.7v0.7h-4.7zM319.0 298.2h4.7v0.7h-4.7zM309.6 298.9h4.7v0.8h-4.7zM314.3 298.9h4.7v0.8h-4.7zM319.0 298.9h4.7v0.8h-4.7zM304.9 299.7h4.7v0.9h-4.7zM309.6 299.7h4.7v0.9h-4.7zM314.3 299.7h4.7v0.9h-4.7zM319.0 299.7h4.7v0.9h-4.7zM304.9 300.6h4.7v0.8h-4.7zM309.6 300.6h4.7v0.8h-4.7zM314.3 300.6h4.7v0.8h-4.7zM319.0 300.6h4.7v0.8h-4.7zM304.9 301.4h4.7v0.7h-4.7zM309.6 301.4h4.7v0.7h-4.7zM314.3 301.4h4.7v0.7h-4.7zM319.0 301.4h4.7v0.7h-4.7zM309.6 302.1h4.7v0.8h-4.7zM319.0 302.1h4.7v0.8h-4.7zM309.6 302.9h4.7v0.8h-4.7zM319.0 302.9h4.7v0.8h-4.7zM304.9 303.7h4.7v0.8h-4.7zM314.3 303.7h4.7v0.8h-4.7zM319.0 304.5h4.7v0.8h-4.7zM309.6 305.3h4.7v0.8h-4.7zM314.3 305.3h4.7v0.8h-4.7zM304.9 306.1h4.7v0.8h-4.7zM309.6 306.1h4.7v0.8h-4.7zM314.3 306.1h4.7v0.8h-4.7zM304.9 306.9h4.7v0.6h-4.7zM309.6 306.9h4.7v0.6h-4.7zM319.0 306.9h4.7v0.6h-4.7zM304.9 314.8h4.7v0.8h-4.7zM309.6 314.8h4.7v0.8h-4.7zM314.3 314.8h4.7v0.8h-4.7zM323.7 314.8h4.7v0.8h-4.7zM309.6 315.6h4.7v0.8h-4.7zM314.3 315.6h4.7v0.8h-4.7zM319.0 315.6h4.7v0.8h-4.7zM323.7 315.6h4.7v0.8h-4.7zM304.9 316.4h4.7v0.8h-4.7zM314.3 316.4h4.7v0.8h-4.7zM319.0 316.4h4.7v0.8h-4.7zM323.7 316.4h4.7v0.8h-4.7zM309.6 317.2h4.7v1.0h-4.7zM314.3 317.2h4.7v1.0h-4.7zM319.0 317.2h4.7v1.0h-4.7zM323.7 317.2h4.7v1.0h-4.7zM304.9 318.2h4.7v0.7h-4.7zM314.3 318.2h4.7v0.7h-4.7zM319.0 318.2h4.7v0.7h-4.7zM304.9 318.9h4.7v0.7h-4.7zM309.6 318.9h4.7v0.7h-4.7zM319.0 318.9h4.7v0.7h-4.7zM323.7 318.9h4.7v0.7h-4.7zM304.9 319.6h4.7v0.9h-4.7zM309.6 319.6h4.7v0.9h-4.7zM314.3 319.6h4.7v0.9h-4.7zM323.7 319.6h4.7v0.9h-4.7zM309.6 320.5h4.7v0.8h-4.7zM314.3 320.5h4.7v0.8h-4.7zM304.9 321.3h4.7v0.7h-4.7zM309.6 321.3h4.7v0.7h-4.7zM314.3 321.3h4.7v0.7h-4.7zM319.0 321.3h4.7v0.7h-4.7zM323.7 321.3h4.7v0.7h-4.7zM304.9 322.0h4.7v0.7h-4.7zM314.3 322.0h4.7v0.7h-4.7zM319.0 322.0h4.7v0.7h-4.7zM323.7 322.0h4.7v0.7h-4.7zM309.6 322.7h4.7v0.8h-4.7zM314.3 322.7h4.7v0.8h-4.7zM319.0 322.7h4.7v0.8h-4.7zM323.7 322.7h4.7v0.8h-4.7zM304.9 326.4h4.7v0.9h-4.7zM304.9 328.1h4.7v0.7h-4.7zM304.9 328.8h4.7v1.0h-4.7zM304.9 329.8h4.7v0.8h-4.7zM304.9 331.6h4.7v0.9h-4.7zM304.9 332.5h4.7v0.9h-4.7zM304.9 333.4h4.7v0.8h-4.7zM304.9 334.2h4.7v0.9h-4.7zM304.9 335.1h4.7v0.7h-4.7zM304.9 335.8h4.7v0.8h-4.7zM304.9 336.6h4.7v0.7h-4.7zM304.9 337.3h4.7v1.0h-4.7zM304.9 338.3h4.7v1.0h-4.7zM304.9 339.3h4.7v0.9h-4.7zM304.9 340.2h4.7v1.0h-4.7zM304.9 346.3h4.7v0.8h-4.7zM304.9 349.4h4.7v1.0h-4.7zM304.9 350.4h4.7v0.8h-4.7zM304.9 351.2h4.7v0.9h-4.7zM304.9 352.1h4.7v1.0h-4.7zM304.9 354.1h4.7v1.0h-4.7zM304.9 356.1h4.7v0.9h-4.7zM304.9 357.0h4.7v0.8h-4.7zM304.9 357.8h4.7v1.0h-4.7zM304.9 358.8h4.7v0.8h-4.7zM304.9 365.2h4.7v0.8h-4.7zM304.9 367.8h4.7v0.8h-4.7zM304.9 368.6h4.7v0.7h-4.7zM304.9 369.3h4.7v1.0h-4.7zM304.9 371.2h4.7v0.7h-4.7zM304.9 371.9h4.7v1.0h-4.7zM304.9 373.6h4.7v0.9h-4.7zM304.9 374.5h4.7v0.7h-4.7zM304.9 375.2h4.7v0.7h-4.7zM304.9 375.9h4.7v0.8h-4.7z"/>
<path fill="#1e3c7c" d="M319.0 207.0h4.7v0.8h-4.7zM323.7 214.5h4.7v0.9h-4.7zM304.9 265.4h4.7v1.0h-4.7zM319.0 266.4h4.7v0.7h-4.7zM309.6 267.1h4.7v0.7h-4.7zM319.0 269.5h4.7v0.7h-4.7zM309.6 271.0h4.7v1.0h-4.7zM314.3 271.0h4.7v1.0h-4.7zM309.6 272.0h4.7v0.7h-4.7zM300.1 281.5h4.7v0.8h-4.7zM309.6 282.3h4.7v0.7h-4.7zM304.9 295.3h4.7v1.0h-4.7zM309.6 297.2h4.7v1.0h-4.7zM309.6 303.7h4.7v0.8h-4.7zM309.6 304.5h4.7v0.8h-4.7zM314.3 304.5h4.7v0.8h-4.7zM304.9 305.3h4.7v0.8h-4.7zM319.0 306.1h4.7v0.8h-4.7zM319.0 320.5h4.7v0.8h-4.7zM304.9 327.3h4.7v0.8h-4.7zM304.9 366.8h4.7v1.0h-4.7zM304.9 370.3h4.7v0.9h-4.7z"/>
<path fill="#c39aa4" d="M51.0 154.4h5.2v0.6h-5.2zM67.5 156.2h4.8v0.6h-4.8zM78.0 156.2h4.7v0.6h-4.7zM88.9 156.2h4.8v0.6h-4.8zM110.1 156.2h4.7v0.6h-4.7zM115.8 156.2h4.8v0.6h-4.8zM19.2 157.2h4.2v0.6h-4.2zM61.9 157.2h4.8v0.6h-4.8zM40.5 158.0h4.3v0.6h-4.3zM8.4 158.8h4.9v0.6h-4.9zM45.7 158.8h5.0v0.6h-5.0zM94.0 158.8h4.3v0.6h-4.3zM45.7 159.6h4.8v0.6h-4.8zM89.1 160.5h4.3v0.6h-4.3zM115.9 160.5h5.2v0.6h-5.2zM35.0 161.3h5.2v0.6h-5.2zM105.0 161.3h4.8v0.6h-4.8zM78.2 162.1h4.0v0.6h-4.0zM46.0 163.0h4.2v0.6h-4.2zM126.7 163.0h5.0v0.6h-5.0zM180.3 163.9h4.3v0.6h-4.3zM120.8 164.8h4.9v0.6h-4.9zM35.1 165.6h4.5v0.6h-4.5zM56.8 166.5h4.9v0.6h-4.9zM99.6 166.5h4.1v0.6h-4.1zM104.8 167.3h4.7v0.6h-4.7zM121.2 167.3h4.4v0.6h-4.4zM46.0 168.1h5.1v0.6h-5.1zM56.7 168.1h5.0v0.6h-5.0zM105.0 168.9h4.9v0.6h-4.9zM67.3 169.8h5.3v0.6h-5.3zM115.7 169.8h5.4v0.6h-5.4zM56.6 170.6h5.0v0.6h-5.0zM120.9 170.6h4.3v0.6h-4.3zM121.2 171.5h4.5v0.6h-4.5zM72.7 173.5h5.0v0.8h-5.0zM104.9 173.5h4.9v0.6h-4.9zM46.1 175.4h4.5v0.6h-4.5zM51.6 175.4h4.9v0.6h-4.9zM185.4 175.4h4.0v0.6h-4.0zM29.7 176.3h5.1v0.6h-5.1zM115.8 176.3h4.2v0.6h-4.2zM56.6 178.1h4.8v0.6h-4.8zM45.8 179.0h4.8v0.6h-4.8zM126.6 179.0h4.2v0.6h-4.2zM56.8 180.9h4.2v0.6h-4.2zM62.0 180.9h5.1v0.6h-5.1zM99.8 183.5h4.7v0.6h-4.7zM13.8 187.8h4.3v0.6h-4.3zM51.2 189.7h4.7v0.6h-4.7zM61.9 189.7h5.0v0.6h-5.0zM94.0 190.5h4.5v0.6h-4.5zM29.8 191.4h4.1v0.6h-4.1zM35.4 191.4h5.0v0.6h-5.0zM99.6 191.4h4.3v0.6h-4.3zM131.6 191.4h4.8v0.8h-4.8zM99.7 192.3h4.6v0.6h-4.6zM126.5 192.3h4.1v0.6h-4.1zM46.0 193.2h4.2v0.6h-4.2zM105.1 193.2h4.6v0.6h-4.6zM24.1 195.0h5.2v0.6h-5.2zM29.8 195.0h4.8v0.6h-4.8zM56.4 195.0h4.4v0.6h-4.4zM24.7 196.0h5.2v0.6h-5.2zM126.2 196.0h4.9v0.6h-4.9zM56.4 197.8h5.0v0.6h-5.0zM115.7 200.7h4.1v0.6h-4.1zM110.4 201.6h4.3v0.6h-4.3zM24.2 202.6h5.0v0.6h-5.0zM24.5 203.6h4.9v0.6h-4.9zM45.8 203.6h4.6v0.6h-4.6zM83.5 205.5h4.1v0.8h-4.1zM51.2 206.5h4.4v0.6h-4.4zM56.8 206.5h4.7v0.6h-4.7zM88.6 206.5h5.3v0.6h-5.3zM24.5 207.4h5.2v0.6h-5.2zM56.5 207.4h4.9v0.6h-4.9zM62.2 207.4h4.0v0.6h-4.0zM67.1 208.2h4.7v0.6h-4.7zM19.3 209.0h5.0v0.6h-5.0zM40.6 209.0h4.6v0.6h-4.6zM19.3 211.5h4.4v0.6h-4.4zM67.1 213.3h4.6v0.6h-4.6zM78.2 213.3h4.4v0.6h-4.4zM89.0 214.2h4.8v0.6h-4.8zM126.2 214.2h4.7v0.6h-4.7zM24.3 215.2h4.9v0.6h-4.9zM45.9 215.2h4.9v0.6h-4.9zM191.1 215.2h4.1v0.6h-4.1zM13.8 216.1h4.5v0.6h-4.5zM46.1 217.1h5.1v0.6h-5.1zM40.3 218.8h4.3v0.6h-4.3zM61.9 218.8h4.7v0.6h-4.7zM67.4 218.8h4.1v0.6h-4.1zM110.1 218.8h4.4v0.6h-4.4zM105.0 219.8h4.7v0.6h-4.7zM45.7 221.5h5.2v0.6h-5.2zM99.4 221.5h5.3v0.6h-5.3zM126.4 221.5h4.3v0.6h-4.3zM56.9 222.5h5.4v0.6h-5.4zM40.7 223.4h4.8v0.6h-4.8zM99.4 224.3h4.0v0.6h-4.0zM29.8 225.1h4.4v0.6h-4.4zM147.8 226.1h5.1v0.8h-5.1zM88.6 227.0h4.0v0.6h-4.0zM99.5 227.0h4.2v0.6h-4.2zM110.6 227.0h4.7v0.6h-4.7zM24.3 228.7h4.6v0.6h-4.6zM30.0 228.7h4.8v0.6h-4.8zM62.2 228.7h4.9v0.6h-4.9zM169.1 228.7h4.7v0.6h-4.7zM56.8 229.6h4.9v0.6h-4.9zM126.2 229.6h4.3v0.6h-4.3zM94.5 231.6h4.4v0.6h-4.4zM62.3 232.4h4.9v0.6h-4.9zM67.5 232.4h4.3v0.6h-4.3zM24.3 233.4h4.4v0.6h-4.4zM62.3 233.4h5.3v0.6h-5.3zM110.5 233.4h4.3v0.6h-4.3zM51.3 234.4h4.7v0.6h-4.7zM121.0 235.4h4.0v0.6h-4.0zM121.0 237.2h4.5v0.6h-4.5zM126.6 237.2h5.3v0.6h-5.3zM110.1 238.1h4.6v0.6h-4.6zM18.9 238.9h4.2v0.6h-4.2zM51.3 238.9h4.8v0.6h-4.8zM105.1 238.9h5.4v0.6h-5.4zM13.5 239.9h4.3v0.6h-4.3zM126.5 239.9h4.2v0.6h-4.2zM13.8 240.7h4.5v0.6h-4.5zM45.9 240.7h4.3v0.6h-4.3zM56.7 240.7h4.2v0.6h-4.2zM105.2 241.7h4.6v0.6h-4.6zM126.7 242.6h4.4v0.6h-4.4zM67.2 243.4h4.3v0.6h-4.3zM163.9 243.4h5.2v0.6h-5.2zM51.3 244.4h4.2v0.6h-4.2zM67.3 246.4h5.2v0.6h-5.2zM88.9 247.3h4.5v0.6h-4.5zM40.5 248.2h5.2v0.6h-5.2zM61.9 248.2h4.1v0.6h-4.1zM99.6 248.2h4.8v0.6h-4.8zM24.6 250.0h4.9v0.6h-4.9zM45.7 250.0h5.0v0.6h-5.0zM67.3 250.0h4.4v0.6h-4.4zM94.5 250.0h5.3v0.6h-5.3zM51.3 251.0h5.0v0.6h-5.0zM56.5 251.0h4.1v0.6h-4.1zM56.8 252.0h4.1v0.6h-4.1zM40.3 253.0h5.1v0.6h-5.1zM51.4 253.0h4.1v0.6h-4.1zM19.1 254.9h4.6v0.6h-4.6zM62.1 254.9h4.5v0.6h-4.5zM121.0 255.7h5.0v0.6h-5.0zM46.1 256.5h4.3v0.6h-4.3zM115.4 256.5h4.4v0.6h-4.4zM94.3 257.3h5.3v0.6h-5.3zM72.4 258.1h5.0v0.8h-5.0zM94.1 258.1h5.1v0.6h-5.1zM40.6 259.9h4.3v0.6h-4.3zM45.8 259.9h4.5v0.6h-4.5zM99.5 259.9h4.6v0.6h-4.6zM121.1 259.9h4.1v0.6h-4.1zM185.3 260.8h5.2v0.6h-5.2zM99.7 265.0h4.3v0.6h-4.3zM126.5 266.0h4.7v0.6h-4.7zM61.9 267.8h4.3v0.6h-4.3zM77.9 268.6h4.5v0.6h-4.5zM99.5 268.6h4.9v0.6h-4.9zM45.8 270.2h5.0v0.6h-5.0zM51.5 270.2h4.4v0.6h-4.4zM24.7 272.0h4.1v0.6h-4.1zM35.2 272.0h4.6v0.6h-4.6zM126.7 272.0h4.6v0.6h-4.6zM35.3 272.9h4.1v0.6h-4.1zM62.1 272.9h4.2v0.6h-4.2zM163.9 272.9h5.0v0.6h-5.0zM13.7 275.6h4.7v0.6h-4.7zM56.7 275.6h4.6v0.6h-4.6zM94.3 275.6h4.5v0.6h-4.5zM110.5 275.6h4.5v0.6h-4.5zM94.5 276.5h5.2v0.6h-5.2zM110.2 276.5h4.4v0.6h-4.4zM94.1 281.0h5.1v0.6h-5.1zM105.2 281.0h5.0v0.6h-5.0zM126.2 282.8h4.5v0.6h-4.5zM83.4 283.7h4.0v0.8h-4.0zM13.8 285.7h4.2v0.6h-4.2zM51.2 285.7h4.4v0.6h-4.4zM110.1 285.7h5.1v0.6h-5.1zM8.5 286.7h4.8v0.6h-4.8zM89.1 286.7h4.2v0.6h-4.2zM137.2 286.7h4.2v0.8h-4.2zM94.1 287.5h4.9v0.6h-4.9zM78.1 288.3h4.6v0.6h-4.6zM94.1 288.3h4.1v0.6h-4.1zM56.8 289.1h5.2v0.6h-5.2zM99.4 289.1h4.5v0.6h-4.5zM56.6 294.0h4.8v0.6h-4.8zM67.1 294.0h4.5v0.6h-4.5zM40.2 294.8h4.2v0.6h-4.2zM78.4 294.8h4.4v0.6h-4.4zM51.3 295.8h4.1v0.6h-4.1zM110.3 295.8h4.8v0.6h-4.8zM126.7 295.8h4.3v0.6h-4.3zM137.2 295.8h5.1v0.8h-5.1zM51.0 297.7h4.6v0.6h-4.6zM8.5 298.5h4.6v0.6h-4.6zM51.4 298.5h4.1v0.6h-4.1zM126.5 298.5h5.0v0.6h-5.0zM56.7 299.3h4.8v0.6h-4.8zM35.4 300.1h4.1v0.6h-4.1zM40.6 301.1h4.1v0.6h-4.1zM89.0 301.1h4.8v0.6h-4.8zM126.7 301.1h4.9v0.6h-4.9zM29.9 301.9h4.3v0.6h-4.3zM67.6 302.9h5.1v0.6h-5.1zM83.3 302.9h4.3v0.8h-4.3zM62.2 303.9h5.4v0.6h-5.4zM34.9 304.9h4.7v0.6h-4.7zM56.5 304.9h4.9v0.6h-4.9zM126.7 305.9h4.6v0.6h-4.6zM104.7 311.0h4.7v0.6h-4.7zM51.3 312.0h4.6v0.6h-4.6zM56.5 312.0h5.1v0.6h-5.1zM110.5 312.0h5.2v0.6h-5.2zM56.6 312.9h4.3v0.6h-4.3zM83.3 312.9h5.1v0.8h-5.1zM56.9 313.9h4.6v0.6h-4.6zM24.6 314.7h4.4v0.6h-4.4zM29.9 315.7h4.2v0.6h-4.2zM104.9 315.7h4.1v0.6h-4.1zM67.6 317.5h5.2v0.6h-5.2zM120.9 317.5h4.7v0.6h-4.7zM115.4 318.3h4.7v0.6h-4.7zM51.3 319.1h4.5v0.6h-4.5zM99.4 319.1h4.4v0.6h-4.4zM115.6 319.1h4.4v0.6h-4.4zM110.3 319.9h5.0v0.6h-5.0zM180.3 320.8h5.0v0.6h-5.0zM13.7 321.7h4.1v0.6h-4.1zM35.3 326.7h4.3v0.6h-4.3zM56.5 327.6h4.7v0.6h-4.7zM35.1 328.6h4.6v0.6h-4.6zM56.8 328.6h4.7v0.6h-4.7zM8.6 329.5h5.0v0.6h-5.0zM40.5 329.5h5.3v0.6h-5.3zM99.7 329.5h5.1v0.6h-5.1zM45.7 331.4h4.2v0.6h-4.2zM78.4 333.2h4.5v0.6h-4.5zM45.8 334.0h5.3v0.6h-5.3zM126.2 334.0h4.6v0.6h-4.6zM180.0 334.0h4.6v0.6h-4.6zM51.4 335.7h4.4v0.6h-4.4zM115.6 335.7h4.2v0.6h-4.2zM83.5 336.7h4.5v0.8h-4.5zM89.1 337.6h4.2v0.6h-4.2zM51.2 338.5h4.4v0.6h-4.4zM67.4 338.5h4.9v0.6h-4.9zM142.8 338.5h5.2v0.8h-5.2zM67.3 339.3h4.8v0.6h-4.8zM56.9 341.1h4.9v0.6h-4.9zM45.7 341.9h4.7v0.6h-4.7zM94.1 341.9h5.1v0.6h-5.1zM94.2 342.7h4.8v0.6h-4.8zM18.9 347.5h5.2v0.6h-5.2zM40.5 347.5h4.7v0.6h-4.7zM56.6 347.5h5.0v0.6h-5.0zM99.9 347.5h4.6v0.6h-4.6zM94.1 350.1h4.7v0.6h-4.7zM8.1 351.0h4.1v0.6h-4.1zM83.3 351.0h4.3v0.8h-4.3zM51.0 352.0h4.7v0.6h-4.7zM99.7 353.0h4.5v0.6h-4.5zM40.4 354.9h4.6v0.6h-4.6zM56.4 355.8h4.4v0.6h-4.4zM29.7 356.6h4.2v0.6h-4.2zM51.3 357.5h4.9v0.6h-4.9zM62.0 357.5h4.1v0.6h-4.1zM99.9 358.5h4.4v0.6h-4.4zM67.3 360.1h4.3v0.6h-4.3zM105.0 360.1h5.4v0.6h-5.4zM115.8 360.1h4.3v0.6h-4.3zM94.5 361.1h4.4v0.6h-4.4zM51.2 362.0h5.0v0.6h-5.0zM99.5 362.0h4.2v0.6h-4.2zM126.1 362.8h5.0v0.6h-5.0zM115.4 363.7h5.2v0.6h-5.2zM14.0 364.6h4.9v0.6h-4.9zM62.2 364.6h5.0v0.6h-5.0zM147.9 365.6h4.9v0.8h-4.9zM137.2 366.5h4.2v0.8h-4.2zM169.1 366.5h4.7v0.6h-4.7zM29.7 367.3h4.1v0.6h-4.1zM40.7 367.3h5.0v0.6h-5.0zM30.0 368.1h5.0v0.6h-5.0zM94.4 368.1h4.5v0.6h-4.5zM179.9 369.1h5.2v0.6h-5.2zM45.7 370.1h4.7v0.6h-4.7zM62.0 370.1h5.4v0.6h-5.4zM115.6 370.1h5.3v0.6h-5.3zM153.2 370.1h5.1v0.8h-5.1zM158.7 370.1h5.1v0.8h-5.1zM45.9 370.9h5.4v0.6h-5.4zM88.6 371.9h5.2v0.6h-5.2zM153.1 371.9h4.1v0.8h-4.1zM158.4 372.8h4.4v0.8h-4.4zM115.9 373.6h4.3v0.6h-4.3zM126.4 374.4h4.2v0.6h-4.2zM115.5 375.2h4.2v0.6h-4.2zM83.7 376.2h4.5v0.8h-4.5zM110.1 377.2h4.1v0.6h-4.1zM126.3 377.2h4.5v0.6h-4.5zM56.4 378.2h4.3v0.6h-4.3zM40.5 379.1h4.9v0.6h-4.9zM51.1 379.1h4.6v0.6h-4.6zM77.8 381.1h5.0v0.6h-5.0zM89.1 381.1h4.1v0.6h-4.1zM116.0 381.1h5.0v0.6h-5.0zM62.2 381.9h4.1v0.6h-4.1zM45.6 382.7h5.2v0.6h-5.2zM56.6 382.7h5.1v0.6h-5.1zM94.4 382.7h4.9v0.6h-4.9zM13.4 383.5h5.1v0.6h-5.1zM51.1 383.5h5.0v0.6h-5.0zM89.1 383.5h4.2v0.6h-4.2zM94.3 387.9h5.4v0.6h-5.4zM147.9 387.9h4.3v0.8h-4.3zM35.2 388.8h4.8v0.6h-4.8zM29.8 390.6h4.4v0.6h-4.4zM94.5 390.6h4.1v0.6h-4.1zM24.6 392.4h5.1v0.6h-5.1zM164.0 392.4h5.3v0.6h-5.3zM115.6 393.2h4.1v0.6h-4.1zM126.6 393.2h4.8v0.6h-4.8zM19.1 394.0h4.8v0.6h-4.8zM137.3 394.9h4.2v0.8h-4.2zM62.2 396.7h5.2v0.6h-5.2zM158.8 396.7h4.5v0.8h-4.5z"/>
<path fill="#c3394c" d="M72.5 154.4h5.2v0.8h-5.2zM137.2 157.2h4.6v0.8h-4.6zM147.9 157.2h4.6v0.8h-4.6zM158.7 157.2h4.6v0.8h-4.6zM137.2 159.6h4.6v0.8h-4.6zM147.9 159.6h4.6v0.8h-4.6zM72.6 161.3h5.0v0.8h-5.0zM147.9 161.3h4.6v0.8h-4.6zM72.8 163.0h5.0v0.8h-5.0zM83.6 163.0h4.7v0.8h-4.7zM83.6 163.9h4.7v0.8h-4.7zM115.5 164.8h4.2v0.6h-4.2zM137.2 167.3h4.6v0.8h-4.6zM142.6 168.1h4.6v0.8h-4.6zM137.2 168.9h4.6v0.8h-4.6zM147.9 169.8h4.6v0.8h-4.6zM137.2 171.5h4.6v0.8h-4.6zM137.2 175.4h4.6v0.8h-4.6zM142.6 178.1h4.6v0.8h-4.6zM131.5 179.0h5.3v0.8h-5.3zM158.7 179.9h4.6v0.8h-4.6zM142.6 180.9h4.6v0.8h-4.6zM137.2 182.6h4.6v0.8h-4.6zM153.4 182.6h4.3v0.8h-4.3zM24.3 183.5h4.1v0.6h-4.1zM72.5 183.5h5.2v0.8h-5.2zM142.6 188.8h4.6v0.8h-4.6zM158.7 191.4h4.6v0.8h-4.6zM72.9 192.3h5.3v0.8h-5.3zM83.3 192.3h5.0v0.8h-5.0zM83.3 193.2h5.0v0.8h-5.0zM142.6 194.1h4.6v0.8h-4.6zM158.7 194.1h4.6v0.8h-4.6zM158.7 196.0h4.6v0.8h-4.6zM142.6 198.8h4.6v0.8h-4.6zM137.2 202.6h4.6v0.8h-4.6zM153.3 202.6h4.6v0.8h-4.6zM158.7 203.6h4.6v0.8h-4.6zM83.3 206.5h4.1v0.8h-4.1zM72.6 209.8h4.2v0.8h-4.2zM121.2 209.8h5.2v0.6h-5.2zM72.6 210.6h5.1v0.8h-5.1zM158.7 210.6h4.6v0.8h-4.6zM137.2 211.5h4.6v0.8h-4.6zM158.7 211.5h4.6v0.8h-4.6zM153.3 214.2h4.6v0.8h-4.6zM153.3 215.2h4.6v0.8h-4.6zM137.2 220.7h4.6v0.8h-4.6zM137.2 222.5h4.6v0.8h-4.6zM158.7 222.5h4.6v0.8h-4.6zM153.3 225.1h4.6v0.8h-4.6zM158.7 227.0h4.6v0.8h-4.6zM137.2 227.8h4.6v0.8h-4.6zM137.2 229.6h4.6v0.8h-4.6zM115.9 233.4h4.1v0.6h-4.1zM142.6 234.4h4.6v0.8h-4.6zM153.3 234.4h4.6v0.8h-4.6zM137.2 239.9h4.6v0.8h-4.6zM110.4 240.7h4.1v0.6h-4.1zM142.6 240.7h4.6v0.8h-4.6zM148.1 241.7h4.3v0.8h-4.3zM72.7 242.6h5.1v0.8h-5.1zM137.2 242.6h4.6v0.8h-4.6zM142.6 243.4h4.6v0.8h-4.6zM72.6 244.4h4.2v0.8h-4.2zM61.8 245.4h4.9v0.6h-4.9zM153.3 248.2h4.6v0.8h-4.6zM153.3 250.0h4.6v0.8h-4.6zM83.6 253.0h5.1v0.8h-5.1zM153.3 253.0h4.6v0.8h-4.6zM153.3 254.9h4.6v0.8h-4.6zM153.3 257.3h4.6v0.8h-4.6zM142.8 266.0h5.0v0.8h-5.0zM158.5 267.8h5.1v0.8h-5.1zM153.1 271.1h5.3v0.8h-5.3zM153.5 272.0h4.8v0.8h-4.8zM83.4 273.7h5.1v0.8h-5.1zM137.0 273.7h4.9v0.8h-4.9zM83.3 282.8h4.4v0.8h-4.4zM142.7 282.8h4.3v0.8h-4.3zM158.6 288.3h4.1v0.8h-4.1zM147.9 294.8h4.4v0.8h-4.4zM72.6 295.8h5.4v0.8h-5.4zM137.2 296.7h4.2v0.8h-4.2zM158.6 298.5h4.7v0.8h-4.7zM73.0 299.3h4.0v0.8h-4.0zM137.1 300.1h4.6v0.8h-4.6zM148.1 303.9h4.8v0.8h-4.8zM83.4 304.9h4.8v0.8h-4.8zM153.5 311.0h4.9v0.8h-4.9zM158.8 312.0h4.0v0.8h-4.0zM158.5 312.9h5.3v0.8h-5.3zM99.7 317.5h4.7v0.6h-4.7zM142.6 317.5h5.2v0.8h-5.2zM72.7 319.9h5.2v0.8h-5.2zM148.1 327.6h4.1v0.8h-4.1zM83.6 332.4h4.8v0.8h-4.8zM158.9 336.7h5.3v0.8h-5.3zM158.9 339.3h4.9v0.8h-4.9zM83.3 340.1h4.8v0.8h-4.8zM148.2 341.1h4.6v0.8h-4.6zM132.0 342.7h5.4v0.8h-5.4zM158.5 346.6h5.2v0.8h-5.2zM99.8 351.0h4.6v0.6h-4.6zM158.6 351.0h5.1v0.8h-5.1zM158.4 352.0h4.3v0.8h-4.3zM153.6 354.9h4.3v0.8h-4.3zM132.1 357.5h4.5v0.8h-4.5zM83.5 358.5h4.7v0.8h-4.7zM83.6 359.3h4.4v0.8h-4.4zM72.7 360.1h4.2v0.8h-4.2zM158.8 360.1h4.5v0.8h-4.5zM137.4 361.1h5.0v0.8h-5.0zM83.2 362.0h5.1v0.8h-5.1zM13.9 363.7h4.9v0.6h-4.9zM83.6 364.6h4.1v0.8h-4.1zM83.2 365.6h5.3v0.8h-5.3zM131.7 366.5h4.1v0.8h-4.1zM137.4 369.1h4.4v0.8h-4.4zM8.5 371.9h4.5v0.6h-4.5zM153.3 378.2h5.3v0.8h-5.3zM131.7 380.1h4.3v0.8h-4.3zM137.0 381.1h5.1v0.8h-5.1zM72.6 382.7h5.0v0.8h-5.0zM142.3 389.7h4.5v0.8h-4.5zM19.0 390.6h5.1v0.6h-5.1zM153.3 391.6h5.3v0.8h-5.3zM126.5 394.0h4.7v0.6h-4.7z"/>
<path fill="#e8b9bd" d="M137.2 154.4h4.6v0.8h-4.6zM158.7 154.4h4.6v0.8h-4.6zM158.7 155.2h4.6v0.8h-4.6zM142.6 157.2h4.6v0.8h-4.6zM131.7 158.8h5.3v0.8h-5.3zM137.2 158.8h4.6v0.8h-4.6zM142.6 158.8h4.6v0.8h-4.6zM158.7 160.5h4.6v0.8h-4.6zM137.2 163.9h4.6v0.8h-4.6zM137.2 164.8h4.6v0.8h-4.6zM142.6 165.6h4.6v0.8h-4.6zM147.9 166.5h4.6v0.8h-4.6zM158.7 166.5h4.6v0.8h-4.6zM147.9 167.3h4.6v0.8h-4.6zM153.4 167.3h4.4v0.8h-4.4zM147.9 168.9h4.6v0.8h-4.6zM142.6 169.8h4.6v0.8h-4.6zM147.9 170.6h4.6v0.8h-4.6zM158.7 171.5h4.6v0.8h-4.6zM137.2 172.5h4.6v0.8h-4.6zM158.7 172.5h4.6v0.8h-4.6zM83.5 174.5h4.2v0.8h-4.2zM142.6 174.5h4.6v0.8h-4.6zM147.9 177.1h4.6v0.8h-4.6zM137.2 178.1h4.6v0.8h-4.6zM72.5 179.0h4.4v0.8h-4.4zM142.6 179.0h4.6v0.8h-4.6zM147.9 179.0h4.6v0.8h-4.6zM147.9 180.9h4.6v0.8h-4.6zM158.7 181.7h4.6v0.8h-4.6zM158.7 182.6h4.6v0.8h-4.6zM147.9 183.5h4.6v0.3h-4.6zM158.7 188.8h4.6v0.8h-4.6zM83.4 190.5h4.7v0.8h-4.7zM142.6 190.5h4.6v0.8h-4.6zM153.3 191.4h4.6v0.8h-4.6zM142.6 192.3h4.6v0.8h-4.6zM153.3 192.3h4.6v0.8h-4.6zM131.8 196.0h4.1v0.8h-4.1zM153.3 197.0h4.6v0.8h-4.6zM158.7 197.0h4.6v0.8h-4.6zM142.6 197.8h4.6v0.8h-4.6zM153.3 198.8h4.6v0.8h-4.6zM153.3 199.7h4.6v0.8h-4.6zM153.3 200.7h4.6v0.8h-4.6zM142.6 201.6h4.6v0.8h-4.6zM153.3 201.6h4.6v0.8h-4.6zM148.1 203.6h5.2v0.8h-5.2zM153.3 203.6h4.6v0.8h-4.6zM132.0 204.5h5.3v0.8h-5.3zM73.0 208.2h4.2v0.8h-4.2zM142.6 208.2h4.6v0.8h-4.6zM153.3 208.2h4.6v0.8h-4.6zM158.7 209.8h4.6v0.8h-4.6zM153.3 211.5h4.6v0.8h-4.6zM142.6 213.3h4.6v0.8h-4.6zM137.2 215.2h4.6v0.8h-4.6zM72.9 216.1h4.1v0.8h-4.1zM142.6 216.1h4.6v0.8h-4.6zM137.2 217.1h4.6v0.8h-4.6zM142.6 219.8h4.6v0.8h-4.6zM158.7 220.7h4.6v0.8h-4.6zM142.6 221.5h4.6v0.8h-4.6zM153.3 221.5h4.6v0.8h-4.6zM158.7 221.5h4.6v0.8h-4.6zM137.2 223.4h4.6v0.8h-4.6zM137.2 224.3h4.6v0.8h-4.6zM153.3 224.3h4.6v0.8h-4.6zM153.3 226.1h4.6v0.8h-4.6zM142.6 227.0h4.6v0.8h-4.6zM137.2 228.7h4.6v0.8h-4.6zM153.3 228.7h4.6v0.8h-4.6zM158.7 228.7h4.6v0.8h-4.6zM153.3 229.6h4.6v0.8h-4.6zM153.3 231.6h4.6v0.8h-4.6zM158.7 232.4h4.6v0.8h-4.6zM137.2 233.4h4.6v0.8h-4.6zM158.7 233.4h4.6v0.8h-4.6zM147.8 234.4h4.7v0.8h-4.7zM158.7 234.4h4.6v0.8h-4.6zM142.6 235.4h4.6v0.8h-4.6zM153.3 235.4h4.6v0.8h-4.6zM73.0 236.3h4.3v0.8h-4.3zM148.0 236.3h5.3v0.8h-5.3zM153.3 237.2h4.6v0.8h-4.6zM158.7 238.1h4.6v0.8h-4.6zM137.2 238.9h4.6v0.8h-4.6zM158.7 238.9h4.6v0.8h-4.6zM142.6 242.6h4.6v0.8h-4.6zM158.7 244.4h4.6v0.8h-4.6zM142.6 245.4h4.6v0.8h-4.6zM142.6 246.4h4.6v0.8h-4.6zM158.7 247.3h4.6v0.8h-4.6zM142.6 250.0h4.6v0.8h-4.6zM147.9 251.0h4.2v0.8h-4.2zM158.7 252.0h4.6v0.8h-4.6zM83.5 253.9h4.8v0.8h-4.8zM147.7 253.9h4.5v0.8h-4.5zM158.7 253.9h4.6v0.8h-4.6zM158.7 254.9h4.6v0.8h-4.6zM137.2 256.5h4.6v0.8h-4.6zM142.6 258.1h4.6v0.8h-4.6zM158.7 258.1h4.6v0.8h-4.6zM142.6 259.9h4.6v0.8h-4.6zM158.7 259.9h4.6v0.8h-4.6zM147.8 265.0h4.5v0.8h-4.5zM142.5 267.0h4.4v0.8h-4.4zM83.5 271.1h4.9v0.8h-4.9zM72.9 280.0h5.1v0.8h-5.1zM83.2 284.7h5.2v0.8h-5.2zM83.6 287.5h4.6v0.8h-4.6zM137.1 287.5h4.7v0.8h-4.7zM72.8 298.5h5.3v0.8h-5.3zM83.6 299.3h4.5v0.8h-4.5zM137.1 299.3h4.5v0.8h-4.5zM142.8 301.1h4.9v0.8h-4.9zM148.2 301.1h5.3v0.8h-5.3zM137.2 316.5h4.1v0.8h-4.1zM153.3 318.3h4.7v0.8h-4.7zM148.2 319.9h5.3v0.8h-5.3zM158.6 319.9h4.1v0.8h-4.1zM158.7 322.7h4.8v0.8h-4.8zM83.5 327.6h5.2v0.8h-5.2zM142.6 327.6h4.2v0.8h-4.2zM83.3 329.5h4.6v0.8h-4.6zM73.0 330.5h4.4v0.8h-4.4zM153.3 330.5h4.1v0.8h-4.1zM158.4 330.5h4.1v0.8h-4.1zM158.6 331.4h4.9v0.8h-4.9zM148.0 337.6h5.1v0.8h-5.1zM83.6 352.0h4.9v0.8h-4.9zM142.6 353.0h5.3v0.8h-5.3zM72.5 359.3h4.7v0.8h-4.7zM158.6 359.3h4.1v0.8h-4.1zM131.9 364.6h4.0v0.8h-4.0zM137.0 368.1h5.1v0.8h-5.1zM72.5 369.1h5.2v0.8h-5.2zM137.3 370.9h5.2v0.8h-5.2zM83.4 374.4h4.2v0.8h-4.2zM83.6 375.2h4.1v0.8h-4.1zM158.8 380.1h4.9v0.8h-4.9zM137.3 382.7h4.0v0.8h-4.0zM132.1 387.9h5.2v0.8h-5.2zM137.2 388.8h4.1v0.8h-4.1zM158.5 392.4h4.9v0.8h-4.9zM83.4 395.9h4.5v0.8h-4.5zM142.8 396.7h4.2v0.8h-4.2z"/>
<path fill="#c45a6c" d="M72.5 155.2h4.1v0.8h-4.1zM126.5 155.2h4.5v0.6h-4.5zM147.9 155.2h4.6v0.8h-4.6zM83.5 156.2h4.7v0.8h-4.7zM72.8 158.0h4.1v0.8h-4.1zM131.7 158.0h4.7v0.8h-4.7zM158.7 158.0h4.6v0.8h-4.6zM99.7 159.6h4.2v0.6h-4.2zM67.1 161.3h4.8v0.6h-4.8zM35.0 163.0h5.3v0.6h-5.3zM18.8 164.8h4.3v0.6h-4.3zM153.1 164.8h5.0v0.8h-5.0zM126.6 165.6h4.3v0.6h-4.3zM137.2 165.6h4.6v0.8h-4.6zM72.9 167.3h5.1v0.8h-5.1zM132.0 167.3h4.2v0.8h-4.2zM158.7 167.3h4.6v0.8h-4.6zM142.6 168.9h4.6v0.8h-4.6zM94.5 170.6h4.0v0.6h-4.0zM83.5 173.5h4.1v0.8h-4.1zM137.2 174.5h4.6v0.8h-4.6zM147.9 174.5h4.6v0.8h-4.6zM147.9 176.3h4.6v0.8h-4.6zM24.5 179.0h4.6v0.6h-4.6zM62.1 179.9h4.9v0.6h-4.9zM72.6 179.9h4.9v0.8h-4.9zM46.0 180.9h4.7v0.6h-4.7zM78.4 181.7h5.4v0.6h-5.4zM88.6 182.6h5.1v0.6h-5.1zM8.6 183.5h4.8v0.6h-4.8zM137.2 183.5h4.6v0.3h-4.6zM83.6 187.8h4.5v0.8h-4.5zM131.9 187.8h4.3v0.8h-4.3zM153.3 187.8h4.6v0.8h-4.6zM30.0 190.5h4.7v0.6h-4.7zM142.6 191.4h4.6v0.8h-4.6zM137.2 192.3h4.6v0.8h-4.6zM137.2 193.2h4.6v0.8h-4.6zM137.2 194.1h4.6v0.8h-4.6zM19.0 195.0h4.6v0.6h-4.6zM67.2 195.0h5.0v0.6h-5.0zM83.7 195.0h4.9v0.8h-4.9zM148.1 195.0h4.2v0.8h-4.2zM67.5 196.0h4.5v0.6h-4.5zM132.0 197.0h4.8v0.8h-4.8zM67.5 200.7h4.4v0.6h-4.4zM137.2 200.7h4.6v0.8h-4.6zM147.8 200.7h4.6v0.8h-4.6zM29.9 201.6h5.1v0.6h-5.1zM83.5 202.6h4.6v0.8h-4.6zM72.7 205.5h4.6v0.8h-4.6zM72.8 206.5h4.9v0.8h-4.9zM110.2 206.5h4.9v0.6h-4.9zM142.6 206.5h4.6v0.8h-4.6zM137.2 208.2h4.6v0.8h-4.6zM158.7 208.2h4.6v0.8h-4.6zM51.4 209.0h4.4v0.6h-4.4zM13.6 210.6h5.1v0.6h-5.1zM83.4 212.4h4.9v0.8h-4.9zM153.3 212.4h4.6v0.8h-4.6zM158.7 212.4h4.6v0.8h-4.6zM137.2 214.2h4.6v0.8h-4.6zM35.0 215.2h4.1v0.6h-4.1zM72.4 215.2h5.3v0.8h-5.3zM158.7 215.2h4.6v0.8h-4.6zM158.7 217.1h4.6v0.8h-4.6zM158.7 218.0h4.6v0.8h-4.6zM56.6 218.8h4.3v0.6h-4.3zM142.6 218.8h4.6v0.8h-4.6zM24.3 219.8h5.3v0.6h-5.3zM8.1 220.7h4.5v0.6h-4.5zM83.7 220.7h4.8v0.8h-4.8zM99.4 220.7h4.7v0.6h-4.7zM121.1 220.7h5.0v0.6h-5.0zM115.8 221.5h5.3v0.6h-5.3zM121.1 222.5h4.5v0.6h-4.5zM142.6 222.5h4.6v0.8h-4.6zM105.2 224.3h5.2v0.6h-5.2zM115.6 224.3h4.5v0.6h-4.5zM137.2 225.1h4.6v0.8h-4.6zM88.6 226.1h4.4v0.6h-4.4zM131.6 226.1h5.3v0.8h-5.3zM158.7 226.1h4.6v0.8h-4.6zM35.2 227.0h4.8v0.6h-4.8zM158.7 227.8h4.6v0.8h-4.6zM73.0 228.7h4.4v0.8h-4.4zM137.2 231.6h4.6v0.8h-4.6zM72.9 233.4h4.2v0.8h-4.2zM142.6 233.4h4.6v0.8h-4.6zM56.5 234.4h4.0v0.6h-4.0zM72.5 234.4h5.1v0.8h-5.1zM51.2 236.3h4.8v0.6h-4.8zM94.2 237.2h4.2v0.6h-4.2zM153.3 238.1h4.6v0.8h-4.6zM142.6 238.9h4.6v0.8h-4.6zM147.9 240.7h4.1v0.8h-4.1zM51.0 241.7h4.2v0.6h-4.2zM153.3 241.7h4.6v0.8h-4.6zM158.7 243.4h4.6v0.8h-4.6zM126.3 244.4h4.3v0.6h-4.3zM153.3 245.4h4.6v0.8h-4.6zM62.1 247.3h4.7v0.6h-4.7zM94.2 252.0h4.2v0.6h-4.2zM45.7 253.0h4.8v0.6h-4.8zM142.6 253.0h4.6v0.8h-4.6zM158.7 253.0h4.6v0.8h-4.6zM142.6 253.9h4.6v0.8h-4.6zM158.7 255.7h4.6v0.8h-4.6zM158.7 256.5h4.6v0.8h-4.6zM18.9 257.3h5.4v0.6h-5.4zM153.3 258.1h4.6v0.8h-4.6zM142.6 258.9h4.6v0.8h-4.6zM13.8 259.9h4.2v0.6h-4.2zM137.2 260.8h4.6v0.8h-4.6zM153.3 260.8h4.6v0.8h-4.6zM94.4 267.0h4.6v0.6h-4.6zM153.3 268.6h4.2v0.8h-4.2zM83.3 270.2h4.8v0.8h-4.8zM40.6 271.1h5.0v0.6h-5.0zM94.0 271.1h5.2v0.6h-5.2zM83.3 272.0h4.4v0.8h-4.4zM99.5 272.0h4.6v0.6h-4.6zM126.6 272.9h4.0v0.6h-4.0zM137.0 272.9h5.3v0.8h-5.3zM148.2 273.7h5.2v0.8h-5.2zM105.2 274.7h4.8v0.6h-4.8zM137.4 274.7h5.2v0.8h-5.2zM29.5 275.6h5.0v0.6h-5.0zM153.3 275.6h5.2v0.8h-5.2zM13.7 276.5h4.6v0.6h-4.6zM67.7 276.5h4.7v0.6h-4.7zM40.7 280.0h4.0v0.6h-4.0zM142.5 280.0h4.1v0.8h-4.1zM83.6 281.0h4.5v0.8h-4.5zM158.9 282.8h4.5v0.8h-4.5zM153.5 284.7h4.6v0.8h-4.6zM142.5 285.7h4.9v0.8h-4.9zM46.1 286.7h5.3v0.6h-5.3zM8.5 287.5h4.8v0.6h-4.8zM158.8 289.1h4.5v0.8h-4.5zM83.3 294.0h4.3v0.8h-4.3zM137.1 294.0h4.3v0.8h-4.3zM115.9 295.8h5.0v0.6h-5.0zM158.6 297.7h5.2v0.8h-5.2zM94.3 299.3h4.9v0.6h-4.9zM158.6 299.3h4.7v0.8h-4.7zM56.8 300.1h4.8v0.6h-4.8zM158.4 300.1h4.6v0.8h-4.6zM83.4 301.1h4.1v0.8h-4.1zM115.8 301.1h4.0v0.6h-4.0zM169.3 301.9h5.1v0.6h-5.1zM8.5 306.9h4.7v0.6h-4.7zM94.2 306.9h5.1v0.6h-5.1zM126.2 306.9h5.1v0.6h-5.1zM83.2 312.0h4.4v0.8h-4.4zM131.6 313.9h4.9v0.8h-4.9zM67.1 314.7h4.7v0.6h-4.7zM142.8 314.7h4.5v0.8h-4.5zM185.7 317.5h4.8v0.6h-4.8zM72.6 327.6h4.6v0.8h-4.6zM159.0 327.6h4.2v0.8h-4.2zM13.8 328.6h4.5v0.6h-4.5zM83.2 328.6h5.2v0.8h-5.2zM121.2 329.5h5.1v0.6h-5.1zM126.6 330.5h4.1v0.6h-4.1zM148.2 333.2h4.3v0.8h-4.3zM72.5 334.9h4.1v0.8h-4.1zM94.1 337.6h4.7v0.6h-4.7zM115.9 337.6h4.6v0.6h-4.6zM131.7 341.1h4.8v0.8h-4.8zM72.9 342.7h4.5v0.8h-4.5zM83.7 346.6h5.0v0.8h-5.0zM24.3 347.5h4.8v0.6h-4.8zM142.7 348.3h5.2v0.8h-5.2zM142.3 351.0h5.4v0.8h-5.4zM148.2 353.9h4.8v0.8h-4.8zM137.1 356.6h4.3v0.8h-4.3zM137.5 359.3h4.9v0.8h-4.9zM56.5 360.1h5.3v0.6h-5.3zM153.6 361.1h4.8v0.8h-4.8zM115.6 362.0h5.1v0.6h-5.1zM83.7 362.8h4.2v0.8h-4.2zM142.6 363.7h4.9v0.8h-4.9zM35.0 365.6h4.8v0.6h-4.8zM45.8 366.5h5.0v0.6h-5.0zM142.5 366.5h4.1v0.8h-4.1zM142.4 368.1h5.0v0.8h-5.0zM24.6 369.1h5.1v0.6h-5.1zM56.8 370.1h4.5v0.6h-4.5zM83.3 370.1h4.7v0.8h-4.7zM83.6 370.9h5.1v0.8h-5.1zM131.9 370.9h4.1v0.8h-4.1zM19.1 371.9h4.7v0.6h-4.7zM142.4 371.9h4.3v0.8h-4.3zM137.1 372.8h5.3v0.8h-5.3zM142.3 372.8h4.2v0.8h-4.2zM83.4 377.2h4.8v0.8h-4.8zM137.2 377.2h4.3v0.8h-4.3zM142.3 380.1h5.3v0.8h-5.3zM56.9 381.1h4.9v0.6h-4.9zM83.8 381.1h4.5v0.8h-4.5zM142.8 381.1h5.3v0.8h-5.3zM72.5 381.9h4.1v0.8h-4.1zM148.1 389.7h4.8v0.8h-4.8zM83.7 392.4h4.7v0.8h-4.7zM62.0 393.2h4.3v0.6h-4.3zM83.8 393.2h4.1v0.8h-4.1zM24.6 395.9h4.4v0.6h-4.4zM158.4 395.9h4.8v0.8h-4.8z"/>
<path fill="#9a1c2e" d="M137.2 155.2h4.6v0.8h-4.6zM147.9 156.2h4.6v0.8h-4.6zM142.6 163.9h4.6v0.8h-4.6zM147.9 165.6h4.6v0.8h-4.6zM137.2 166.5h4.6v0.8h-4.6zM137.2 169.8h4.6v0.8h-4.6zM147.9 171.5h4.6v0.8h-4.6zM142.6 172.5h4.6v0.8h-4.6zM142.6 183.5h4.6v0.3h-4.6zM137.2 189.7h4.6v0.8h-4.6zM137.2 196.0h4.6v0.8h-4.6zM142.6 204.5h4.6v0.8h-4.6zM153.3 204.5h4.6v0.8h-4.6zM158.7 205.5h4.6v0.8h-4.6zM158.7 209.0h4.6v0.8h-4.6zM153.3 209.8h4.6v0.8h-4.6zM153.3 220.7h4.6v0.8h-4.6zM142.6 225.1h4.6v0.8h-4.6zM158.7 231.6h4.6v0.8h-4.6zM142.6 236.3h4.6v0.8h-4.6zM158.7 236.3h4.6v0.8h-4.6zM137.2 237.2h4.6v0.8h-4.6zM158.7 237.2h4.6v0.8h-4.6zM142.6 239.9h4.6v0.8h-4.6zM153.3 239.9h4.6v0.8h-4.6zM158.7 246.4h4.6v0.8h-4.6zM158.7 249.2h4.6v0.8h-4.6zM153.3 253.9h4.6v0.8h-4.6zM137.2 258.9h4.6v0.8h-4.6z"/>
<rect x="190.8" y="154.2" width="4.80" height="2.20" fill="#cf2a2e"/>
<rect x="174.8" y="187.8" width="4.40" height="3.00" fill="#cf2a2e"/>
<rect x="183.0" y="191.2" width="10.00" height="0.80" fill="#cf2a2e"/>
<rect x="169.7" y="265.4" width="3.90" height="1.30" fill="#cf2a2e"/>
<rect x="191.2" y="268.0" width="4.50" height="1.40" fill="#cf2a2e"/>
<rect x="175.0" y="279.4" width="4.50" height="1.00" fill="#cf2a2e"/>
<rect x="191.2" y="281.6" width="4.50" height="5.20" fill="#cf2a2e"/>
<rect x="175.0" y="293.3" width="4.50" height="1.00" fill="#cf2a2e"/>
<rect x="191.2" y="296.3" width="4.50" height="3.50" fill="#cf2a2e"/>
<rect x="175.0" y="310.8" width="4.50" height="1.30" fill="#cf2a2e"/>
<rect x="169.7" y="312.5" width="3.90" height="0.80" fill="#cf2a2e"/>
<rect x="191.2" y="314.0" width="4.50" height="1.00" fill="#cf2a2e"/>
<rect x="175.0" y="325.8" width="4.40" height="3.90" fill="#cf2a2e"/>
<rect x="169.7" y="330.0" width="4.20" height="1.80" fill="#cf2a2e"/>
<rect x="191.2" y="333.2" width="4.60" height="5.55" fill="#cf2a2e"/>
<rect x="175.0" y="345.7" width="4.40" height="18.05" fill="#cf2a2e"/>
<rect x="169.7" y="364.2" width="4.20" height="1.40" fill="#cf2a2e"/>
<rect x="191.2" y="366.5" width="4.60" height="5.50" fill="#cf2a2e"/>
<rect x="175.0" y="388.0" width="4.40" height="6.30" fill="#cf2a2e"/>
<rect x="200.8" y="154.2" width="0.6" height="29.80" fill="#f4f0f4"/>
<rect x="200.8" y="187.6" width="0.6" height="74.30" fill="#f4f0f4"/>
<rect x="200.8" y="264.8" width="0.6" height="12.10" fill="#f4f0f4"/>
<rect x="200.8" y="279.8" width="0.6" height="10.40" fill="#f4f0f4"/>
<rect x="200.8" y="293.8" width="0.6" height="13.60" fill="#f4f0f4"/>
<rect x="200.8" y="310.8" width="0.6" height="12.60" fill="#f4f0f4"/>
<rect x="200.8" y="326.5" width="0.6" height="16.90" fill="#f4f0f4"/>
<rect x="200.8" y="346.4" width="0.6" height="38.00" fill="#f4f0f4"/>
<rect x="200.8" y="387.7" width="0.6" height="10.20" fill="#f4f0f4"/>
<rect x="196.5" y="153.79999999999998" width="4.3" height="30.60" fill="#4c3f98"/>
<text x="198.65" y="170.40" font-size="3.6" text-anchor="middle" fill="#222" font-family='"Liberation Sans", sans-serif'>1</text>
<rect x="196.5" y="187.2" width="4.3" height="75.10" fill="#56409c"/>
<text x="198.65" y="226.05" font-size="3.6" text-anchor="middle" fill="#222" font-family='"Liberation Sans", sans-serif'>2</text>
<rect x="196.5" y="264.40000000000003" width="4.3" height="12.90" fill="#8d5bb0"/>
<text x="198.65" y="272.15" font-size="3.6" text-anchor="middle" fill="#222" font-family='"Liberation Sans", sans-serif'>3</text>
<rect x="196.5" y="279.40000000000003" width="4.3" height="11.20" fill="#e05ca4"/>
<text x="198.65" y="286.30" font-size="3.6" text-anchor="middle" fill="#222" font-family='"Liberation Sans", sans-serif'>4</text>
<rect x="196.5" y="293.40000000000003" width="4.3" height="14.40" fill="#d8343c"/>
<text x="198.65" y="301.90" font-size="3.6" text-anchor="middle" fill="#222" font-family='"Liberation Sans", sans-serif'>5</text>
<rect x="196.5" y="310.40000000000003" width="4.3" height="13.40" fill="#e04a2c"/>
<text x="198.65" y="318.40" font-size="3.6" text-anchor="middle" fill="#222" font-family='"Liberation Sans", sans-serif'>6</text>
<rect x="196.5" y="326.1" width="4.3" height="17.70" fill="#f0a23c"/>
<text x="198.65" y="336.25" font-size="3.6" text-anchor="middle" fill="#222" font-family='"Liberation Sans", sans-serif'>7</text>
<rect x="196.5" y="346.0" width="4.3" height="38.80" fill="#a6cc45"/>
<text x="198.65" y="366.70" font-size="3.6" text-anchor="middle" fill="#222" font-family='"Liberation Sans", sans-serif'>8</text>
<rect x="196.5" y="387.3" width="4.3" height="11.00" fill="#3b9a48"/>
<text x="198.65" y="394.10" font-size="3.6" text-anchor="middle" fill="#222" font-family='"Liberation Sans", sans-serif'>9</text>
<rect x="7.699999999999999" y="153.79999999999998" width="330.10" height="30.60" rx="1.2" fill="none" stroke="#1a1a1a" stroke-width="1.2"/>
<rect x="7.699999999999999" y="187.2" width="330.10" height="75.10" rx="1.2" fill="none" stroke="#1a1a1a" stroke-width="1.2"/>
<rect x="7.699999999999999" y="264.40000000000003" width="330.10" height="12.90" rx="1.2" fill="none" stroke="#1a1a1a" stroke-width="1.2"/>
<rect x="7.699999999999999" y="279.40000000000003" width="330.10" height="11.20" rx="1.2" fill="none" stroke="#1a1a1a" stroke-width="1.2"/>
<rect x="7.699999999999999" y="293.40000000000003" width="330.10" height="14.40" rx="1.2" fill="none" stroke="#1a1a1a" stroke-width="1.2"/>
<rect x="7.699999999999999" y="310.40000000000003" width="330.10" height="13.40" rx="1.2" fill="none" stroke="#1a1a1a" stroke-width="1.2"/>
<rect x="7.699999999999999" y="326.1" width="330.10" height="17.70" rx="1.2" fill="none" stroke="#1a1a1a" stroke-width="1.2"/>
<rect x="7.699999999999999" y="346.0" width="330.10" height="38.80" rx="1.2" fill="none" stroke="#1a1a1a" stroke-width="1.2"/>
<rect x="7.699999999999999" y="387.3" width="330.10" height="11.00" rx="1.2" fill="none" stroke="#1a1a1a" stroke-width="1.2"/>
<rect x="344" y="153.75" width="4.75" height="13.55" fill="#1e2a6e"/>
<rect x="344" y="167.3" width="4.75" height="13.30" fill="#4a8cc8"/>
<rect x="344" y="180.6" width="4.75" height="13.80" fill="#d0d0d0"/>
<rect x="344" y="194.4" width="4.75" height="13.30" fill="#d62b2b"/>
<rect x="344" y="207.7" width="4.75" height="13.30" fill="#8c1212"/>
<text x="351.8" y="155.35" font-size="4.6" fill="#111" font-family='"Liberation Sans", sans-serif'>4</text>
<text x="351.8" y="172.10" font-size="4.6" fill="#111" font-family='"Liberation Sans", sans-serif'>3</text>
<text x="351.8" y="188.80" font-size="4.6" fill="#111" font-family='"Liberation Sans", sans-serif'>2</text>
<text x="351.8" y="205.60" font-size="4.6" fill="#111" font-family='"Liberation Sans", sans-serif'>1</text>
<text x="351.8" y="222.60" font-size="4.6" fill="#111" font-family='"Liberation Sans", sans-serif'>0</text>
<text x="47.95" y="405.2" font-size="4.8" text-anchor="middle" fill="#111" font-family='"Liberation Sans", sans-serif'>Other</text>
<line x1="8.4" y1="409.2" x2="87.5" y2="409.2" stroke="#111" stroke-width="1.0"/>
<text x="99.20" y="405.2" font-size="4.8" text-anchor="middle" fill="#111" font-family='"Liberation Sans", sans-serif'>NF-κB</text>
<line x1="89.2" y1="409.2" x2="109.2" y2="409.2" stroke="#111" stroke-width="1.0"/>
<text x="126.10" y="405.2" font-size="4.8" text-anchor="middle" fill="#111" font-family='"Liberation Sans", sans-serif'>MEK/ERK</text>
<line x1="111.2" y1="409.2" x2="141.0" y2="409.2" stroke="#111" stroke-width="1.0"/>
<text transform="translate(8.30,411.6) rotate(90)" font-size="4.4" fill="#111" stroke="#111" stroke-width="0.08" font-family='"Liberation Sans", sans-serif'>CDKN1B</text>
<text transform="translate(13.67,411.6) rotate(90)" font-size="4.4" fill="#111" stroke="#111" stroke-width="0.08" font-family='"Liberation Sans", sans-serif'>MAMB</text>
<text transform="translate(19.04,411.6) rotate(90)" font-size="4.4" fill="#111" stroke="#111" stroke-width="0.08" font-family='"Liberation Sans", sans-serif'>NAAPB</text>
<text transform="translate(24.41,411.6) rotate(90)" font-size="4.4" fill="#111" stroke="#111" stroke-width="0.08" font-family='"Liberation Sans", sans-serif'>MAX</text>
<text transform="translate(29.78,411.6) rotate(90)" font-size="4.4" fill="#111" stroke="#111" stroke-width="0.08" font-family='"Liberation Sans", sans-serif'>TGDS</text>
<text transform="translate(35.15,411.6) rotate(90)" font-size="4.4" fill="#111" stroke="#111" stroke-width="0.08" font-family='"Liberation Sans", sans-serif'>SP140</text>
<text transform="translate(40.52,411.6) rotate(90)" font-size="4.4" fill="#111" stroke="#111" stroke-width="0.08" font-family='"Liberation Sans", sans-serif'>IRF4</text>
<text transform="translate(45.89,411.6) rotate(90)" font-size="4.4" fill="#111" stroke="#111" stroke-width="0.08" font-family='"Liberation Sans", sans-serif'>ACTG1</text>
<text transform="translate(51.26,411.6) rotate(90)" font-size="4.4" fill="#111" stroke="#111" stroke-width="0.08" font-family='"Liberation Sans", sans-serif'>MAX</text>
<text transform="translate(56.63,411.6) rotate(90)" font-size="4.4" fill="#111" stroke="#111" stroke-width="0.08" font-family='"Liberation Sans", sans-serif'>HIST1H1E</text>
<text transform="translate(62.00,411.6) rotate(90)" font-size="4.4" fill="#111" stroke="#111" stroke-width="0.08" font-family='"Liberation Sans", sans-serif'>KMT2B</text>
<text transform="translate(67.37,411.6) rotate(90)" font-size="4.4" fill="#111" stroke="#111" stroke-width="0.08" font-family='"Liberation Sans", sans-serif'>LRRK2</text>
<text transform="translate(72.74,411.6) rotate(90)" font-size="4.4" fill="#111" stroke="#111" stroke-width="0.08" font-family='"Liberation Sans", sans-serif'>TP53</text>
<text transform="translate(78.11,411.6) rotate(90)" font-size="4.4" fill="#111" stroke="#111" stroke-width="0.08" font-family='"Liberation Sans", sans-serif'>FAM46C</text>
<text transform="translate(83.48,411.6) rotate(90)" font-size="4.4" fill="#111" stroke="#111" stroke-width="0.08" font-family='"Liberation Sans", sans-serif'>RB1</text>
<text transform="translate(88.85,411.6) rotate(90)" font-size="4.4" fill="#111" stroke="#111" stroke-width="0.08" font-family='"Liberation Sans", sans-serif'>DIS3</text>
<text transform="translate(94.22,411.6) rotate(90)" font-size="4.4" fill="#111" stroke="#111" stroke-width="0.08" font-family='"Liberation Sans", sans-serif'>NFKBIA</text>
<text transform="translate(99.59,411.6) rotate(90)" font-size="4.4" fill="#111" stroke="#111" stroke-width="0.08" font-family='"Liberation Sans", sans-serif'>CYLD</text>
<text transform="translate(104.96,411.6) rotate(90)" font-size="4.4" fill="#111" stroke="#111" stroke-width="0.08" font-family='"Liberation Sans", sans-serif'>TRAF2</text>
<text transform="translate(110.33,411.6) rotate(90)" font-size="4.4" fill="#111" stroke="#111" stroke-width="0.08" font-family='"Liberation Sans", sans-serif'>TRAF3</text>
<text transform="translate(115.70,411.6) rotate(90)" font-size="4.4" fill="#111" stroke="#111" stroke-width="0.08" font-family='"Liberation Sans", sans-serif'>PRKD2</text>
<text transform="translate(121.07,411.6) rotate(90)" font-size="4.4" fill="#111" stroke="#111" stroke-width="0.08" font-family='"Liberation Sans", sans-serif'>FGFR3</text>
<text transform="translate(126.44,411.6) rotate(90)" font-size="4.4" fill="#111" stroke="#111" stroke-width="0.08" font-family='"Liberation Sans", sans-serif'>PTPN11</text>
<text transform="translate(131.81,411.6) rotate(90)" font-size="4.4" fill="#111" stroke="#111" stroke-width="0.08" font-family='"Liberation Sans", sans-serif'>BRAF</text>
<text transform="translate(137.18,411.6) rotate(90)" font-size="4.4" fill="#111" stroke="#111" stroke-width="0.08" font-family='"Liberation Sans", sans-serif'>NRAS</text>
<text transform="translate(142.55,411.6) rotate(90)" font-size="4.4" fill="#111" stroke="#111" stroke-width="0.08" font-family='"Liberation Sans", sans-serif'>KRAS</text>
<text transform="translate(147.92,401.8) rotate(90)" font-size="4.4" fill="#111" stroke="#111" stroke-width="0.08" font-family='"Liberation Sans", sans-serif'>High CCND2 exp</text>
<text transform="translate(153.29,401.8) rotate(90)" font-size="4.4" fill="#111" stroke="#111" stroke-width="0.08" font-family='"Liberation Sans", sans-serif'>High CCND1 exp</text>
<text transform="translate(158.66,401.8) rotate(90)" font-size="4.4" fill="#111" stroke="#111" stroke-width="0.08" font-family='"Liberation Sans", sans-serif'>MYC</text>
<text transform="translate(164.03,401.8) rotate(90)" font-size="4.4" fill="#111" stroke="#111" stroke-width="0.08" font-family='"Liberation Sans", sans-serif'>t(14;20)</text>
<text transform="translate(169.40,401.8) rotate(90)" font-size="4.4" fill="#111" stroke="#111" stroke-width="0.08" font-family='"Liberation Sans", sans-serif'>t(14;16)</text>
<text transform="translate(174.77,401.8) rotate(90)" font-size="4.4" fill="#111" stroke="#111" stroke-width="0.08" font-family='"Liberation Sans", sans-serif'>t(11;14)</text>
<text transform="translate(180.14,401.8) rotate(90)" font-size="4.4" fill="#111" stroke="#111" stroke-width="0.08" font-family='"Liberation Sans", sans-serif'>t(6;14)</text>
<text transform="translate(185.51,401.8) rotate(90)" font-size="4.4" fill="#111" stroke="#111" stroke-width="0.08" font-family='"Liberation Sans", sans-serif'>t(4;14)</text>
<text transform="translate(196.2,401.0) rotate(90)" font-size="4.3" fill="#111" font-family='"Liberation Sans", sans-serif'>Cluster</text>
<text transform="translate(203.25,412.6) rotate(90)" font-size="4.7" fill="#111" stroke="#111" stroke-width="0.08" font-family='"Liberation Sans", sans-serif'>CDKN2A</text>
<text transform="translate(207.96,412.6) rotate(90)" font-size="4.7" fill="#111" stroke="#111" stroke-width="0.08" font-family='"Liberation Sans", sans-serif'>SRSF9</text>
<text transform="translate(212.67,412.6) rotate(90)" font-size="4.7" fill="#111" stroke="#111" stroke-width="0.08" font-family='"Liberation Sans", sans-serif'>BLM</text>
<text transform="translate(217.37,412.6) rotate(90)" font-size="4.7" fill="#111" stroke="#111" stroke-width="0.08" font-family='"Liberation Sans", sans-serif'>SNRPN</text>
<text transform="translate(222.08,412.6) rotate(90)" font-size="4.7" fill="#111" stroke="#111" stroke-width="0.08" font-family='"Liberation Sans", sans-serif'>CDK1</text>
<text transform="translate(226.79,412.6) rotate(90)" font-size="4.7" fill="#111" stroke="#111" stroke-width="0.08" font-family='"Liberation Sans", sans-serif'>CDKN1</text>
<text transform="translate(231.50,412.6) rotate(90)" font-size="4.7" fill="#111" stroke="#111" stroke-width="0.08" font-family='"Liberation Sans", sans-serif'>CCND1</text>
<text transform="translate(236.20,412.6) rotate(90)" font-size="4.7" fill="#111" stroke="#111" stroke-width="0.08" font-family='"Liberation Sans", sans-serif'>BIRC3</text>
<text transform="translate(240.91,412.6) rotate(90)" font-size="4.7" fill="#111" stroke="#111" stroke-width="0.08" font-family='"Liberation Sans", sans-serif'>ATM</text>
<text transform="translate(245.62,412.6) rotate(90)" font-size="4.7" fill="#111" stroke="#111" stroke-width="0.08" font-family='"Liberation Sans", sans-serif'>SON</text>
<text transform="translate(250.32,412.6) rotate(90)" font-size="4.7" fill="#111" stroke="#111" stroke-width="0.08" font-family='"Liberation Sans", sans-serif'>CDKN2C</text>
<text transform="translate(255.03,412.6) rotate(90)" font-size="4.7" fill="#111" stroke="#111" stroke-width="0.08" font-family='"Liberation Sans", sans-serif'>RPL5</text>
<text transform="translate(259.74,412.6) rotate(90)" font-size="4.7" fill="#111" stroke="#111" stroke-width="0.08" font-family='"Liberation Sans", sans-serif'>FAM46C</text>
<text transform="translate(264.44,412.6) rotate(90)" font-size="4.7" fill="#111" stroke="#111" stroke-width="0.08" font-family='"Liberation Sans", sans-serif'>CKS1B</text>
<text transform="translate(269.15,412.6) rotate(90)" font-size="4.7" fill="#111" stroke="#111" stroke-width="0.08" font-family='"Liberation Sans", sans-serif'>FGFR3</text>
<text transform="translate(273.86,412.6) rotate(90)" font-size="4.7" fill="#111" stroke="#111" stroke-width="0.08" font-family='"Liberation Sans", sans-serif'>TNXB</text>
<text transform="translate(278.57,412.6) rotate(90)" font-size="4.7" fill="#111" stroke="#111" stroke-width="0.08" font-family='"Liberation Sans", sans-serif'>PARK2</text>
<text transform="translate(283.27,412.6) rotate(90)" font-size="4.7" fill="#111" stroke="#111" stroke-width="0.08" font-family='"Liberation Sans", sans-serif'>DOCK5</text>
<text transform="translate(287.98,412.6) rotate(90)" font-size="4.7" fill="#111" stroke="#111" stroke-width="0.08" font-family='"Liberation Sans", sans-serif'>MYC</text>
<text transform="translate(292.69,412.6) rotate(90)" font-size="4.7" fill="#111" stroke="#111" stroke-width="0.08" font-family='"Liberation Sans", sans-serif'>CDKN1B</text>
<text transform="translate(297.39,412.6) rotate(90)" font-size="4.7" fill="#111" stroke="#111" stroke-width="0.08" font-family='"Liberation Sans", sans-serif'>RB1</text>
<text transform="translate(302.10,412.6) rotate(90)" font-size="4.7" fill="#111" stroke="#111" stroke-width="0.08" font-family='"Liberation Sans", sans-serif'>ABCD4</text>
<text transform="translate(306.81,412.6) rotate(90)" font-size="4.7" fill="#111" stroke="#111" stroke-width="0.08" font-family='"Liberation Sans", sans-serif'>TRAF3</text>
<text transform="translate(311.51,412.6) rotate(90)" font-size="4.7" fill="#111" stroke="#111" stroke-width="0.08" font-family='"Liberation Sans", sans-serif'>CYLD</text>
<text transform="translate(316.22,412.6) rotate(90)" font-size="4.7" fill="#111" stroke="#111" stroke-width="0.08" font-family='"Liberation Sans", sans-serif'>TP53</text>
<text transform="translate(320.93,412.6) rotate(90)" font-size="4.7" fill="#111" stroke="#111" stroke-width="0.08" font-family='"Liberation Sans", sans-serif'>AKAP1</text>
<text transform="translate(325.64,412.6) rotate(90)" font-size="4.7" fill="#111" stroke="#111" stroke-width="0.08" font-family='"Liberation Sans", sans-serif'>TP53</text>
<text transform="translate(330.34,412.6) rotate(90)" font-size="4.7" fill="#111" stroke="#111" stroke-width="0.08" font-family='"Liberation Sans", sans-serif'>AKAP1</text>
<text transform="translate(335.05,412.6) rotate(90)" font-size="4.7" fill="#111" stroke="#111" stroke-width="0.08" font-family='"Liberation Sans", sans-serif'>XBP1</text>
<line x1="202.2" y1="409.0" x2="210.9" y2="409.0" stroke="#111" stroke-width="1.0"/>
<text transform="translate(205.25,401.0) rotate(90)" font-size="3.8" fill="#111" font-family='"Liberation Sans", sans-serif'>9</text>
<line x1="212" y1="409.0" x2="214.5" y2="409.0" stroke="#111" stroke-width="1.0"/>
<text transform="translate(211.95,401.0) rotate(90)" font-size="3.8" fill="#111" font-family='"Liberation Sans", sans-serif'>19</text>
<line x1="216.6" y1="409.0" x2="220.3" y2="409.0" stroke="#111" stroke-width="1.0"/>
<text transform="translate(217.15,401.0) rotate(90)" font-size="3.8" fill="#111" font-family='"Liberation Sans", sans-serif'>15</text>
<line x1="221" y1="409.0" x2="223.9" y2="409.0" stroke="#111" stroke-width="1.0"/>
<text transform="translate(221.15,401.0) rotate(90)" font-size="3.8" fill="#111" font-family='"Liberation Sans", sans-serif'>9</text>
<line x1="224.6" y1="409.0" x2="228.2" y2="409.0" stroke="#111" stroke-width="1.0"/>
<text transform="translate(225.10,401.0) rotate(90)" font-size="3.8" fill="#111" font-family='"Liberation Sans", sans-serif'>7</text>
<line x1="229.6" y1="409.0" x2="234" y2="409.0" stroke="#111" stroke-width="1.0"/>
<text transform="translate(230.50,401.0) rotate(90)" font-size="3.8" fill="#111" font-family='"Liberation Sans", sans-serif'>5</text>
<line x1="236.1" y1="409.0" x2="247.7" y2="409.0" stroke="#111" stroke-width="1.0"/>
<text transform="translate(240.60,401.0) rotate(90)" font-size="3.8" fill="#111" font-family='"Liberation Sans", sans-serif'>11</text>
<line x1="249.1" y1="409.0" x2="252" y2="409.0" stroke="#111" stroke-width="1.0"/>
<text transform="translate(249.25,401.0) rotate(90)" font-size="3.8" fill="#111" font-family='"Liberation Sans", sans-serif'>21</text>
<line x1="254.2" y1="409.0" x2="270.8" y2="409.0" stroke="#111" stroke-width="1.0"/>
<text transform="translate(261.20,401.0) rotate(90)" font-size="3.8" fill="#111" font-family='"Liberation Sans", sans-serif'>1</text>
<line x1="272.2" y1="409.0" x2="275.8" y2="409.0" stroke="#111" stroke-width="1.0"/>
<text transform="translate(272.70,401.0) rotate(90)" font-size="3.8" fill="#111" font-family='"Liberation Sans", sans-serif'>4</text>
<line x1="277.3" y1="409.0" x2="280.9" y2="409.0" stroke="#111" stroke-width="1.0"/>
<text transform="translate(277.80,401.0) rotate(90)" font-size="3.8" fill="#111" font-family='"Liberation Sans", sans-serif'>6</text>
<line x1="283" y1="409.0" x2="290.3" y2="409.0" stroke="#111" stroke-width="1.0"/>
<text transform="translate(285.35,401.0) rotate(90)" font-size="3.8" fill="#111" font-family='"Liberation Sans", sans-serif'>8</text>
<line x1="292.4" y1="409.0" x2="300.4" y2="409.0" stroke="#111" stroke-width="1.0"/>
<text transform="translate(295.10,401.0) rotate(90)" font-size="3.8" fill="#111" font-family='"Liberation Sans", sans-serif'>12</text>
<line x1="301.8" y1="409.0" x2="304.7" y2="409.0" stroke="#111" stroke-width="1.0"/>
<text transform="translate(301.95,401.0) rotate(90)" font-size="3.8" fill="#111" font-family='"Liberation Sans", sans-serif'>13</text>
<line x1="306.1" y1="409.0" x2="313.3" y2="409.0" stroke="#111" stroke-width="1.0"/>
<text transform="translate(308.40,401.0) rotate(90)" font-size="3.8" fill="#111" font-family='"Liberation Sans", sans-serif'>14</text>
<line x1="314.8" y1="409.0" x2="319.8" y2="409.0" stroke="#111" stroke-width="1.0"/>
<text transform="translate(316.00,401.0) rotate(90)" font-size="3.8" fill="#111" font-family='"Liberation Sans", sans-serif'>16</text>
<line x1="320.6" y1="409.0" x2="328.5" y2="409.0" stroke="#111" stroke-width="1.0"/>
<text transform="translate(323.25,401.0) rotate(90)" font-size="3.8" fill="#111" font-family='"Liberation Sans", sans-serif'>17</text>
<line x1="330" y1="409.0" x2="337.2" y2="409.0" stroke="#111" stroke-width="1.0"/>
<text transform="translate(332.30,401.0) rotate(90)" font-size="3.8" fill="#111" font-family='"Liberation Sans", sans-serif'>17</text>
<text transform="translate(343.4,401.0) rotate(90)" font-size="4.5" fill="#111" font-family='"Liberation Sans", sans-serif'>Chr. Gene</text>
<text transform="translate(371.9,16.6) scale(1.12,1)" font-size="10.3" font-weight="bold" font-family='"Liberation Sans", sans-serif'>C</text>
<circle cx="382.83" cy="40.30" r="2.5" fill="#a3122f"/>
<circle cx="397.29" cy="40.30" r="0.95" fill="#2b4675"/>
<circle cx="404.52" cy="40.30" r="0.95" fill="#2b4675"/>
<circle cx="426.21" cy="40.30" r="2.5" fill="#2b4675"/>
<circle cx="426.21" cy="46.93" r="0.95" fill="#2b4675"/>
<circle cx="390.06" cy="53.57" r="2.5" fill="#a3122f"/>
<circle cx="397.29" cy="53.57" r="0.95" fill="#a3122f"/>
<circle cx="404.52" cy="53.57" r="1.8" fill="#2b4675"/>
<circle cx="411.75" cy="53.57" r="2.5" fill="#a3122f"/>
<circle cx="418.98" cy="53.57" r="2.5" fill="#2b4675"/>
<circle cx="426.21" cy="53.57" r="2.5" fill="#2b4675"/>
<circle cx="375.60" cy="60.20" r="1.8" fill="#2b4675"/>
<circle cx="382.83" cy="60.20" r="2.5" fill="#2b4675"/>
<circle cx="390.06" cy="60.20" r="2.5" fill="#a3122f"/>
<circle cx="404.52" cy="60.20" r="2.5" fill="#a3122f"/>
<circle cx="411.75" cy="60.20" r="2.5" fill="#a3122f"/>
<circle cx="418.98" cy="60.20" r="2.5" fill="#2b4675"/>
<circle cx="426.21" cy="60.20" r="2.5" fill="#2b4675"/>
<circle cx="433.44" cy="60.20" r="0.95" fill="#2b4675"/>
<circle cx="382.83" cy="66.84" r="2.5" fill="#2b4675"/>
<circle cx="390.06" cy="66.84" r="2.5" fill="#a3122f"/>
<circle cx="397.29" cy="66.84" r="2.5" fill="#a3122f"/>
<circle cx="404.52" cy="66.84" r="2.5" fill="#a3122f"/>
<circle cx="411.75" cy="66.84" r="2.5" fill="#a3122f"/>
<circle cx="426.21" cy="66.84" r="2.5" fill="#2b4675"/>
<circle cx="382.83" cy="73.47" r="2.5" fill="#2b4675"/>
<circle cx="390.06" cy="73.47" r="2.5" fill="#a3122f"/>
<circle cx="397.29" cy="73.47" r="2.5" fill="#a3122f"/>
<circle cx="404.52" cy="73.47" r="2.5" fill="#a3122f"/>
<circle cx="411.75" cy="73.47" r="1.8" fill="#a3122f"/>
<circle cx="418.98" cy="73.47" r="2.5" fill="#a3122f"/>
<circle cx="426.21" cy="73.47" r="2.5" fill="#2b4675"/>
<circle cx="397.29" cy="80.11" r="2.5" fill="#a3122f"/>
<circle cx="404.52" cy="80.11" r="1.8" fill="#2b4675"/>
<circle cx="411.75" cy="80.11" r="0.95" fill="#2b4675"/>
<circle cx="418.98" cy="80.11" r="2.5" fill="#2b4675"/>
<circle cx="426.21" cy="80.11" r="2.5" fill="#2b4675"/>
<circle cx="404.52" cy="86.75" r="0.95" fill="#2b4675"/>
<circle cx="426.21" cy="86.75" r="1.8" fill="#2b4675"/>
<circle cx="375.60" cy="93.38" r="0.95" fill="#a3122f"/>
<circle cx="390.06" cy="93.38" r="1.8" fill="#a3122f"/>
<circle cx="411.75" cy="93.38" r="1.8" fill="#a3122f"/>
<circle cx="426.21" cy="93.38" r="2.5" fill="#2b4675"/>
<circle cx="426.21" cy="100.01" r="2.5" fill="#2b4675"/>
<circle cx="375.60" cy="106.65" r="2.5" fill="#a3122f"/>
<circle cx="382.83" cy="106.65" r="1.8" fill="#a3122f"/>
<circle cx="390.06" cy="106.65" r="2.5" fill="#2b4675"/>
<circle cx="426.21" cy="106.65" r="2.5" fill="#2b4675"/>
<circle cx="375.60" cy="113.28" r="0.95" fill="#2b4675"/>
<circle cx="390.06" cy="113.28" r="1.8" fill="#a3122f"/>
<circle cx="397.29" cy="113.28" r="1.8" fill="#a3122f"/>
<circle cx="404.52" cy="113.28" r="2.5" fill="#a3122f"/>
<circle cx="426.21" cy="113.28" r="1.8" fill="#2b4675"/>
<circle cx="375.60" cy="119.92" r="2.5" fill="#a3122f"/>
<circle cx="382.83" cy="119.92" r="2.5" fill="#2b4675"/>
<circle cx="390.06" cy="119.92" r="2.5" fill="#a3122f"/>
<circle cx="411.75" cy="119.92" r="1.8" fill="#a3122f"/>
<circle cx="418.98" cy="119.92" r="2.5" fill="#a3122f"/>
<circle cx="426.21" cy="119.92" r="2.5" fill="#2b4675"/>
<circle cx="433.44" cy="119.92" r="0.95" fill="#2b4675"/>
<circle cx="390.06" cy="126.55" r="2.5" fill="#a3122f"/>
<circle cx="411.75" cy="126.55" r="0.95" fill="#2b4675"/>
<circle cx="426.21" cy="126.55" r="2.5" fill="#2b4675"/>
<circle cx="390.06" cy="133.19" r="2.5" fill="#a3122f"/>
<circle cx="397.29" cy="133.19" r="0.95" fill="#a3122f"/>
<circle cx="411.75" cy="133.19" r="0.95" fill="#2b4675"/>
<circle cx="426.21" cy="133.19" r="2.5" fill="#2b4675"/>
<circle cx="433.44" cy="133.19" r="1.8" fill="#2b4675"/>
<circle cx="390.06" cy="139.82" r="2.5" fill="#a3122f"/>
<circle cx="404.52" cy="139.82" r="1.8" fill="#2b4675"/>
<circle cx="411.75" cy="139.82" r="0.95" fill="#2b4675"/>
<circle cx="418.98" cy="139.82" r="0.95" fill="#2b4675"/>
<circle cx="426.21" cy="139.82" r="2.5" fill="#2b4675"/>
<circle cx="375.60" cy="146.46" r="2.5" fill="#a3122f"/>
<circle cx="382.83" cy="146.46" r="2.5" fill="#a3122f"/>
<circle cx="390.06" cy="146.46" r="2.5" fill="#2b4675"/>
<circle cx="397.29" cy="146.46" r="2.5" fill="#2b4675"/>
<circle cx="404.52" cy="146.46" r="1.8" fill="#2b4675"/>
<circle cx="411.75" cy="146.46" r="1.8" fill="#2b4675"/>
<circle cx="418.98" cy="146.46" r="2.5" fill="#2b4675"/>
<circle cx="426.21" cy="146.46" r="2.5" fill="#2b4675"/>
<circle cx="433.44" cy="146.46" r="0.95" fill="#2b4675"/>
<circle cx="382.83" cy="153.09" r="2.5" fill="#2b4675"/>
<circle cx="418.98" cy="153.09" r="1.8" fill="#a3122f"/>
<circle cx="382.83" cy="159.73" r="2.5" fill="#2b4675"/>
<circle cx="418.98" cy="159.73" r="2.5" fill="#a3122f"/>
<circle cx="375.60" cy="166.37" r="2.5" fill="#2b4675"/>
<circle cx="382.83" cy="166.37" r="2.5" fill="#a3122f"/>
<circle cx="390.06" cy="166.37" r="2.5" fill="#2b4675"/>
<circle cx="397.29" cy="166.37" r="2.5" fill="#2b4675"/>
<circle cx="404.52" cy="166.37" r="2.5" fill="#2b4675"/>
<circle cx="411.75" cy="166.37" r="2.5" fill="#2b4675"/>
<circle cx="418.98" cy="166.37" r="2.5" fill="#2b4675"/>
<circle cx="426.21" cy="166.37" r="2.5" fill="#2b4675"/>
<circle cx="433.44" cy="166.37" r="2.5" fill="#a3122f"/>
<circle cx="375.60" cy="173.00" r="2.5" fill="#a3122f"/>
<circle cx="382.83" cy="173.00" r="2.5" fill="#a3122f"/>
<circle cx="390.06" cy="173.00" r="2.5" fill="#2b4675"/>
<circle cx="397.29" cy="173.00" r="2.5" fill="#2b4675"/>
<circle cx="404.52" cy="173.00" r="2.5" fill="#2b4675"/>
<circle cx="411.75" cy="173.00" r="2.5" fill="#2b4675"/>
<circle cx="418.98" cy="173.00" r="2.5" fill="#2b4675"/>
<circle cx="426.21" cy="173.00" r="2.5" fill="#2b4675"/>
<circle cx="433.44" cy="173.00" r="2.5" fill="#2b4675"/>
<circle cx="390.06" cy="179.63" r="0.95" fill="#2b4675"/>
<circle cx="375.60" cy="186.27" r="0.95" fill="#2b4675"/>
<circle cx="382.83" cy="186.27" r="2.5" fill="#2b4675"/>
<circle cx="397.29" cy="186.27" r="2.5" fill="#a3122f"/>
<circle cx="404.52" cy="186.27" r="2.5" fill="#a3122f"/>
<circle cx="418.98" cy="186.27" r="2.5" fill="#a3122f"/>
<circle cx="411.75" cy="192.90" r="0.95" fill="#a3122f"/>
<circle cx="375.60" cy="199.54" r="2.5" fill="#2b4675"/>
<circle cx="382.83" cy="199.54" r="2.5" fill="#2b4675"/>
<circle cx="426.21" cy="199.54" r="2.5" fill="#a3122f"/>
<circle cx="433.44" cy="199.54" r="2.5" fill="#a3122f"/>
<circle cx="382.83" cy="206.18" r="2.5" fill="#2b4675"/>
<circle cx="390.06" cy="206.18" r="1.8" fill="#a3122f"/>
<circle cx="418.98" cy="206.18" r="2.5" fill="#a3122f"/>
<circle cx="382.83" cy="212.81" r="2.5" fill="#a3122f"/>
<circle cx="411.75" cy="212.81" r="0.95" fill="#2b4675"/>
<circle cx="426.21" cy="212.81" r="2.5" fill="#2b4675"/>
<circle cx="382.83" cy="219.44" r="2.5" fill="#a3122f"/>
<circle cx="390.06" cy="219.44" r="1.8" fill="#2b4675"/>
<circle cx="397.29" cy="219.44" r="0.95" fill="#2b4675"/>
<circle cx="404.52" cy="219.44" r="2.5" fill="#2b4675"/>
<circle cx="411.75" cy="219.44" r="0.95" fill="#2b4675"/>
<circle cx="418.98" cy="219.44" r="2.5" fill="#2b4675"/>
<circle cx="426.21" cy="219.44" r="2.5" fill="#2b4675"/>
<circle cx="433.44" cy="219.44" r="0.95" fill="#2b4675"/>
<circle cx="375.60" cy="226.08" r="2.5" fill="#a3122f"/>
<circle cx="382.83" cy="226.08" r="2.5" fill="#2b4675"/>
<circle cx="390.06" cy="226.08" r="0.95" fill="#a3122f"/>
<circle cx="426.21" cy="226.08" r="2.5" fill="#2b4675"/>
<circle cx="411.75" cy="232.71" r="2.5" fill="#2b4675"/>
<circle cx="390.06" cy="239.35" r="1.8" fill="#2b4675"/>
<circle cx="433.44" cy="245.99" r="1.8" fill="#a3122f"/>
<circle cx="382.83" cy="252.62" r="0.95" fill="#a3122f"/>
<circle cx="382.83" cy="259.25" r="0.95" fill="#2b4675"/>
<circle cx="397.29" cy="259.25" r="1.8" fill="#a3122f"/>
<circle cx="418.98" cy="259.25" r="0.95" fill="#a3122f"/>
<circle cx="382.83" cy="265.89" r="1.8" fill="#2b4675"/>
<circle cx="397.29" cy="265.89" r="0.95" fill="#a3122f"/>
<circle cx="426.21" cy="265.89" r="1.8" fill="#a3122f"/>
<circle cx="382.83" cy="272.52" r="0.95" fill="#2b4675"/>
<circle cx="390.06" cy="272.52" r="0.95" fill="#2b4675"/>
<circle cx="418.98" cy="272.52" r="0.95" fill="#a3122f"/>
<circle cx="404.52" cy="279.16" r="2.5" fill="#a3122f"/>
<circle cx="411.75" cy="279.16" r="0.95" fill="#a3122f"/>
<circle cx="411.75" cy="285.80" r="1.8" fill="#a3122f"/>
<circle cx="404.52" cy="292.43" r="2.5" fill="#a3122f"/>
<circle cx="382.83" cy="299.06" r="2.5" fill="#2b4675"/>
<circle cx="418.98" cy="299.06" r="2.5" fill="#a3122f"/>
<circle cx="382.83" cy="305.70" r="0.95" fill="#2b4675"/>
<circle cx="382.83" cy="312.33" r="2.5" fill="#a3122f"/>
<circle cx="397.29" cy="318.97" r="1.8" fill="#a3122f"/>
<circle cx="382.83" cy="325.61" r="2.5" fill="#2b4675"/>
<circle cx="404.52" cy="325.61" r="2.5" fill="#a3122f"/>
<circle cx="382.83" cy="332.24" r="0.95" fill="#2b4675"/>
<circle cx="418.98" cy="332.24" r="0.95" fill="#a3122f"/>
<line x1="373" y1="182.4" x2="439.2" y2="182.4" stroke="#333" stroke-width="0.9"/>
<line x1="373" y1="216.5" x2="439.2" y2="216.5" stroke="#333" stroke-width="0.9"/>
<line x1="373" y1="229.6" x2="439.2" y2="229.6" stroke="#333" stroke-width="0.9"/>
<line x1="439.2" y1="37.3" x2="439.2" y2="344.5" stroke="#111" stroke-width="1.4"/>
<line x1="372.6" y1="343.8" x2="439.9" y2="343.8" stroke="#111" stroke-width="1.4"/>
<line x1="439.2" y1="40.30" x2="442.2" y2="40.30" stroke="#111" stroke-width="0.9"/>
<line x1="439.2" y1="46.93" x2="442.2" y2="46.93" stroke="#111" stroke-width="0.9"/>
<line x1="439.2" y1="53.57" x2="442.2" y2="53.57" stroke="#111" stroke-width="0.9"/>
<line x1="439.2" y1="60.20" x2="442.2" y2="60.20" stroke="#111" stroke-width="0.9"/>
<line x1="439.2" y1="66.84" x2="442.2" y2="66.84" stroke="#111" stroke-width="0.9"/>
<line x1="439.2" y1="73.47" x2="442.2" y2="73.47" stroke="#111" stroke-width="0.9"/>
<line x1="439.2" y1="80.11" x2="442.2" y2="80.11" stroke="#111" stroke-width="0.9"/>
<line x1="439.2" y1="86.75" x2="442.2" y2="86.75" stroke="#111" stroke-width="0.9"/>
<line x1="439.2" y1="93.38" x2="442.2" y2="93.38" stroke="#111" stroke-width="0.9"/>
<line x1="439.2" y1="100.01" x2="442.2" y2="100.01" stroke="#111" stroke-width="0.9"/>
<line x1="439.2" y1="106.65" x2="442.2" y2="106.65" stroke="#111" stroke-width="0.9"/>
<line x1="439.2" y1="113.28" x2="442.2" y2="113.28" stroke="#111" stroke-width="0.9"/>
<line x1="439.2" y1="119.92" x2="442.2" y2="119.92" stroke="#111" stroke-width="0.9"/>
<line x1="439.2" y1="126.55" x2="442.2" y2="126.55" stroke="#111" stroke-width="0.9"/>
<line x1="439.2" y1="133.19" x2="442.2" y2="133.19" stroke="#111" stroke-width="0.9"/>
<line x1="439.2" y1="139.82" x2="442.2" y2="139.82" stroke="#111" stroke-width="0.9"/>
<line x1="439.2" y1="146.46" x2="442.2" y2="146.46" stroke="#111" stroke-width="0.9"/>
<line x1="439.2" y1="153.09" x2="442.2" y2="153.09" stroke="#111" stroke-width="0.9"/>
<line x1="439.2" y1="159.73" x2="442.2" y2="159.73" stroke="#111" stroke-width="0.9"/>
<line x1="439.2" y1="166.37" x2="442.2" y2="166.37" stroke="#111" stroke-width="0.9"/>
<line x1="439.2" y1="173.00" x2="442.2" y2="173.00" stroke="#111" stroke-width="0.9"/>
<line x1="439.2" y1="179.63" x2="442.2" y2="179.63" stroke="#111" stroke-width="0.9"/>
<line x1="439.2" y1="186.27" x2="442.2" y2="186.27" stroke="#111" stroke-width="0.9"/>
<line x1="439.2" y1="192.90" x2="442.2" y2="192.90" stroke="#111" stroke-width="0.9"/>
<line x1="439.2" y1="199.54" x2="442.2" y2="199.54" stroke="#111" stroke-width="0.9"/>
<line x1="439.2" y1="206.18" x2="442.2" y2="206.18" stroke="#111" stroke-width="0.9"/>
<line x1="439.2" y1="212.81" x2="442.2" y2="212.81" stroke="#111" stroke-width="0.9"/>
<line x1="439.2" y1="219.44" x2="442.2" y2="219.44" stroke="#111" stroke-width="0.9"/>
<line x1="439.2" y1="226.08" x2="442.2" y2="226.08" stroke="#111" stroke-width="0.9"/>
<line x1="439.2" y1="232.71" x2="442.2" y2="232.71" stroke="#111" stroke-width="0.9"/>
<line x1="439.2" y1="239.35" x2="442.2" y2="239.35" stroke="#111" stroke-width="0.9"/>
<line x1="439.2" y1="245.99" x2="442.2" y2="245.99" stroke="#111" stroke-width="0.9"/>
<line x1="439.2" y1="252.62" x2="442.2" y2="252.62" stroke="#111" stroke-width="0.9"/>
<line x1="439.2" y1="259.25" x2="442.2" y2="259.25" stroke="#111" stroke-width="0.9"/>
<line x1="439.2" y1="265.89" x2="442.2" y2="265.89" stroke="#111" stroke-width="0.9"/>
<line x1="439.2" y1="272.52" x2="442.2" y2="272.52" stroke="#111" stroke-width="0.9"/>
<line x1="439.2" y1="279.16" x2="442.2" y2="279.16" stroke="#111" stroke-width="0.9"/>
<line x1="439.2" y1="285.80" x2="442.2" y2="285.80" stroke="#111" stroke-width="0.9"/>
<line x1="439.2" y1="292.43" x2="442.2" y2="292.43" stroke="#111" stroke-width="0.9"/>
<line x1="439.2" y1="299.06" x2="442.2" y2="299.06" stroke="#111" stroke-width="0.9"/>
<line x1="439.2" y1="305.70" x2="442.2" y2="305.70" stroke="#111" stroke-width="0.9"/>
<line x1="439.2" y1="312.33" x2="442.2" y2="312.33" stroke="#111" stroke-width="0.9"/>
<line x1="439.2" y1="318.97" x2="442.2" y2="318.97" stroke="#111" stroke-width="0.9"/>
<line x1="439.2" y1="325.61" x2="442.2" y2="325.61" stroke="#111" stroke-width="0.9"/>
<line x1="439.2" y1="332.24" x2="442.2" y2="332.24" stroke="#111" stroke-width="0.9"/>
<line x1="375.60" y1="343.8" x2="375.60" y2="347.0" stroke="#111" stroke-width="0.9"/>
<text x="375.60" y="354.6" font-size="6.0" text-anchor="middle" fill="#1a1a1a" font-family='"Liberation Sans", sans-serif'>1</text>
<line x1="382.83" y1="343.8" x2="382.83" y2="347.0" stroke="#111" stroke-width="0.9"/>
<text x="382.83" y="354.6" font-size="6.0" text-anchor="middle" fill="#1a1a1a" font-family='"Liberation Sans", sans-serif'>2</text>
<line x1="390.06" y1="343.8" x2="390.06" y2="347.0" stroke="#111" stroke-width="0.9"/>
<text x="390.06" y="354.6" font-size="6.0" text-anchor="middle" fill="#1a1a1a" font-family='"Liberation Sans", sans-serif'>3</text>
<line x1="397.29" y1="343.8" x2="397.29" y2="347.0" stroke="#111" stroke-width="0.9"/>
<text x="397.29" y="354.6" font-size="6.0" text-anchor="middle" fill="#1a1a1a" font-family='"Liberation Sans", sans-serif'>4</text>
<line x1="404.52" y1="343.8" x2="404.52" y2="347.0" stroke="#111" stroke-width="0.9"/>
<text x="404.52" y="354.6" font-size="6.0" text-anchor="middle" fill="#1a1a1a" font-family='"Liberation Sans", sans-serif'>5</text>
<line x1="411.75" y1="343.8" x2="411.75" y2="347.0" stroke="#111" stroke-width="0.9"/>
<text x="411.75" y="354.6" font-size="6.0" text-anchor="middle" fill="#1a1a1a" font-family='"Liberation Sans", sans-serif'>6</text>
<line x1="418.98" y1="343.8" x2="418.98" y2="347.0" stroke="#111" stroke-width="0.9"/>
<text x="418.98" y="354.6" font-size="6.0" text-anchor="middle" fill="#1a1a1a" font-family='"Liberation Sans", sans-serif'>7</text>
<line x1="426.21" y1="343.8" x2="426.21" y2="347.0" stroke="#111" stroke-width="0.9"/>
<text x="426.21" y="354.6" font-size="6.0" text-anchor="middle" fill="#1a1a1a" font-family='"Liberation Sans", sans-serif'>8</text>
<line x1="433.44" y1="343.8" x2="433.44" y2="347.0" stroke="#111" stroke-width="0.9"/>
<text x="433.44" y="354.6" font-size="6.0" text-anchor="middle" fill="#1a1a1a" font-family='"Liberation Sans", sans-serif'>9</text>
<text x="404.2" y="365.1" font-size="7.6" text-anchor="middle" fill="#1a1a1a" font-family='"Liberation Sans", sans-serif' textLength="18.3" lengthAdjust="spacingAndGlyphs">Cluster</text>
<circle cx="383" cy="385.6" r="0.8" fill="#111"/>
<text x="386.4" y="387.20" font-size="4.5" fill="#1a1a1a" font-family='"Liberation Sans", sans-serif'>P&lt;0.05</text>
<circle cx="383" cy="391.6" r="1.75" fill="#111"/>
<text x="386.4" y="393.20" font-size="4.5" fill="#1a1a1a" font-family='"Liberation Sans", sans-serif'>P&lt;0.01</text>
<circle cx="383" cy="398.0" r="2.5" fill="#111"/>
<text x="386.4" y="399.60" font-size="4.5" fill="#1a1a1a" font-family='"Liberation Sans", sans-serif'>P&lt;0.001</text>
<text x="445.2" y="31.5" font-size="4.8" fill="#222" font-family='"Liberation Sans", sans-serif'>Chr. Gene</text>
<text x="457.8" y="42.00" font-size="5.2" fill="#111" stroke="#111" stroke-width="0.07" font-family='"Liberation Sans", sans-serif'>AKAP1 Gain</text>
<text x="457.8" y="48.63" font-size="5.2" fill="#111" stroke="#111" stroke-width="0.07" font-family='"Liberation Sans", sans-serif'>TP53 Loss</text>
<text x="457.8" y="55.27" font-size="5.2" fill="#111" stroke="#111" stroke-width="0.07" font-family='"Liberation Sans", sans-serif'>CYLD Loss</text>
<text x="457.8" y="61.91" font-size="5.2" fill="#111" stroke="#111" stroke-width="0.07" font-family='"Liberation Sans", sans-serif'>TRAF3 Loss</text>
<text x="457.8" y="68.54" font-size="5.2" fill="#111" stroke="#111" stroke-width="0.07" font-family='"Liberation Sans", sans-serif'>ABCD4 Loss</text>
<text x="457.8" y="75.17" font-size="5.2" fill="#111" stroke="#111" stroke-width="0.07" font-family='"Liberation Sans", sans-serif'>RB1 Loss</text>
<text x="457.8" y="81.81" font-size="5.2" fill="#111" stroke="#111" stroke-width="0.07" font-family='"Liberation Sans", sans-serif'>CDKN1B Loss</text>
<text x="457.8" y="88.45" font-size="5.2" fill="#111" stroke="#111" stroke-width="0.07" font-family='"Liberation Sans", sans-serif'>MYC Gain</text>
<text x="457.8" y="95.08" font-size="5.2" fill="#111" stroke="#111" stroke-width="0.07" font-family='"Liberation Sans", sans-serif'>DOCK5 Loss</text>
<text x="457.8" y="101.71" font-size="5.2" fill="#111" stroke="#111" stroke-width="0.07" font-family='"Liberation Sans", sans-serif'>PARK2 Loss</text>
<text x="457.8" y="108.35" font-size="5.2" fill="#111" stroke="#111" stroke-width="0.07" font-family='"Liberation Sans", sans-serif'>TNXB Gain</text>
<text x="457.8" y="114.98" font-size="5.2" fill="#111" stroke="#111" stroke-width="0.07" font-family='"Liberation Sans", sans-serif'>FGFR3 Loss</text>
<text x="457.8" y="121.62" font-size="5.2" fill="#111" stroke="#111" stroke-width="0.07" font-family='"Liberation Sans", sans-serif'>CKS1B Gain</text>
<text x="457.8" y="128.25" font-size="5.2" fill="#111" stroke="#111" stroke-width="0.07" font-family='"Liberation Sans", sans-serif'>FAM46C Loss</text>
<text x="457.8" y="134.89" font-size="5.2" fill="#111" stroke="#111" stroke-width="0.07" font-family='"Liberation Sans", sans-serif'>RPL5 Loss</text>
<text x="457.8" y="141.52" font-size="5.2" fill="#111" stroke="#111" stroke-width="0.07" font-family='"Liberation Sans", sans-serif'>CDKN2C Loss</text>
<text x="457.8" y="148.16" font-size="5.2" fill="#111" stroke="#111" stroke-width="0.07" font-family='"Liberation Sans", sans-serif'>SON Gain</text>
<text x="457.8" y="154.79" font-size="5.2" fill="#111" stroke="#111" stroke-width="0.07" font-family='"Liberation Sans", sans-serif'>ATM Loss</text>
<text x="457.8" y="161.43" font-size="5.2" fill="#111" stroke="#111" stroke-width="0.07" font-family='"Liberation Sans", sans-serif'>BIRC3 Loss</text>
<text x="457.8" y="168.06" font-size="5.2" fill="#111" stroke="#111" stroke-width="0.07" font-family='"Liberation Sans", sans-serif'>CCND1 Gain</text>
<text x="447.7" y="45.62" font-size="5.8" text-anchor="middle" fill="#222" font-family='"Liberation Sans", sans-serif'>17</text>
<line x1="455.5" y1="38.70" x2="455.5" y2="48.53" stroke="#111" stroke-width="0.9"/>
<text x="447.7" y="55.57" font-size="5.8" text-anchor="middle" fill="#222" font-family='"Liberation Sans", sans-serif'>16</text>
<line x1="455.5" y1="51.97" x2="455.5" y2="55.17" stroke="#111" stroke-width="1.0"/>
<text x="447.7" y="65.52" font-size="5.8" text-anchor="middle" fill="#222" font-family='"Liberation Sans", sans-serif'>14</text>
<line x1="455.5" y1="58.60" x2="455.5" y2="68.44" stroke="#111" stroke-width="0.9"/>
<text x="447.7" y="75.47" font-size="5.8" text-anchor="middle" fill="#222" font-family='"Liberation Sans", sans-serif'>13</text>
<line x1="455.5" y1="71.88" x2="455.5" y2="75.07" stroke="#111" stroke-width="1.0"/>
<text x="447.7" y="82.11" font-size="5.8" text-anchor="middle" fill="#222" font-family='"Liberation Sans", sans-serif'>12</text>
<line x1="455.5" y1="78.51" x2="455.5" y2="81.71" stroke="#111" stroke-width="1.0"/>
<text x="447.7" y="92.06" font-size="5.8" text-anchor="middle" fill="#222" font-family='"Liberation Sans", sans-serif'>8</text>
<line x1="455.5" y1="85.15" x2="455.5" y2="94.98" stroke="#111" stroke-width="0.9"/>
<text x="447.7" y="105.33" font-size="5.8" text-anchor="middle" fill="#222" font-family='"Liberation Sans", sans-serif'>6</text>
<line x1="455.5" y1="98.41" x2="455.5" y2="108.25" stroke="#111" stroke-width="0.9"/>
<text x="447.7" y="115.28" font-size="5.8" text-anchor="middle" fill="#222" font-family='"Liberation Sans", sans-serif'>4</text>
<line x1="455.5" y1="111.69" x2="455.5" y2="114.88" stroke="#111" stroke-width="1.0"/>
<text x="447.7" y="131.87" font-size="5.8" text-anchor="middle" fill="#222" font-family='"Liberation Sans", sans-serif'>1</text>
<line x1="455.5" y1="118.32" x2="455.5" y2="141.42" stroke="#111" stroke-width="0.9"/>
<text x="447.7" y="148.46" font-size="5.8" text-anchor="middle" fill="#222" font-family='"Liberation Sans", sans-serif'>21</text>
<line x1="455.5" y1="144.86" x2="455.5" y2="148.06" stroke="#111" stroke-width="1.0"/>
<text x="447.7" y="161.73" font-size="5.8" text-anchor="middle" fill="#222" font-family='"Liberation Sans", sans-serif'>11</text>
<line x1="455.5" y1="151.50" x2="455.5" y2="167.97" stroke="#111" stroke-width="0.9"/>
<text x="447.7" y="181.63" font-size="5.8" text-anchor="middle" fill="#222" font-family='"Liberation Sans", sans-serif'>9</text>
<line x1="455.5" y1="178.03" x2="455.5" y2="181.23" stroke="#111" stroke-width="1.0"/>
<text x="445.6" y="174.70" font-size="5.2" fill="#111" stroke="#111" stroke-width="0.07" font-family='"Liberation Sans", sans-serif'>3,5,7,9,15,19 Gain</text>
<text x="444.8" y="187.97" font-size="5.2" fill="#111" stroke="#111" stroke-width="0.07" font-family='"Liberation Sans", sans-serif'>t(4;14)</text>
<text x="444.8" y="194.60" font-size="5.2" fill="#111" stroke="#111" stroke-width="0.07" font-family='"Liberation Sans", sans-serif'>t(6;14)</text>
<text x="444.8" y="201.24" font-size="5.2" fill="#111" stroke="#111" stroke-width="0.07" font-family='"Liberation Sans", sans-serif'>t(11;14)</text>
<text x="444.8" y="207.88" font-size="5.2" fill="#111" stroke="#111" stroke-width="0.07" font-family='"Liberation Sans", sans-serif'>t(14;16)</text>
<text x="444.8" y="214.51" font-size="5.2" fill="#111" stroke="#111" stroke-width="0.07" font-family='"Liberation Sans", sans-serif'>MYC translocation</text>
<text x="444.8" y="221.14" font-size="5.2" fill="#111" stroke="#111" stroke-width="0.07" font-family='"Liberation Sans", sans-serif'>High CCND1 exp</text>
<text x="444.8" y="227.78" font-size="5.2" fill="#111" stroke="#111" stroke-width="0.07" font-family='"Liberation Sans", sans-serif'>High CCND2 exp</text>
<text x="457.8" y="181.33" font-size="5.2" fill="#111" stroke="#111" stroke-width="0.07" font-family='"Liberation Sans", sans-serif'>CDKN2A Loss</text>
<text x="444.8" y="234.41" font-size="5.2" font-style="italic" fill="#111" stroke="#111" stroke-width="0.07" font-family='"Liberation Sans", sans-serif'>KRAS</text>
<text x="444.8" y="241.05" font-size="5.2" font-style="italic" fill="#111" stroke="#111" stroke-width="0.07" font-family='"Liberation Sans", sans-serif'>NRAS</text>
<text x="444.8" y="247.69" font-size="5.2" font-style="italic" fill="#111" stroke="#111" stroke-width="0.07" font-family='"Liberation Sans", sans-serif'>BRAF</text>
<text x="444.8" y="254.32" font-size="5.2" font-style="italic" fill="#111" stroke="#111" stroke-width="0.07" font-family='"Liberation Sans", sans-serif'>PTPN11</text>
<text x="444.8" y="260.95" font-size="5.2" font-style="italic" fill="#111" stroke="#111" stroke-width="0.07" font-family='"Liberation Sans", sans-serif'>FGFR3</text>
<text x="444.8" y="267.59" font-size="5.2" font-style="italic" fill="#111" stroke="#111" stroke-width="0.07" font-family='"Liberation Sans", sans-serif'>PRKD2</text>
<text x="444.8" y="274.22" font-size="5.2" font-style="italic" fill="#111" stroke="#111" stroke-width="0.07" font-family='"Liberation Sans", sans-serif'>TRAF2</text>
<text x="444.8" y="280.86" font-size="5.2" font-style="italic" fill="#111" stroke="#111" stroke-width="0.07" font-family='"Liberation Sans", sans-serif'>TRAF3</text>
<text x="444.8" y="287.50" font-size="5.2" font-style="italic" fill="#111" stroke="#111" stroke-width="0.07" font-family='"Liberation Sans", sans-serif'>CYLD</text>
<text x="444.8" y="294.13" font-size="5.2" font-style="italic" fill="#111" stroke="#111" stroke-width="0.07" font-family='"Liberation Sans", sans-serif'>NFKBIA</text>
<text x="444.8" y="300.76" font-size="5.2" font-style="italic" fill="#111" stroke="#111" stroke-width="0.07" font-family='"Liberation Sans", sans-serif'>DIS3</text>
<text x="444.8" y="307.40" font-size="5.2" font-style="italic" fill="#111" stroke="#111" stroke-width="0.07" font-family='"Liberation Sans", sans-serif'>RB1</text>
<text x="444.8" y="314.03" font-size="5.2" font-style="italic" fill="#111" stroke="#111" stroke-width="0.07" font-family='"Liberation Sans", sans-serif'>FAM46C</text>
<text x="444.8" y="320.67" font-size="5.2" font-style="italic" fill="#111" stroke="#111" stroke-width="0.07" font-family='"Liberation Sans", sans-serif'>TP53</text>
<text x="444.8" y="327.31" font-size="5.2" font-style="italic" fill="#111" stroke="#111" stroke-width="0.07" font-family='"Liberation Sans", sans-serif'>MAX</text>
<text x="444.8" y="333.94" font-size="5.2" font-style="italic" fill="#111" stroke="#111" stroke-width="0.07" font-family='"Liberation Sans", sans-serif'>IRF4</text>
<text transform="translate(6.9,449.9) scale(1.17,1)" font-size="10.3" font-weight="bold" font-family='"Liberation Sans", sans-serif'>D</text>
<line x1="40.9" y1="453.0" x2="40.9" y2="545.5" stroke="#111" stroke-width="1.3"/>
<line x1="40.3" y1="544.9" x2="171.1" y2="544.9" stroke="#111" stroke-width="1.3"/>
<line x1="38.3" y1="536.82" x2="40.9" y2="536.82" stroke="#111" stroke-width="0.9"/>
<line x1="38.3" y1="527.84" x2="40.9" y2="527.84" stroke="#111" stroke-width="0.9"/>
<text transform="translate(34.70,530.14) scale(0.9,1)" font-size="6.4" text-anchor="end" fill="#1a1a1a" font-family='"Liberation Sans", sans-serif'>20%</text>
<line x1="38.3" y1="518.86" x2="40.9" y2="518.86" stroke="#111" stroke-width="0.9"/>
<line x1="38.3" y1="509.88" x2="40.9" y2="509.88" stroke="#111" stroke-width="0.9"/>
<text transform="translate(34.70,512.18) scale(0.9,1)" font-size="6.4" text-anchor="end" fill="#1a1a1a" font-family='"Liberation Sans", sans-serif'>40%</text>
<line x1="38.3" y1="500.90" x2="40.9" y2="500.90" stroke="#111" stroke-width="0.9"/>
<line x1="38.3" y1="491.92" x2="40.9" y2="491.92" stroke="#111" stroke-width="0.9"/>
<text transform="translate(34.70,494.22) scale(0.9,1)" font-size="6.4" text-anchor="end" fill="#1a1a1a" font-family='"Liberation Sans", sans-serif'>60%</text>
<line x1="38.3" y1="482.94" x2="40.9" y2="482.94" stroke="#111" stroke-width="0.9"/>
<line x1="38.3" y1="473.96" x2="40.9" y2="473.96" stroke="#111" stroke-width="0.9"/>
<text transform="translate(34.70,476.26) scale(0.9,1)" font-size="6.4" text-anchor="end" fill="#1a1a1a" font-family='"Liberation Sans", sans-serif'>80%</text>
<line x1="38.3" y1="464.98" x2="40.9" y2="464.98" stroke="#111" stroke-width="0.9"/>
<line x1="38.3" y1="456.00" x2="40.9" y2="456.00" stroke="#111" stroke-width="0.9"/>
<text transform="translate(34.70,458.30) scale(0.9,1)" font-size="6.4" text-anchor="end" fill="#1a1a1a" font-family='"Liberation Sans", sans-serif'>100%</text>
<line x1="40.90" y1="544.9" x2="40.90" y2="547.5" stroke="#111" stroke-width="0.9"/>
<text transform="translate(40.90,556.3) scale(0.88,1)" font-size="7.0" text-anchor="middle" fill="#1a1a1a" font-family='"Liberation Sans", sans-serif'>0</text>
<line x1="59.40" y1="544.9" x2="59.40" y2="547.5" stroke="#111" stroke-width="0.9"/>
<text transform="translate(59.40,556.3) scale(0.88,1)" font-size="7.0" text-anchor="middle" fill="#1a1a1a" font-family='"Liberation Sans", sans-serif'>5</text>
<line x1="77.90" y1="544.9" x2="77.90" y2="547.5" stroke="#111" stroke-width="0.9"/>
<text transform="translate(77.90,556.3) scale(0.88,1)" font-size="7.0" text-anchor="middle" fill="#1a1a1a" font-family='"Liberation Sans", sans-serif'>10</text>
<line x1="96.40" y1="544.9" x2="96.40" y2="547.5" stroke="#111" stroke-width="0.9"/>
<text transform="translate(96.40,556.3) scale(0.88,1)" font-size="7.0" text-anchor="middle" fill="#1a1a1a" font-family='"Liberation Sans", sans-serif'>15</text>
<line x1="114.90" y1="544.9" x2="114.90" y2="547.5" stroke="#111" stroke-width="0.9"/>
<text transform="translate(114.90,556.3) scale(0.88,1)" font-size="7.0" text-anchor="middle" fill="#1a1a1a" font-family='"Liberation Sans", sans-serif'>20</text>
<line x1="133.40" y1="544.9" x2="133.40" y2="547.5" stroke="#111" stroke-width="0.9"/>
<text transform="translate(133.40,556.3) scale(0.88,1)" font-size="7.0" text-anchor="middle" fill="#1a1a1a" font-family='"Liberation Sans", sans-serif'>25</text>
<line x1="151.90" y1="544.9" x2="151.90" y2="547.5" stroke="#111" stroke-width="0.9"/>
<text transform="translate(151.90,556.3) scale(0.88,1)" font-size="7.0" text-anchor="middle" fill="#1a1a1a" font-family='"Liberation Sans", sans-serif'>30</text>
<line x1="170.40" y1="544.9" x2="170.40" y2="547.5" stroke="#111" stroke-width="0.9"/>
<text transform="translate(170.40,556.3) scale(0.88,1)" font-size="7.0" text-anchor="middle" fill="#1a1a1a" font-family='"Liberation Sans", sans-serif'>35</text>
<text x="107.40" y="568.2" font-size="8.3" text-anchor="middle" fill="#1a1a1a" font-family='"Liberation Sans", sans-serif' textLength="22.7" lengthAdjust="spacingAndGlyphs">Months</text>
<text transform="translate(12.80,499.6) rotate(-90)" font-size="7.8" text-anchor="middle" fill="#1a1a1a" font-family='"Liberation Sans", sans-serif' textLength="71" lengthAdjust="spacingAndGlyphs">Progression free survival</text>
<path d="M40.90,455.80H46.30V456.60H49.10V458.30H56.00V460.40H57.40V461.10H59.50V463.20H60.90V465.90H62.20V466.90H65.70V467.30H71.20V468.00H75.40V469.40H79.60V470.80H82.30V472.20H83.70V475.60H85.80V477.70H87.20V479.80H89.20V482.50H93.40V483.20H100.30V483.20H104.50V484.60H107.30V486.00H108.60V488.80H110.50V492.20H113.30V492.90H116.10V495.60H120.20V499.10H124.40V502.50H127.90V506.00H135.50V507.40H141.00V510.20H146.60V512.90H149.30V517.10H152.80V519.90H155.60V523.30H170.10V523.30" fill="none" stroke="#e3a228" stroke-width="1.5"/>
<path d="M40.90,455.80H46.30V456.60H49.10V458.30H50.50V459.00H56.00V460.40H60.20V461.80H65.70V463.20H69.90V464.50H72.60V465.20H76.80V465.50H79.60V467.30H83.70V468.70H87.90V470.50H90.60V471.50H94.80V473.30H98.90V475.60H103.10V478.40H105.90V481.90H108.60V483.90H113.30V485.20H116.10V487.30H121.60V488.00H124.40V490.10H129.90V491.50H134.10V492.90H138.20V496.30H139.60V497.60H150.80V497.60H150.80V505.20H170.10V505.20" fill="none" stroke="#1f2f5c" stroke-width="1.5"/>
<line x1="47.90" y1="529.9" x2="57.90" y2="529.9" stroke="#1f2f5c" stroke-width="3.2"/>
<line x1="47.90" y1="537.3" x2="57.90" y2="537.3" stroke="#e3a228" stroke-width="3.0"/>
<text x="60.80" y="532.2" font-size="5.5" fill="#111" font-family='"Liberation Sans", sans-serif' textLength="47.6" lengthAdjust="spacingAndGlyphs">CN-cluster 1, n=144</text>
<text x="60.80" y="538.9" font-size="5.5" fill="#111" font-family='"Liberation Sans", sans-serif' textLength="44.9" lengthAdjust="spacingAndGlyphs">CN-cluster 7, n=84</text>
<text x="132.90" y="538.8" font-size="5.2" fill="#222" font-family='"Liberation Sans", sans-serif'>p=0.04</text>
<line x1="210.5" y1="453.0" x2="210.5" y2="545.5" stroke="#111" stroke-width="1.3"/>
<line x1="209.9" y1="544.9" x2="340.7" y2="544.9" stroke="#111" stroke-width="1.3"/>
<line x1="207.9" y1="536.82" x2="210.5" y2="536.82" stroke="#111" stroke-width="0.9"/>
<line x1="207.9" y1="527.84" x2="210.5" y2="527.84" stroke="#111" stroke-width="0.9"/>
<text transform="translate(204.30,530.14) scale(0.9,1)" font-size="6.4" text-anchor="end" fill="#1a1a1a" font-family='"Liberation Sans", sans-serif'>20%</text>
<line x1="207.9" y1="518.86" x2="210.5" y2="518.86" stroke="#111" stroke-width="0.9"/>
<line x1="207.9" y1="509.88" x2="210.5" y2="509.88" stroke="#111" stroke-width="0.9"/>
<text transform="translate(204.30,512.18) scale(0.9,1)" font-size="6.4" text-anchor="end" fill="#1a1a1a" font-family='"Liberation Sans", sans-serif'>40%</text>
<line x1="207.9" y1="500.90" x2="210.5" y2="500.90" stroke="#111" stroke-width="0.9"/>
<line x1="207.9" y1="491.92" x2="210.5" y2="491.92" stroke="#111" stroke-width="0.9"/>
<text transform="translate(204.30,494.22) scale(0.9,1)" font-size="6.4" text-anchor="end" fill="#1a1a1a" font-family='"Liberation Sans", sans-serif'>60%</text>
<line x1="207.9" y1="482.94" x2="210.5" y2="482.94" stroke="#111" stroke-width="0.9"/>
<line x1="207.9" y1="473.96" x2="210.5" y2="473.96" stroke="#111" stroke-width="0.9"/>
<text transform="translate(204.30,476.26) scale(0.9,1)" font-size="6.4" text-anchor="end" fill="#1a1a1a" font-family='"Liberation Sans", sans-serif'>80%</text>
<line x1="207.9" y1="464.98" x2="210.5" y2="464.98" stroke="#111" stroke-width="0.9"/>
<line x1="207.9" y1="456.00" x2="210.5" y2="456.00" stroke="#111" stroke-width="0.9"/>
<text transform="translate(204.30,458.30) scale(0.9,1)" font-size="6.4" text-anchor="end" fill="#1a1a1a" font-family='"Liberation Sans", sans-serif'>100%</text>
<line x1="210.50" y1="544.9" x2="210.50" y2="547.5" stroke="#111" stroke-width="0.9"/>
<text transform="translate(210.50,556.3) scale(0.88,1)" font-size="7.0" text-anchor="middle" fill="#1a1a1a" font-family='"Liberation Sans", sans-serif'>0</text>
<line x1="229.00" y1="544.9" x2="229.00" y2="547.5" stroke="#111" stroke-width="0.9"/>
<text transform="translate(229.00,556.3) scale(0.88,1)" font-size="7.0" text-anchor="middle" fill="#1a1a1a" font-family='"Liberation Sans", sans-serif'>5</text>
<line x1="247.50" y1="544.9" x2="247.50" y2="547.5" stroke="#111" stroke-width="0.9"/>
<text transform="translate(247.50,556.3) scale(0.88,1)" font-size="7.0" text-anchor="middle" fill="#1a1a1a" font-family='"Liberation Sans", sans-serif'>10</text>
<line x1="266.00" y1="544.9" x2="266.00" y2="547.5" stroke="#111" stroke-width="0.9"/>
<text transform="translate(266.00,556.3) scale(0.88,1)" font-size="7.0" text-anchor="middle" fill="#1a1a1a" font-family='"Liberation Sans", sans-serif'>15</text>
<line x1="284.50" y1="544.9" x2="284.50" y2="547.5" stroke="#111" stroke-width="0.9"/>
<text transform="translate(284.50,556.3) scale(0.88,1)" font-size="7.0" text-anchor="middle" fill="#1a1a1a" font-family='"Liberation Sans", sans-serif'>20</text>
<line x1="303.00" y1="544.9" x2="303.00" y2="547.5" stroke="#111" stroke-width="0.9"/>
<text transform="translate(303.00,556.3) scale(0.88,1)" font-size="7.0" text-anchor="middle" fill="#1a1a1a" font-family='"Liberation Sans", sans-serif'>25</text>
<line x1="321.50" y1="544.9" x2="321.50" y2="547.5" stroke="#111" stroke-width="0.9"/>
<text transform="translate(321.50,556.3) scale(0.88,1)" font-size="7.0" text-anchor="middle" fill="#1a1a1a" font-family='"Liberation Sans", sans-serif'>30</text>
<line x1="340.00" y1="544.9" x2="340.00" y2="547.5" stroke="#111" stroke-width="0.9"/>
<text transform="translate(340.00,556.3) scale(0.88,1)" font-size="7.0" text-anchor="middle" fill="#1a1a1a" font-family='"Liberation Sans", sans-serif'>35</text>
<text x="277.00" y="568.2" font-size="8.3" text-anchor="middle" fill="#1a1a1a" font-family='"Liberation Sans", sans-serif' textLength="22.7" lengthAdjust="spacingAndGlyphs">Months</text>
<text transform="translate(182.50,499.6) rotate(-90)" font-size="7.8" text-anchor="middle" fill="#1a1a1a" font-family='"Liberation Sans", sans-serif' textLength="71" lengthAdjust="spacingAndGlyphs">Progression free survival</text>
<path d="M210.50,455.80H215.90V456.60H218.70V458.30H225.60V460.40H227.00V461.10H229.10V463.20H230.50V465.90H231.80V466.90H235.30V467.30H240.80V468.00H245.00V469.40H249.20V470.80H251.90V472.20H253.30V475.60H255.40V477.70H256.80V479.80H258.80V482.50H263.00V483.20H269.90V483.20H274.10V484.60H276.90V486.00H278.20V488.80H280.10V492.20H282.90V492.90H285.70V495.60H289.80V499.10H294.00V502.50H297.50V506.00H305.10V507.40H310.60V510.20H316.20V512.90H318.90V517.10H322.40V519.90H325.20V523.30H339.70V523.30" fill="none" stroke="#e3a228" stroke-width="1.5"/>
<path d="M210.50,456.20H213.30V457.20H218.90V457.60H223.00V459.40H227.20V460.00H229.90V461.40H232.70V462.20H236.90V462.70H241.00V463.20H243.80V465.90H246.60V467.30H250.70V468.70H254.90V470.80H260.40V471.90H265.90V474.90H270.10V475.60H277.50V476.60H280.30V478.00H285.90V479.40H292.80V480.80H296.90V482.90H299.70V484.90H305.20V487.00H310.80V489.80H319.10V491.20H321.90V493.90H327.40V496.70H332.90V498.10H337.10V500.20H339.60V502.90" fill="none" stroke="#1f2f5c" stroke-width="1.5"/>
<line x1="217.50" y1="529.9" x2="227.50" y2="529.9" stroke="#1f2f5c" stroke-width="3.2"/>
<line x1="217.50" y1="537.3" x2="227.50" y2="537.3" stroke="#e3a228" stroke-width="3.0"/>
<text x="230.40" y="532.2" font-size="5.5" fill="#111" font-family='"Liberation Sans", sans-serif' textLength="47.6" lengthAdjust="spacingAndGlyphs">CN-cluster 2, n=346</text>
<text x="230.40" y="538.9" font-size="5.5" fill="#111" font-family='"Liberation Sans", sans-serif' textLength="44.9" lengthAdjust="spacingAndGlyphs">CN-cluster 7, n=84</text>
<text x="302.50" y="538.8" font-size="5.2" fill="#222" font-family='"Liberation Sans", sans-serif'>p&lt;0.001</text>
<line x1="380.2" y1="453.0" x2="380.2" y2="545.5" stroke="#111" stroke-width="1.3"/>
<line x1="379.59999999999997" y1="544.9" x2="510.4" y2="544.9" stroke="#111" stroke-width="1.3"/>
<line x1="377.59999999999997" y1="536.82" x2="380.2" y2="536.82" stroke="#111" stroke-width="0.9"/>
<line x1="377.59999999999997" y1="527.84" x2="380.2" y2="527.84" stroke="#111" stroke-width="0.9"/>
<text transform="translate(374.00,530.14) scale(0.9,1)" font-size="6.4" text-anchor="end" fill="#1a1a1a" font-family='"Liberation Sans", sans-serif'>20%</text>
<line x1="377.59999999999997" y1="518.86" x2="380.2" y2="518.86" stroke="#111" stroke-width="0.9"/>
<line x1="377.59999999999997" y1="509.88" x2="380.2" y2="509.88" stroke="#111" stroke-width="0.9"/>
<text transform="translate(374.00,512.18) scale(0.9,1)" font-size="6.4" text-anchor="end" fill="#1a1a1a" font-family='"Liberation Sans", sans-serif'>40%</text>
<line x1="377.59999999999997" y1="500.90" x2="380.2" y2="500.90" stroke="#111" stroke-width="0.9"/>
<line x1="377.59999999999997" y1="491.92" x2="380.2" y2="491.92" stroke="#111" stroke-width="0.9"/>
<text transform="translate(374.00,494.22) scale(0.9,1)" font-size="6.4" text-anchor="end" fill="#1a1a1a" font-family='"Liberation Sans", sans-serif'>60%</text>
<line x1="377.59999999999997" y1="482.94" x2="380.2" y2="482.94" stroke="#111" stroke-width="0.9"/>
<line x1="377.59999999999997" y1="473.96" x2="380.2" y2="473.96" stroke="#111" stroke-width="0.9"/>
<text transform="translate(374.00,476.26) scale(0.9,1)" font-size="6.4" text-anchor="end" fill="#1a1a1a" font-family='"Liberation Sans", sans-serif'>80%</text>
<line x1="377.59999999999997" y1="464.98" x2="380.2" y2="464.98" stroke="#111" stroke-width="0.9"/>
<line x1="377.59999999999997" y1="456.00" x2="380.2" y2="456.00" stroke="#111" stroke-width="0.9"/>
<text transform="translate(374.00,458.30) scale(0.9,1)" font-size="6.4" text-anchor="end" fill="#1a1a1a" font-family='"Liberation Sans", sans-serif'>100%</text>
<line x1="380.20" y1="544.9" x2="380.20" y2="547.5" stroke="#111" stroke-width="0.9"/>
<text transform="translate(380.20,556.3) scale(0.88,1)" font-size="7.0" text-anchor="middle" fill="#1a1a1a" font-family='"Liberation Sans", sans-serif'>0</text>
<line x1="398.70" y1="544.9" x2="398.70" y2="547.5" stroke="#111" stroke-width="0.9"/>
<text transform="translate(398.70,556.3) scale(0.88,1)" font-size="7.0" text-anchor="middle" fill="#1a1a1a" font-family='"Liberation Sans", sans-serif'>5</text>
<line x1="417.20" y1="544.9" x2="417.20" y2="547.5" stroke="#111" stroke-width="0.9"/>
<text transform="translate(417.20,556.3) scale(0.88,1)" font-size="7.0" text-anchor="middle" fill="#1a1a1a" font-family='"Liberation Sans", sans-serif'>10</text>
<line x1="435.70" y1="544.9" x2="435.70" y2="547.5" stroke="#111" stroke-width="0.9"/>
<text transform="translate(435.70,556.3) scale(0.88,1)" font-size="7.0" text-anchor="middle" fill="#1a1a1a" font-family='"Liberation Sans", sans-serif'>15</text>
<line x1="454.20" y1="544.9" x2="454.20" y2="547.5" stroke="#111" stroke-width="0.9"/>
<text transform="translate(454.20,556.3) scale(0.88,1)" font-size="7.0" text-anchor="middle" fill="#1a1a1a" font-family='"Liberation Sans", sans-serif'>20</text>
<line x1="472.70" y1="544.9" x2="472.70" y2="547.5" stroke="#111" stroke-width="0.9"/>
<text transform="translate(472.70,556.3) scale(0.88,1)" font-size="7.0" text-anchor="middle" fill="#1a1a1a" font-family='"Liberation Sans", sans-serif'>25</text>
<line x1="491.20" y1="544.9" x2="491.20" y2="547.5" stroke="#111" stroke-width="0.9"/>
<text transform="translate(491.20,556.3) scale(0.88,1)" font-size="7.0" text-anchor="middle" fill="#1a1a1a" font-family='"Liberation Sans", sans-serif'>30</text>
<line x1="509.70" y1="544.9" x2="509.70" y2="547.5" stroke="#111" stroke-width="0.9"/>
<text transform="translate(509.70,556.3) scale(0.88,1)" font-size="7.0" text-anchor="middle" fill="#1a1a1a" font-family='"Liberation Sans", sans-serif'>35</text>
<text x="446.70" y="568.2" font-size="8.3" text-anchor="middle" fill="#1a1a1a" font-family='"Liberation Sans", sans-serif' textLength="22.7" lengthAdjust="spacingAndGlyphs">Months</text>
<text transform="translate(351.30,499.6) rotate(-90)" font-size="7.8" text-anchor="middle" fill="#1a1a1a" font-family='"Liberation Sans", sans-serif' textLength="71" lengthAdjust="spacingAndGlyphs">Progression free survival</text>
<path d="M380.20,455.80H385.60V456.60H388.40V458.30H395.30V460.40H396.70V461.10H398.80V463.20H400.20V465.90H401.50V466.90H405.00V467.30H410.50V468.00H414.70V469.40H418.90V470.80H421.60V472.20H423.00V475.60H425.10V477.70H426.50V479.80H428.50V482.50H432.70V483.20H439.60V483.20H443.80V484.60H446.60V486.00H447.90V488.80H449.80V492.20H452.60V492.90H455.40V495.60H459.50V499.10H463.70V502.50H467.20V506.00H474.80V507.40H480.30V510.20H485.90V512.90H488.60V517.10H492.10V519.90H494.90V523.30H509.40V523.30" fill="none" stroke="#e3a228" stroke-width="1.5"/>
<path d="M380.20,455.80H385.70V456.20H389.90V458.30H391.20V460.00H396.80V460.00H398.90V462.20H403.70V463.90H405.80V465.50H408.50V467.70H412.00V468.00H425.20V468.70H425.90V469.40H435.60V469.40H436.90V471.50H439.70V472.90H448.20V473.20H450.30V475.20H451.70V478.70H455.90V482.90H461.40V484.20H462.80V485.60H466.90V486.30H468.30V489.80H469.70V492.50H485.20V492.50H485.80V494.90H489.40V496.70H490.00V500.30H497.30V500.90H497.90V505.80H505.80V506.40H506.40V512.50H509.60V513.10H509.60V519.10" fill="none" stroke="#9c1438" stroke-width="1.5"/>
<line x1="387.20" y1="529.9" x2="397.20" y2="529.9" stroke="#9c1438" stroke-width="3.2"/>
<line x1="387.20" y1="537.3" x2="397.20" y2="537.3" stroke="#e3a228" stroke-width="3.0"/>
<text x="400.10" y="532.2" font-size="5.5" fill="#111" font-family='"Liberation Sans", sans-serif' textLength="44.6" lengthAdjust="spacingAndGlyphs">CN-cluster 5, n=68</text>
<text x="400.10" y="538.9" font-size="5.5" fill="#111" font-family='"Liberation Sans", sans-serif' textLength="44.9" lengthAdjust="spacingAndGlyphs">CN-cluster 7, n=84</text>
<text x="472.20" y="538.8" font-size="5.2" fill="#222" font-family='"Liberation Sans", sans-serif'>p=0.04</text>
<rect x="0" y="0" width="520" height="1.0" fill="#000"/>
<rect x="0" y="0" width="1.4" height="577" fill="#000"/>
<rect x="517.8" y="0" width="2.2" height="577" fill="#000"/>
<rect x="0" y="574.6" width="520" height="2.4" fill="#000"/>
</svg></body></html>
